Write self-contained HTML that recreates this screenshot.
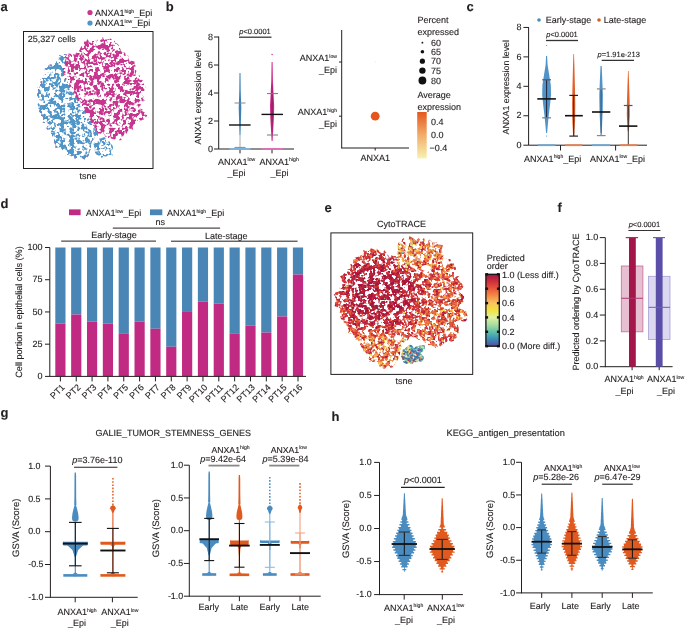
<!DOCTYPE html><html><head><meta charset="utf-8"><style>html,body{margin:0;padding:0;background:#fff;}svg{display:block;will-change:transform;filter:blur(0.25px);}text{stroke:#231f20;stroke-width:0.12px;text-rendering:geometricPrecision;}</style></head><body>
<svg width="685" height="629" viewBox="0 0 685 629" font-family='"Liberation Sans", sans-serif' font-size="9" fill="#231f20">
<rect width="685" height="629" fill="#fff"/>
<text x="0.5" y="10.6" font-size="13" font-weight="bold">a</text>
<circle cx="90" cy="12.5" r="2.6" fill="#c8368e"/>
<circle cx="90" cy="23" r="2.6" fill="#4f95c8"/>
<text x="95" y="15.8">ANXA1<tspan font-size="5.1" dy="-3.3">high</tspan><tspan dy="3.3">_Epi</tspan></text>
<text x="95" y="26.3">ANXA1<tspan font-size="5.1" dy="-3.3">low</tspan><tspan dy="3.3">_Epi</tspan></text>
<rect x="23.5" y="31.5" width="129.5" height="137" fill="none" stroke="#231f20" stroke-width="1"/>
<text x="27.8" y="42.3">25,327 cells</text>
<text x="88" y="179" text-anchor="middle">tsne</text>
<defs><filter id="texA" x="0" y="0" width="685" height="629" filterUnits="userSpaceOnUse"><feTurbulence type="fractalNoise" baseFrequency="0.2" numOctaves="2" seed="5" result="t1"/><feTurbulence type="fractalNoise" baseFrequency="0.5" numOctaves="1" seed="8" result="t2"/><feComposite in="t1" in2="t2" operator="arithmetic" k1="0" k2="0.6" k3="0.4" k4="0" result="t"/><feColorMatrix in="t" type="matrix" values="0 0 0 0 0  0 0 0 0 0  0 0 0 0 0  0 0 0 14 -6.5" result="m"/><feComposite in="SourceGraphic" in2="m" operator="in"/></filter>
<clipPath id="clipA"><path d="M91,40.8 92.8,38.8 94.7,41.1 96.6,39.2 98.4,40.1 100.3,40.5 102.5,37.2 104.3,38.2 106.2,39.5 108.4,39.2 110.7,38.6 112.4,40.3 114.5,40.5 115.8,43.1 117.7,43.9 119.1,45.5 120,48.3 121,50.7 122.1,52.8 124.4,52.6 126,53.4 127.1,54.9 128.6,56 128.4,59.2 130,60.2 132.1,60.9 134.5,61.5 134.6,64.4 135.8,66.1 135,69.4 136.5,70.7 135.4,73.9 136.1,75.7 140.3,75.5 138.4,78.9 141.5,79.2 142.8,80.6 142.7,82.6 144,84 145,85.7 146.4,87.2 145.3,89.4 144.1,91.5 143.6,93.4 142.8,95.3 143.5,96.9 142.6,98.7 145,100.4 141.6,102.1 140.8,103.8 140.4,105.7 138.2,107.3 143.2,110 141,110.6 143.9,112.1 145.8,113.5 148.4,117.4 143,117.5 143.9,119.6 140.9,120.4 139.3,121.7 137.2,122.3 137.2,124.1 134,124.1 133.1,125.4 132.5,127 133.3,129.8 127.9,128 129.1,131.6 128.4,133.7 125.7,133.9 124.5,135.6 122.3,136 122.4,139.5 120.4,140.2 118.3,140.5 116,139.7 113.8,139.2 111.8,138.8 109.4,137.4 108.8,140.9 105.5,136.7 102.4,131.5 101.3,133.5 99.7,134.3 97.9,135.3 96.5,136.3 95,137.4 93.5,139.2 91.9,141.6 91.6,142.2 91.2,143.5 90.5,148.8 90.2,150.4 90,149.7 88.6,155.6 87.6,157.2 86.9,156.8 86.2,156.6 85.1,159.2 84.3,159.5 82.5,158.3 80.9,157.1 78.8,157.6 75.9,160.3 74.6,158.3 73.8,155.3 71.4,156.2 69.8,155.3 67.6,155.4 65.3,155.5 64.4,153 63.2,151.2 61.7,149.7 61.2,147 58.5,147.3 55.5,147.7 55,145.6 54.7,143.3 54.1,141.4 54,139.1 53.5,137.2 52.4,135.9 51.8,134 50.6,132.7 51,130.3 48.2,130 46.6,128.8 47,126.5 48.4,123.8 46,123.1 42.7,122.6 43.5,120.4 43.3,118.6 43.1,116.8 40.9,115.5 41.9,113.4 39.2,112.2 39.5,110 37.6,108.2 37.6,106.1 37.9,104 39.8,102 39.4,100 38.9,98.1 37.3,96 37.2,93.9 38.7,92.1 37.8,90 36.9,87.9 38.5,86.4 40,84.9 41.1,83.4 40.1,81.1 40.2,79.2 42.7,78.3 42.7,76.3 44.3,75 45.9,73.8 44.4,70.8 44.5,68.6 47.1,68.1 48.3,66.6 49,64.8 51.4,64.4 52.7,63 53.1,60.8 56.7,61.7 57.3,59.4 58,56.9 59.5,55.3 62.9,56.2 64.2,54.3 66.8,54.3 68,53.6 69.5,53.5 71.6,54.2 74.3,54.2 76.5,53.3 77.3,50.2 79.3,50.5 80.4,48.1 81.8,46.1 83.5,45.9 84.3,41.2 86.2,41.8 87.4,38.4 89.6,42.7Z"/></clipPath></defs>
<g filter="url(#texA)">
<g clip-path="url(#clipA)"><rect x="20" y="30" width="140" height="140" fill="#c8368e"/><path d="M20,20 66,20 66,53 65,62 63,68 64,77 70,86 76,97 82,106 87,115 92,124 98,133 99,140 99,175 20,175Z" fill="#4f95c8"/></g>
<path d="M93,145 93.9,143.1 95.8,141.8 96.8,139.8 98.9,138.7 101.5,138.3 104.3,136.9 106.1,139.1 108.1,139.5 109.6,140.4 110.1,142.6 111.3,144.3 112.8,146 113,148.4 113,150.9 114.2,154.3 112.3,155.5 108.8,154.7 107.5,156 105.8,156.4 103.9,156.2 101.9,157.8 99.9,157.2 98.8,155.4 96.8,154.8 95.2,153.3 94.4,151.4 94.7,149.3 94.6,147.4Z" fill="#4f95c8"/>
</g>
<text x="165.8" y="10.6" font-size="13" font-weight="bold">b</text>
<line x1="218.7" y1="36.5" x2="218.7" y2="149" stroke="#231f20" stroke-width="1"/>
<line x1="214.0" y1="149.0" x2="218.7" y2="149.0" stroke="#231f20" stroke-width="1"/>
<text x="213.0" y="151.64" text-anchor="end">0</text>
<line x1="214.0" y1="121.0" x2="218.7" y2="121.0" stroke="#231f20" stroke-width="1"/>
<text x="213.0" y="123.64" text-anchor="end">2</text>
<line x1="214.0" y1="93.0" x2="218.7" y2="93.0" stroke="#231f20" stroke-width="1"/>
<text x="213.0" y="95.64" text-anchor="end">4</text>
<line x1="214.0" y1="65.0" x2="218.7" y2="65.0" stroke="#231f20" stroke-width="1"/>
<text x="213.0" y="67.64" text-anchor="end">6</text>
<line x1="214.0" y1="37.0" x2="218.7" y2="37.0" stroke="#231f20" stroke-width="1"/>
<text x="213.0" y="39.64" text-anchor="end">8</text>
<line x1="218.7" y1="149" x2="294" y2="149" stroke="#231f20" stroke-width="1"/>
<line x1="240" y1="149" x2="240" y2="153.4" stroke="#231f20" stroke-width="1"/>
<line x1="272" y1="149" x2="272" y2="153.4" stroke="#231f20" stroke-width="1"/>
<text x="201.5" y="97.4" font-size="8.8" text-anchor="middle" transform="rotate(-90 201.5 97.4)">ANXA1 expression level</text>
<text x="255" y="33.8" font-size="7.5" text-anchor="middle"><tspan font-style="italic">p</tspan>&lt;0.0001</text>
<line x1="239" y1="37.2" x2="271.5" y2="37.2" stroke="#555" stroke-width="1.6"/>
<text x="218" y="164.5">ANXA1<tspan font-size="5.1" dy="-3.3">low</tspan></text>
<text x="227.5" y="175.5">_Epi</text>
<text x="259.6" y="164.5">ANXA1<tspan font-size="5.1" dy="-3.3">high</tspan></text>
<text x="270.6" y="175.5">_Epi</text>
<path d="M239.5,73.0 239.3,90.0 239.0,100.0 238.7,108.0 239.0,118.0 239.3,128.0 239.5,135.0 240.5,135.0 240.7,128.0 241.0,118.0 241.3,108.0 241.0,100.0 240.7,90.0 240.5,73.0Z" fill="#3f7fb5"/>
<line x1="240" y1="135" x2="240" y2="147.5" stroke="#aaa" stroke-width="1"/>
<line x1="234.5" y1="103" x2="245.5" y2="103" stroke="#888" stroke-width="1"/>
<line x1="234.5" y1="147.4" x2="245.5" y2="147.4" stroke="#888" stroke-width="1"/>
<line x1="229.5" y1="149" x2="250.5" y2="149" stroke="#7fb6e0" stroke-width="1.8"/>
<line x1="229" y1="125" x2="250.6" y2="125" stroke="#111" stroke-width="1.4"/>
<circle cx="272.1" cy="54.5" r="0.7" fill="#c62a82"/>
<path d="M271.6,62.0 271.3,80.0 270.6,95.0 270.0,106.0 270.3,118.0 271.0,130.0 271.6,141.0 272.6,141.0 273.2,130.0 273.9,118.0 274.2,106.0 273.6,95.0 272.9,80.0 272.6,62.0Z" fill="#cc2a88"/>
<path d="M271.9,85.0 271.5,100.0 271.4,115.0 271.9,132.0 272.3,132.0 272.8,115.0 272.7,100.0 272.3,85.0Z" fill="#8e1a5c"/>
<line x1="267" y1="93.6" x2="278" y2="93.6" stroke="#777" stroke-width="1"/>
<line x1="267" y1="135" x2="278" y2="135" stroke="#777" stroke-width="1"/>
<line x1="261.5" y1="149" x2="283" y2="149" stroke="#e070b8" stroke-width="1.8"/>
<line x1="261.5" y1="114.4" x2="283" y2="114.4" stroke="#111" stroke-width="1.4"/>
<line x1="341.7" y1="30" x2="341.7" y2="148.2" stroke="#231f20" stroke-width="1"/>
<line x1="341.2" y1="148" x2="409" y2="148" stroke="#231f20" stroke-width="1"/>
<line x1="339" y1="62" x2="341.7" y2="62" stroke="#231f20" stroke-width="1"/>
<line x1="339" y1="116.2" x2="341.7" y2="116.2" stroke="#231f20" stroke-width="1"/>
<line x1="375.2" y1="148" x2="375.2" y2="150.5" stroke="#231f20" stroke-width="1"/>
<circle cx="375.2" cy="116.2" r="4.4" fill="#e4561e"/>
<circle cx="375.2" cy="62" r="0.6" fill="#f0e8a0"/>
<text x="337" y="61" text-anchor="end">ANXA1<tspan font-size="5.1" dy="-3.3">low</tspan></text>
<text x="337" y="72.5" text-anchor="end">_Epi</text>
<text x="337" y="115" text-anchor="end">ANXA1<tspan font-size="5.1" dy="-3.3">high</tspan></text>
<text x="337" y="126.5" text-anchor="end">_Epi</text>
<text x="375.2" y="160.5" text-anchor="middle">ANXA1</text>
<text x="417.5" y="23">Percent</text>
<text x="417.5" y="34.5">expressed</text>
<circle cx="422.4" cy="42.7" r="0.9" fill="#111"/>
<text x="431" y="45.900000000000006">60</text>
<circle cx="422.4" cy="51.8" r="1.8" fill="#111"/>
<text x="431" y="55.0">65</text>
<circle cx="422.4" cy="61.2" r="2.6" fill="#111"/>
<text x="431" y="64.4">70</text>
<circle cx="422.4" cy="70.6" r="3.2" fill="#111"/>
<text x="431" y="73.8">75</text>
<circle cx="422.4" cy="80.5" r="3.9" fill="#111"/>
<text x="431" y="83.7">80</text>
<text x="417.5" y="98.3">Average</text>
<text x="417.5" y="109.5">expression</text>
<defs><linearGradient id="avg" x1="0" y1="0" x2="0" y2="1"><stop offset="0" stop-color="#e4561e"/><stop offset="0.5" stop-color="#f2ad6a"/><stop offset="1" stop-color="#f8f2b0"/></linearGradient></defs>
<rect x="417.2" y="112" width="9.5" height="46.4" fill="url(#avg)"/>
<text x="431" y="124.6">0.4</text>
<text x="431" y="137.8">0.0</text>
<text x="429.5" y="151.2">−0.4</text>
<text x="400" y="0"></text>
<text x="466.5" y="10.8" font-size="13" font-weight="bold">c</text>
<circle cx="539" cy="20" r="1.8" fill="#4a8cc0"/>
<text x="545.8" y="23.2">Early-stage</text>
<circle cx="599" cy="20" r="1.8" fill="#e05a1f"/>
<text x="603.8" y="23.2">Late-stage</text>
<line x1="528.6" y1="27" x2="528.6" y2="145.2" stroke="#231f20" stroke-width="1"/>
<line x1="523.4" y1="145.2" x2="528.6" y2="145.2" stroke="#231f20" stroke-width="1"/>
<text x="521.6" y="147.84" text-anchor="end">0</text>
<line x1="523.4" y1="115.75999999999999" x2="528.6" y2="115.75999999999999" stroke="#231f20" stroke-width="1"/>
<text x="521.6" y="118.4" text-anchor="end">2</text>
<line x1="523.4" y1="86.32" x2="528.6" y2="86.32" stroke="#231f20" stroke-width="1"/>
<text x="521.6" y="88.96" text-anchor="end">4</text>
<line x1="523.4" y1="56.87999999999998" x2="528.6" y2="56.87999999999998" stroke="#231f20" stroke-width="1"/>
<text x="521.6" y="59.52" text-anchor="end">6</text>
<line x1="523.4" y1="27.439999999999984" x2="528.6" y2="27.439999999999984" stroke="#231f20" stroke-width="1"/>
<text x="521.6" y="30.08" text-anchor="end">8</text>
<line x1="528.6" y1="145.2" x2="647" y2="145.2" stroke="#231f20" stroke-width="1"/>
<line x1="560.5" y1="145.2" x2="560.5" y2="150.5" stroke="#231f20" stroke-width="1"/>
<line x1="615.6" y1="145.2" x2="615.6" y2="150.5" stroke="#231f20" stroke-width="1"/>
<text x="509" y="87.3" font-size="8.8" text-anchor="middle" transform="rotate(-90 509 87.3)">ANXA1 expression level</text>
<text x="562" y="36.8" font-size="7.5" text-anchor="middle"><tspan font-style="italic">p</tspan>&lt;0.0001</text>
<line x1="546" y1="40.5" x2="578" y2="40.5" stroke="#333" stroke-width="1.3"/>
<text x="618.7" y="56.8" font-size="7.5" text-anchor="middle"><tspan font-style="italic">p</tspan>=1.91e-213</text>
<line x1="601.7" y1="60.4" x2="634" y2="60.4" stroke="#333" stroke-width="1.3"/>
<text x="552.7" y="161.6" text-anchor="middle">ANXA1<tspan font-size="5.1" dy="-3.3">high</tspan><tspan dy="3.3">_Epi</tspan></text>
<text x="617.5" y="161.6" text-anchor="middle">ANXA1<tspan font-size="5.1" dy="-3.3">low</tspan><tspan dy="3.3">_Epi</tspan></text>
<path d="M546.1,56.0 545.6,65.0 544.0,75.0 542.4,85.0 542.2,95.0 543.2,105.0 544.4,115.0 545.4,125.0 546.1,133.0 547.1,133.0 547.8,125.0 548.8,115.0 550.0,105.0 551.0,95.0 550.8,85.0 549.2,75.0 547.6,65.0 547.1,56.0Z" fill="#4f93c8"/>
<circle cx="546.6" cy="45.5" r="0.6" fill="#4f93c8"/>
<circle cx="546.6" cy="136" r="0.6" fill="#4f93c8"/>
<line x1="546.6" y1="80" x2="546.6" y2="118" stroke="#223" stroke-width="1"/>
<line x1="542.2" y1="79.8" x2="551" y2="79.8" stroke="#556" stroke-width="1.2"/>
<line x1="542.2" y1="117.8" x2="551" y2="117.8" stroke="#778" stroke-width="1.2"/>
<line x1="537.3" y1="98.9" x2="555.9" y2="98.9" stroke="#111" stroke-width="1.6"/>
<line x1="537.9" y1="145.2" x2="555.3" y2="145.2" stroke="#6aa6d8" stroke-width="1.8"/>
<path d="M573.4,54.0 572.9,70.0 572.4,90.0 572.1,105.0 572.3,120.0 573.1,136.0 574.3,136.0 575.1,120.0 575.3,105.0 575.0,90.0 574.5,70.0 574.0,54.0Z" fill="#e2602a"/>
<line x1="573.7" y1="95.4" x2="573.7" y2="136" stroke="#3a2a20" stroke-width="1"/>
<line x1="569.3" y1="95.4" x2="578" y2="95.4" stroke="#222" stroke-width="1.2"/>
<line x1="569.3" y1="136.1" x2="578" y2="136.1" stroke="#222" stroke-width="1.2"/>
<line x1="565" y1="115.7" x2="582.8" y2="115.7" stroke="#111" stroke-width="1.6"/>
<line x1="565" y1="145.2" x2="582.4" y2="145.2" stroke="#f07a48" stroke-width="1.8"/>
<path d="M600.5,66.0 599.9,80.0 599.3,95.0 599.5,110.0 600.1,125.0 600.6,133.0 601.6,133.0 602.1,125.0 602.7,110.0 602.9,95.0 602.3,80.0 601.7,66.0Z" fill="#4f93c8"/>
<line x1="601.1" y1="89" x2="601.1" y2="135.6" stroke="#3a5a7a" stroke-width="1"/>
<line x1="596.9" y1="88.9" x2="605.6" y2="88.9" stroke="#888" stroke-width="1.2"/>
<line x1="596.9" y1="135.6" x2="605.6" y2="135.6" stroke="#888" stroke-width="1.2"/>
<line x1="592" y1="112" x2="610.3" y2="112" stroke="#111" stroke-width="1.6"/>
<line x1="592" y1="145.2" x2="610" y2="145.2" stroke="#6aa6d8" stroke-width="1.8"/>
<path d="M628.0,71.0 627.5,85.0 627.0,100.0 626.8,115.0 627.7,131.0 628.9,131.0 629.8,115.0 629.6,100.0 629.1,85.0 628.6,71.0Z" fill="#e2602a"/>
<line x1="628.3" y1="105.5" x2="628.3" y2="145" stroke="#333" stroke-width="1"/>
<line x1="623.8" y1="105.5" x2="632.5" y2="105.5" stroke="#555" stroke-width="1.2"/>
<line x1="619" y1="126.1" x2="637.4" y2="126.1" stroke="#111" stroke-width="1.6"/>
<line x1="619.6" y1="145.2" x2="637.4" y2="145.2" stroke="#f07a48" stroke-width="1.8"/>
<text x="0.5" y="207.5" font-size="13" font-weight="bold">d</text>
<rect x="69" y="209.4" width="11.6" height="5.8" fill="#c12a82"/>
<text x="86" y="215.8">ANXA1<tspan font-size="5.1" dy="-3.3">low</tspan><tspan dy="3.3">_Epi</tspan></text>
<rect x="150" y="209.4" width="12.3" height="5.8" fill="#4a86b5"/>
<text x="167" y="215.8">ANXA1<tspan font-size="5.1" dy="-3.3">high</tspan><tspan dy="3.3">_Epi</tspan></text>
<line x1="112.8" y1="228.1" x2="220.1" y2="228.1" stroke="#231f20" stroke-width="1"/>
<text x="160.2" y="225.2" text-anchor="middle">ns</text>
<line x1="61.2" y1="241.1" x2="156" y2="241.1" stroke="#231f20" stroke-width="1"/>
<text x="113.9" y="237.8" text-anchor="middle">Early-stage</text>
<line x1="171" y1="241.2" x2="297.6" y2="241.2" stroke="#231f20" stroke-width="1"/>
<text x="226.2" y="238.5" text-anchor="middle">Late-stage</text>
<rect x="55.3" y="247.5" width="10.2" height="76.05" fill="#4a86b5"/>
<rect x="55.3" y="323.55" width="10.2" height="52.85" fill="#c12a82"/>
<line x1="60.4" y1="376.4" x2="60.4" y2="381.4" stroke="#231f20" stroke-width="1"/>
<text x="65.4" y="387.9" text-anchor="end" transform="rotate(-45 65.4 387.9)">PT1</text>
<rect x="71.14" y="247.5" width="10.2" height="67.03" fill="#4a86b5"/>
<rect x="71.14" y="314.53" width="10.2" height="61.87" fill="#c12a82"/>
<line x1="76.24" y1="376.4" x2="76.24" y2="381.4" stroke="#231f20" stroke-width="1"/>
<text x="81.2" y="387.9" text-anchor="end" transform="rotate(-45 81.2 387.9)">PT2</text>
<rect x="86.98" y="247.5" width="10.2" height="74.12" fill="#4a86b5"/>
<rect x="86.98" y="321.62" width="10.2" height="54.78" fill="#c12a82"/>
<line x1="92.08" y1="376.4" x2="92.08" y2="381.4" stroke="#231f20" stroke-width="1"/>
<text x="97.1" y="387.9" text-anchor="end" transform="rotate(-45 97.1 387.9)">PT3</text>
<rect x="102.82" y="247.5" width="10.2" height="76.05" fill="#4a86b5"/>
<rect x="102.82" y="323.55" width="10.2" height="52.85" fill="#c12a82"/>
<line x1="107.91999999999999" y1="376.4" x2="107.91999999999999" y2="381.4" stroke="#231f20" stroke-width="1"/>
<text x="112.9" y="387.9" text-anchor="end" transform="rotate(-45 112.9 387.9)">PT4</text>
<rect x="118.66" y="247.5" width="10.2" height="86.36" fill="#4a86b5"/>
<rect x="118.66" y="333.86" width="10.2" height="42.54" fill="#c12a82"/>
<line x1="123.75999999999999" y1="376.4" x2="123.75999999999999" y2="381.4" stroke="#231f20" stroke-width="1"/>
<text x="128.8" y="387.9" text-anchor="end" transform="rotate(-45 128.8 387.9)">PT5</text>
<rect x="134.5" y="247.5" width="10.2" height="74.12" fill="#4a86b5"/>
<rect x="134.5" y="321.62" width="10.2" height="54.78" fill="#c12a82"/>
<line x1="139.6" y1="376.4" x2="139.6" y2="381.4" stroke="#231f20" stroke-width="1"/>
<text x="144.6" y="387.9" text-anchor="end" transform="rotate(-45 144.6 387.9)">PT6</text>
<rect x="150.34" y="247.5" width="10.2" height="81.21" fill="#4a86b5"/>
<rect x="150.34" y="328.71" width="10.2" height="47.69" fill="#c12a82"/>
<line x1="155.44" y1="376.4" x2="155.44" y2="381.4" stroke="#231f20" stroke-width="1"/>
<text x="160.4" y="387.9" text-anchor="end" transform="rotate(-45 160.4 387.9)">PT7</text>
<rect x="166.18" y="247.5" width="10.2" height="99.25" fill="#4a86b5"/>
<rect x="166.18" y="346.75" width="10.2" height="29.65" fill="#c12a82"/>
<line x1="171.28" y1="376.4" x2="171.28" y2="381.4" stroke="#231f20" stroke-width="1"/>
<text x="176.3" y="387.9" text-anchor="end" transform="rotate(-45 176.3 387.9)">PT8</text>
<rect x="182.02" y="247.5" width="10.2" height="64.45" fill="#4a86b5"/>
<rect x="182.02" y="311.95" width="10.2" height="64.45" fill="#c12a82"/>
<line x1="187.12" y1="376.4" x2="187.12" y2="381.4" stroke="#231f20" stroke-width="1"/>
<text x="192.1" y="387.9" text-anchor="end" transform="rotate(-45 192.1 387.9)">PT9</text>
<rect x="197.86" y="247.5" width="10.2" height="54.14" fill="#4a86b5"/>
<rect x="197.86" y="301.64" width="10.2" height="74.76" fill="#c12a82"/>
<line x1="202.96" y1="376.4" x2="202.96" y2="381.4" stroke="#231f20" stroke-width="1"/>
<text x="208.0" y="387.9" text-anchor="end" transform="rotate(-45 208.0 387.9)">PT10</text>
<rect x="213.7" y="247.5" width="10.2" height="56.07" fill="#4a86b5"/>
<rect x="213.7" y="303.57" width="10.2" height="72.83" fill="#c12a82"/>
<line x1="218.8" y1="376.4" x2="218.8" y2="381.4" stroke="#231f20" stroke-width="1"/>
<text x="223.8" y="387.9" text-anchor="end" transform="rotate(-45 223.8 387.9)">PT11</text>
<rect x="229.54" y="247.5" width="10.2" height="86.36" fill="#4a86b5"/>
<rect x="229.54" y="333.86" width="10.2" height="42.54" fill="#c12a82"/>
<line x1="234.64000000000001" y1="376.4" x2="234.64000000000001" y2="381.4" stroke="#231f20" stroke-width="1"/>
<text x="239.6" y="387.9" text-anchor="end" transform="rotate(-45 239.6 387.9)">PT12</text>
<rect x="245.38" y="247.5" width="10.2" height="77.98" fill="#4a86b5"/>
<rect x="245.38" y="325.48" width="10.2" height="50.92" fill="#c12a82"/>
<line x1="250.48" y1="376.4" x2="250.48" y2="381.4" stroke="#231f20" stroke-width="1"/>
<text x="255.5" y="387.9" text-anchor="end" transform="rotate(-45 255.5 387.9)">PT13</text>
<rect x="261.22" y="247.5" width="10.2" height="85.07" fill="#4a86b5"/>
<rect x="261.22" y="332.57" width="10.2" height="43.83" fill="#c12a82"/>
<line x1="266.32" y1="376.4" x2="266.32" y2="381.4" stroke="#231f20" stroke-width="1"/>
<text x="271.3" y="387.9" text-anchor="end" transform="rotate(-45 271.3 387.9)">PT14</text>
<rect x="277.06" y="247.5" width="10.2" height="68.96" fill="#4a86b5"/>
<rect x="277.06" y="316.46" width="10.2" height="59.94" fill="#c12a82"/>
<line x1="282.15999999999997" y1="376.4" x2="282.15999999999997" y2="381.4" stroke="#231f20" stroke-width="1"/>
<text x="287.2" y="387.9" text-anchor="end" transform="rotate(-45 287.2 387.9)">PT15</text>
<rect x="292.9" y="247.5" width="10.2" height="27.07" fill="#4a86b5"/>
<rect x="292.9" y="274.57" width="10.2" height="101.83" fill="#c12a82"/>
<line x1="298.0" y1="376.4" x2="298.0" y2="381.4" stroke="#231f20" stroke-width="1"/>
<text x="303.0" y="387.9" text-anchor="end" transform="rotate(-45 303.0 387.9)">PT16</text>
<line x1="49.8" y1="247.5" x2="49.8" y2="376.9" stroke="#231f20" stroke-width="1"/>
<line x1="45.0" y1="376.4" x2="49.8" y2="376.4" stroke="#231f20" stroke-width="1"/>
<text x="42.5" y="379.04" text-anchor="end">0</text>
<line x1="45.0" y1="344.17499999999995" x2="49.8" y2="344.17499999999995" stroke="#231f20" stroke-width="1"/>
<text x="42.5" y="346.81" text-anchor="end">25</text>
<line x1="45.0" y1="311.95" x2="49.8" y2="311.95" stroke="#231f20" stroke-width="1"/>
<text x="42.5" y="314.59" text-anchor="end">50</text>
<line x1="45.0" y1="279.725" x2="49.8" y2="279.725" stroke="#231f20" stroke-width="1"/>
<text x="42.5" y="282.37" text-anchor="end">75</text>
<line x1="45.0" y1="247.5" x2="49.8" y2="247.5" stroke="#231f20" stroke-width="1"/>
<text x="42.5" y="250.14" text-anchor="end">100</text>
<line x1="49.8" y1="376.4" x2="306" y2="376.4" stroke="#231f20" stroke-width="1"/>
<text x="21.8" y="312" font-size="9.1" text-anchor="middle" transform="rotate(-90 21.8 312)">Cell portion in epithelial cells (%)</text>
<text x="324.5" y="212" font-size="13" font-weight="bold">e</text>
<text x="401.5" y="226.8" text-anchor="middle">CytoTRACE</text>
<rect x="330.9" y="232.9" width="141.8" height="141.5" fill="none" stroke="#231f20" stroke-width="1"/>
<text x="404" y="384" text-anchor="middle">tsne</text>
<defs><filter id="texE" x="0" y="0" width="685" height="629" filterUnits="userSpaceOnUse"><feTurbulence type="fractalNoise" baseFrequency="0.2" numOctaves="2" seed="11" result="t1"/><feTurbulence type="fractalNoise" baseFrequency="0.5" numOctaves="1" seed="3" result="t2"/><feComposite in="t1" in2="t2" operator="arithmetic" k1="0" k2="0.6" k3="0.4" k4="0" result="t"/><feColorMatrix in="t" type="matrix" values="0 0 0 0 0  0 0 0 0 0  0 0 0 0 0  0 0 0 14 -5.95" result="m"/><feComposite in="SourceGraphic" in2="m" operator="in"/></filter>
<clipPath id="clipE"><path d="M339.3,291.3 340.8,289.8 339,287.6 343,286.7 342,284.6 345,283.7 341.8,280.8 341.6,278.8 340.1,276.3 342.8,275.3 343.4,273.6 345.2,272.3 347.3,271.3 347.6,269.4 350.3,268.8 350.9,267.1 350.3,264.5 351.4,262.9 353.4,262 351.9,258.3 354.4,257.8 357.2,257.6 358.5,256.2 360.6,255.5 362.2,254.5 363.7,253.2 363.3,250.2 366.1,250.8 368.4,250.9 370,250.2 370.7,247.9 374,249.6 376.7,251.6 376.6,248.6 380.3,252.6 382.3,253.5 383.5,252.7 383.9,250.1 387,253.6 390.2,258 391.4,255.6 393.6,256.1 395.7,256.2 397.6,254.9 397.6,252.7 397.7,250.6 397.9,249.7 397.7,245.7 398.7,242.5 399.9,242.4 401.2,242.3 402.2,239.7 403.2,237.9 405.3,239.5 407.2,239.1 409.3,236.1 411.3,237 413.3,237.9 415.4,237.8 417.4,238.2 419.4,238.6 420.6,242 423.6,238.3 425.5,238.9 426.9,241 429.6,239.6 431.1,240.9 432.4,242.7 434.5,242.8 437.3,241.7 438.2,244.2 440.3,244.8 442.7,244.9 441.8,249.9 442.1,252.6 444.1,253.1 443.1,257.1 444.6,258.2 447.7,257.6 449.7,258.3 450.8,259.9 449,264.1 453.6,262.9 454.3,264.8 455.5,266.5 456.2,268.4 454.1,272.1 453.7,274.6 454.1,276.4 459.1,276 458.2,278.5 458.9,280.3 459.6,282 461.5,283.4 462.8,285 463.5,286.8 461.9,289.1 457.6,291.8 460.4,293 462.1,294.6 464.6,296.2 463.9,298.2 462.6,300.1 463.6,302 461,303.8 460.4,305.5 460.1,307.3 462.2,309.3 466.4,311.8 466.6,313.8 467.5,315.9 466.6,317.6 467.3,319.3 467.2,320.7 464.9,321.4 459.7,321 457.9,321.7 456,322.4 458.1,325.4 458.5,327.9 459,330.4 459.3,333 456.5,333.6 456.4,335.7 457,338.5 454.3,339 453.8,341 451.5,341.5 447.5,340.4 446.7,342 444.4,342.3 443.5,343.9 441.7,344.6 440.8,346.4 436.9,343.5 437.8,347.3 436.7,348.4 433.7,346.6 430.7,344.7 429,344.9 428,345 426.6,344.2 425.1,343.3 422.1,338.9 420.3,337.1 420.1,339.4 418.2,339.8 415.4,337.5 413.4,337.3 411.4,336.3 409.6,336.6 408,340.4 406,340.3 403.9,342.6 403.3,343.9 402.9,342.8 402.3,344.3 401.4,350.7 401,350.1 400.6,350.1 399.7,354.6 399.1,356 398.5,357.4 397.5,361.4 397.2,359.1 396.3,362.2 395.7,362.3 395.2,362.6 394.4,364.5 392.1,368.1 390.4,368.1 389.3,365.5 387.7,365.4 385.1,368.4 383,368.7 382.3,365.2 379.2,368.2 378.4,365.1 377.9,361.8 376.2,361.1 373.8,361.9 371.1,362.7 369.4,361.9 368.9,359 368.1,356.8 368.2,353.6 366.3,353.2 365.2,351.7 363.1,351.3 363,348.7 361.6,347.6 360.7,346 360,344.3 359.1,342.8 358.4,341.2 358,339.4 355.2,339.5 354,338.2 354.9,335.5 352.6,334.9 351.3,333.6 348.3,333.1 348.5,330.8 348.1,328.9 348.2,326.8 346.5,325.5 344.6,324.3 343.5,322.7 343.1,320.9 341.1,319.6 340.7,317.9 339.9,316.2 341.1,314.1 339.6,312.6 340.5,310.7 340.4,309 338.4,307.5 334.5,305.9 334.2,304 335.6,302.1 336.7,300.2 335.4,298.3 334,296.3 333.6,294.3 335.6,292.6Z"/></clipPath></defs>
<g filter="url(#texE)"><g clip-path="url(#clipE)">
<path d="M339.3,291.3 340.8,289.8 339,287.6 343,286.7 342,284.6 345,283.7 341.8,280.8 341.6,278.8 340.1,276.3 342.8,275.3 343.4,273.6 345.2,272.3 347.3,271.3 347.6,269.4 350.3,268.8 350.9,267.1 350.3,264.5 351.4,262.9 353.4,262 351.9,258.3 354.4,257.8 357.2,257.6 358.5,256.2 360.6,255.5 362.2,254.5 363.7,253.2 363.3,250.2 366.1,250.8 368.4,250.9 370,250.2 370.7,247.9 374,249.6 376.7,251.6 376.6,248.6 380.3,252.6 382.3,253.5 383.5,252.7 383.9,250.1 387,253.6 390.2,258 391.4,255.6 393.6,256.1 395.7,256.2 397.6,254.9 397.6,252.7 397.7,250.6 397.9,249.7 397.7,245.7 398.7,242.5 399.9,242.4 401.2,242.3 402.2,239.7 403.2,237.9 405.3,239.5 407.2,239.1 409.3,236.1 411.3,237 413.3,237.9 415.4,237.8 417.4,238.2 419.4,238.6 420.6,242 423.6,238.3 425.5,238.9 426.9,241 429.6,239.6 431.1,240.9 432.4,242.7 434.5,242.8 437.3,241.7 438.2,244.2 440.3,244.8 442.7,244.9 441.8,249.9 442.1,252.6 444.1,253.1 443.1,257.1 444.6,258.2 447.7,257.6 449.7,258.3 450.8,259.9 449,264.1 453.6,262.9 454.3,264.8 455.5,266.5 456.2,268.4 454.1,272.1 453.7,274.6 454.1,276.4 459.1,276 458.2,278.5 458.9,280.3 459.6,282 461.5,283.4 462.8,285 463.5,286.8 461.9,289.1 457.6,291.8 460.4,293 462.1,294.6 464.6,296.2 463.9,298.2 462.6,300.1 463.6,302 461,303.8 460.4,305.5 460.1,307.3 462.2,309.3 466.4,311.8 466.6,313.8 467.5,315.9 466.6,317.6 467.3,319.3 467.2,320.7 464.9,321.4 459.7,321 457.9,321.7 456,322.4 458.1,325.4 458.5,327.9 459,330.4 459.3,333 456.5,333.6 456.4,335.7 457,338.5 454.3,339 453.8,341 451.5,341.5 447.5,340.4 446.7,342 444.4,342.3 443.5,343.9 441.7,344.6 440.8,346.4 436.9,343.5 437.8,347.3 436.7,348.4 433.7,346.6 430.7,344.7 429,344.9 428,345 426.6,344.2 425.1,343.3 422.1,338.9 420.3,337.1 420.1,339.4 418.2,339.8 415.4,337.5 413.4,337.3 411.4,336.3 409.6,336.6 408,340.4 406,340.3 403.9,342.6 403.3,343.9 402.9,342.8 402.3,344.3 401.4,350.7 401,350.1 400.6,350.1 399.7,354.6 399.1,356 398.5,357.4 397.5,361.4 397.2,359.1 396.3,362.2 395.7,362.3 395.2,362.6 394.4,364.5 392.1,368.1 390.4,368.1 389.3,365.5 387.7,365.4 385.1,368.4 383,368.7 382.3,365.2 379.2,368.2 378.4,365.1 377.9,361.8 376.2,361.1 373.8,361.9 371.1,362.7 369.4,361.9 368.9,359 368.1,356.8 368.2,353.6 366.3,353.2 365.2,351.7 363.1,351.3 363,348.7 361.6,347.6 360.7,346 360,344.3 359.1,342.8 358.4,341.2 358,339.4 355.2,339.5 354,338.2 354.9,335.5 352.6,334.9 351.3,333.6 348.3,333.1 348.5,330.8 348.1,328.9 348.2,326.8 346.5,325.5 344.6,324.3 343.5,322.7 343.1,320.9 341.1,319.6 340.7,317.9 339.9,316.2 341.1,314.1 339.6,312.6 340.5,310.7 340.4,309 338.4,307.5 334.5,305.9 334.2,304 335.6,302.1 336.7,300.2 335.4,298.3 334,296.3 333.6,294.3 335.6,292.6Z" fill="rgb(184, 34, 62)"/>
<path d="M0 0m349.8 353h2.2v2.2h-2.2zm4.2 -44.9h2.2v2.2h-2.2zm2.1 46.9h2.2v2.2h-2.2zm15.1 -67.8h2.2v2.2h-2.2zm1.2 53.6h2.2v2.2h-2.2zm3.8 -78.5h2.2v2.2h-2.2zm1.1 44.2h2.2v2.2h-2.2zm16.6 49.9h2.2v2.2h-2.2zm5.2 -111.4h2.2v2.2h-2.2zm4.2 1.1h2.2v2.2h-2.2zm-1.6 4.8h2.2v2.2h-2.2zm6.7 1.3h2.2v2.2h-2.2zm-1.1 86.3h2.2v2.2h-2.2zm0.8 30.1h2.2v2.2h-2.2zm0.5 -129.5h2.2v2.2h-2.2zm2.7 0.7h2.2v2.2h-2.2zm-0.4 1.5h2.2v2.2h-2.2zm8.1 16.8h2.2v2.2h-2.2zm8 102.6h2.2v2.2h-2.2zm24.3 -0.5h2.2v2.2h-2.2zm7 -31.3h2.2v2.2h-2.2z" fill="rgb(133, 207, 164)"/>
<path d="M0 0m338.5 328h2.2v2.2h-2.2zm-0.9 22.2h2.2v2.2h-2.2zm4.9 -61.4h2.2v2.2h-2.2zm1.6 9h2.2v2.2h-2.2zm-0.3 64.9h2.2v2.2h-2.2zm4.1 -126.4h2.2v2.2h-2.2zm10.2 83.7h2.2v2.2h-2.2zm12.7 -4.5h2.2v2.2h-2.2zm7.2 52.8h2.2v2.2h-2.2zm4.5 -70.2h2.2v2.2h-2.2zm4 -64.3h2.2v2.2h-2.2zm1 12.1h2.2v2.2h-2.2zm-0.9 2.2h2.2v2.2h-2.2zm0.4 69.8h2.2v2.2h-2.2zm1.6 49.8h2.2v2.2h-2.2zm7.5 -116.3h2.2v2.2h-2.2zm0.9 43.4h2.2v2.2h-2.2zm7.4 -58.9h2.2v2.2h-2.2zm-2.6 60.6h2.2v2.2h-2.2zm3.6 -46.6h2.2v2.2h-2.2zm1.9 -10h2.2v2.2h-2.2zm-0.2 22h2.2v2.2h-2.2zm4.5 -16.9h2.2v2.2h-2.2zm2.5 12.9h2.2v2.2h-2.2zm2.5 1h2.2v2.2h-2.2zm10.8 -5.1h2.2v2.2h-2.2zm-0.1 19.6h2.2v2.2h-2.2zm3.1 -10.8h2.2v2.2h-2.2zm3.4 4.9h2.2v2.2h-2.2zm-1.2 42.1h2.2v2.2h-2.2zm5.6 2.1h2.2v2.2h-2.2zm8.9 18.1h2.2v2.2h-2.2zm8.6 -92.3h2.2v2.2h-2.2zm9.9 36.8h2.2v2.2h-2.2zm4.8 46.9h2.2v2.2h-2.2z" fill="rgb(176, 224, 160)"/>
<path d="M0 0m336.5 255.7h2.2v2.2h-2.2zm3.1 24.5h2.2v2.2h-2.2zm-1.1 43.9h2.2v2.2h-2.2zm2.1 45.3h2.2v2.2h-2.2zm3.2 -67h2.2v2.2h-2.2zm0.2 68.7h2.2v2.2h-2.2zm2 -2.6h2.2v2.2h-2.2zm3.4 -19.2h2.2v2.2h-2.2zm5.3 -6.6h2.2v2.2h-2.2zm3.6 5.1h2.2v2.2h-2.2zm-0.2 20.4h2.2v2.2h-2.2zm13.8 -16.1h2.2v2.2h-2.2zm1.4 -93.8h2.2v2.2h-2.2zm3 0.4h2.2v2.2h-2.2zm7.3 85.3h2.2v2.2h-2.2zm1.6 -74h2.2v2.2h-2.2zm1 69.9h2.2v2.2h-2.2zm-2 31.3h2.2v2.2h-2.2zm10.3 -5.5h2.2v2.2h-2.2zm2 -125.3h2.2v2.2h-2.2zm-0.3 23.4h2.2v2.2h-2.2zm0.8 38.2h2.2v2.2h-2.2zm-1.4 59.9h2.2v2.2h-2.2zm1.9 7.1h2.2v2.2h-2.2zm0.8 -122.6h2.2v2.2h-2.2zm1.2 14.6h2.2v2.2h-2.2zm-0.7 87.6h2.2v2.2h-2.2zm0.7 -113.2h2.2v2.2h-2.2zm1.5 20.1h2.2v2.2h-2.2zm-0.3 4.6h2.2v2.2h-2.2zm3.8 1.1h2.2v2.2h-2.2zm-0.6 78.6h2.2v2.2h-2.2zm-1.7 11.9h2.2v2.2h-2.2zm0.9 2.7h2.2v2.2h-2.2zm-0.8 8.2h2.2v2.2h-2.2zm2.6 -98.7h2.2v2.2h-2.2zm1.1 23.6h2.2v2.2h-2.2zm1 -33.6h2.2v2.2h-2.2zm3.5 -11.4h2.2v2.2h-2.2zm-0.4 1.3h2.2v2.2h-2.2zm1.6 -7.7h2.2v2.2h-2.2zm0.7 56h2.2v2.2h-2.2zm15.1 -54.6h2.2v2.2h-2.2zm2.9 60.2h2.2v2.2h-2.2zm3.2 -45.5h2.2v2.2h-2.2zm1.9 -12.9h2.2v2.2h-2.2zm-0.8 9.1h2.2v2.2h-2.2zm2.3 33.1h2.2v2.2h-2.2zm2.9 4.9h2.2v2.2h-2.2zm3.9 72.8h2.2v2.2h-2.2zm0 -64.3h2.2v2.2h-2.2zm4.9 -40.5h2.2v2.2h-2.2zm4.5 -15.7h2.2v2.2h-2.2zm2.7 105.5h2.2v2.2h-2.2zm0.6 -76.5h2.2v2.2h-2.2zm2.7 0.1h2.2v2.2h-2.2zm3.2 -31.2h2.2v2.2h-2.2zm4 5.1h2.2v2.2h-2.2zm2.7 44.2h2.2v2.2h-2.2zm-0.9 20.3h2.2v2.2h-2.2z" fill="rgb(211, 235, 160)"/>
<path d="M0 0m335.9 322h2.2v2.2h-2.2zm1.1 28.9h2.2v2.2h-2.2zm0.6 -11.2h2.2v2.2h-2.2zm0.2 26.1h2.2v2.2h-2.2zm5.7 -12.4h2.2v2.2h-2.2zm1.1 -97.1h2.2v2.2h-2.2zm0.4 28.7h2.2v2.2h-2.2zm0.3 85.4h2.2v2.2h-2.2zm0.6 -68.9h2.2v2.2h-2.2zm-0.4 30.4h2.2v2.2h-2.2zm0 18.3h2.2v2.2h-2.2zm6.1 -45.7h2.2v2.2h-2.2zm1.8 42.1h2.2v2.2h-2.2zm2 11.1h2.2v2.2h-2.2zm-1.4 14.3h2.2v2.2h-2.2zm5.8 -1.1h2.2v2.2h-2.2zm1.5 -36.3h2.2v2.2h-2.2zm1.2 21.6h2.2v2.2h-2.2zm-1 10.1h2.2v2.2h-2.2zm-1.5 -0.7h2.2v2.2h-2.2zm6.1 -29.4h2.2v2.2h-2.2zm3.8 -29.2h2.2v2.2h-2.2zm2.4 46.2h2.2v2.2h-2.2zm3.9 9.1h2.2v2.2h-2.2zm3.5 -4.7h2.2v2.2h-2.2zm0.9 -31.4h2.2v2.2h-2.2zm0.3 11.7h2.2v2.2h-2.2zm1.3 6.4h2.2v2.2h-2.2zm-1.5 24.6h2.2v2.2h-2.2zm3.2 -27.4h2.2v2.2h-2.2zm0 17h2.2v2.2h-2.2zm2 -20.3h2.2v2.2h-2.2zm0.1 5.9h2.2v2.2h-2.2zm5.3 25.1h2.2v2.2h-2.2zm2.6 -7h2.2v2.2h-2.2zm3.7 -12.1h2.2v2.2h-2.2zm0.2 -114.1h2.2v2.2h-2.2zm1.9 6.6h2.2v2.2h-2.2zm-1 7h2.2v2.2h-2.2zm-1.1 4.6h2.2v2.2h-2.2zm4.2 9.6h2.2v2.2h-2.2zm-1.5 29.2h2.2v2.2h-2.2zm1.9 79.5h2.2v2.2h-2.2zm3.9 -136.2h2.2v2.2h-2.2zm-0.9 14h2.2v2.2h-2.2zm1 9.2h2.2v2.2h-2.2zm-1.9 5.8h2.2v2.2h-2.2zm0.4 0.5h2.2v2.2h-2.2zm-0.1 84.7h2.2v2.2h-2.2zm1.5 -102.8h2.2v2.2h-2.2zm1.7 1.8h2.2v2.2h-2.2zm-2.1 16.4h2.2v2.2h-2.2zm4.7 -16.7h2.2v2.2h-2.2zm1.8 10.2h2.2v2.2h-2.2zm-0.3 2.7h2.2v2.2h-2.2zm0.7 -18.4h2.2v2.2h-2.2zm0.9 10.9h2.2v2.2h-2.2zm1 5.9h2.2v2.2h-2.2zm-1.9 17.5h2.2v2.2h-2.2zm4.2 -2h2.2v2.2h-2.2zm4.6 -37.1h2.2v2.2h-2.2zm0.4 67.7h2.2v2.2h-2.2zm0.4 25.5h2.2v2.2h-2.2zm3.3 30.9h2.2v2.2h-2.2zm1.1 -93.3h2.2v2.2h-2.2zm0.8 34.6h2.2v2.2h-2.2zm2.5 -51.2h2.2v2.2h-2.2zm2.5 -18.1h2.2v2.2h-2.2zm-2.7 7h2.2v2.2h-2.2zm2.4 81.8h2.2v2.2h-2.2zm-0.3 -79.2h2.2v2.2h-2.2zm3.5 19h2.2v2.2h-2.2zm0.4 -23.8h2.2v2.2h-2.2zm-0.1 45.6h2.2v2.2h-2.2zm0 71.3h2.2v2.2h-2.2zm4.3 -97.1h2.2v2.2h-2.2zm2.4 -11h2.2v2.2h-2.2zm-1.6 39.3h2.2v2.2h-2.2zm1.7 -47.2h2.2v2.2h-2.2zm0.6 68.2h2.2v2.2h-2.2zm5.5 -62.9h2.2v2.2h-2.2zm-0.2 7.5h2.2v2.2h-2.2zm-1.1 81.5h2.2v2.2h-2.2zm-0.7 27h2.2v2.2h-2.2zm3.2 -125h2.2v2.2h-2.2zm0.7 82.5h2.2v2.2h-2.2zm8.4 -24h2.2v2.2h-2.2zm4.2 -59.6h2.2v2.2h-2.2zm2.7 7.8h2.2v2.2h-2.2zm0.8 8.7h2.2v2.2h-2.2zm-1.4 87.9h2.2v2.2h-2.2zm3.1 -78.1h2.2v2.2h-2.2zm0.8 3.5h2.2v2.2h-2.2z" fill="rgb(230, 234, 124)"/>
<path d="M0 0m334.9 336h2.2v2.2h-2.2zm1.1 10.4h2.2v2.2h-2.2zm-1.2 13.9h2.2v2.2h-2.2zm2.1 -123.2h2.2v2.2h-2.2zm0.7 10.4h2.2v2.2h-2.2zm0.9 111h2.2v2.2h-2.2zm1.6 -108.1h2.2v2.2h-2.2zm1.6 95.2h2.2v2.2h-2.2zm-1.8 7.7h2.2v2.2h-2.2zm-0.4 14.1h2.2v2.2h-2.2zm3.4 -23.5h2.2v2.2h-2.2zm2.5 -78.4h2.2v2.2h-2.2zm-1.5 68.4h2.2v2.2h-2.2zm2.4 4.5h2.2v2.2h-2.2zm-2.6 30h2.2v2.2h-2.2zm1.8 -13.3h2.2v2.2h-2.2zm1 4.5h2.2v2.2h-2.2zm3.5 -109.9h2.2v2.2h-2.2zm-0.3 -13.5h2.2v2.2h-2.2zm2.1 105.8h2.2v2.2h-2.2zm-2 4.5h2.2v2.2h-2.2zm-0.2 24.7h2.2v2.2h-2.2zm3.9 -118.9h2.2v2.2h-2.2zm1.5 65.9h2.2v2.2h-2.2zm-0.2 24.2h2.2v2.2h-2.2zm1.6 9.1h2.2v2.2h-2.2zm-0.8 7.2h2.2v2.2h-2.2zm0.2 -14.7h2.2v2.2h-2.2zm3.1 -81.7h2.2v2.2h-2.2zm0.9 75.9h2.2v2.2h-2.2zm-0.6 3.4h2.2v2.2h-2.2zm5.8 23.5h2.2v2.2h-2.2zm2.8 -130.5h2.2v2.2h-2.2zm-0.8 107.7h2.2v2.2h-2.2zm-0.7 2h2.2v2.2h-2.2zm4 -5.8h2.2v2.2h-2.2zm-0.6 15.2h2.2v2.2h-2.2zm0.8 -14.1h2.2v2.2h-2.2zm0.5 19.4h2.2v2.2h-2.2zm-0.9 9.9h2.2v2.2h-2.2zm2 -24.7h2.2v2.2h-2.2zm0.7 7.7h2.2v2.2h-2.2zm0.1 6.2h2.2v2.2h-2.2zm1.5 6.5h2.2v2.2h-2.2zm-1.8 3.5h2.2v2.2h-2.2zm4 -108.6h2.2v2.2h-2.2zm-0.4 82.1h2.2v2.2h-2.2zm2.2 2.6h2.2v2.2h-2.2zm-2.1 26.9h2.2v2.2h-2.2zm3.9 -9.5h2.2v2.2h-2.2zm-0.4 10.1h2.2v2.2h-2.2zm1.9 -96.4h2.2v2.2h-2.2zm0.4 60.5h2.2v2.2h-2.2zm1.1 2.1h2.2v2.2h-2.2zm0.8 2h2.2v2.2h-2.2zm-1.6 25.7h2.2v2.2h-2.2zm3.9 -121.8h2.2v2.2h-2.2zm-2 92.5h2.2v2.2h-2.2zm-0.4 10.2h2.2v2.2h-2.2zm1.9 5.8h2.2v2.2h-2.2zm2.3 -1.9h2.2v2.2h-2.2zm-0.1 7.9h2.2v2.2h-2.2zm1.2 -12.7h2.2v2.2h-2.2zm0.9 14.1h2.2v2.2h-2.2zm1.8 1.8h2.2v2.2h-2.2zm-0.9 9.6h2.2v2.2h-2.2zm2.6 -122.5h2.2v2.2h-2.2zm2.4 2.9h2.2v2.2h-2.2zm0.4 89.8h2.2v2.2h-2.2zm-1.9 0.5h2.2v2.2h-2.2zm2.6 -97.2h2.2v2.2h-2.2zm0.9 102.2h2.2v2.2h-2.2zm-0.5 -80.8h2.2v2.2h-2.2zm2.2 98.6h2.2v2.2h-2.2zm0.3 2.6h2.2v2.2h-2.2zm0.6 -123.8h2.2v2.2h-2.2zm-0.9 6.9h2.2v2.2h-2.2zm0 -0.5h2.2v2.2h-2.2zm1 8.2h2.2v2.2h-2.2zm1.2 89.9h2.2v2.2h-2.2zm0.4 4.4h2.2v2.2h-2.2zm-2.7 5.9h2.2v2.2h-2.2zm3.2 -46.6h2.2v2.2h-2.2zm0.8 25.6h2.2v2.2h-2.2zm0.8 22.6h2.2v2.2h-2.2zm-2.7 8.8h2.2v2.2h-2.2zm3.9 -134.8h2.2v2.2h-2.2zm0 8.7h2.2v2.2h-2.2zm-1.6 2.6h2.2v2.2h-2.2zm1.4 8.3h2.2v2.2h-2.2zm0.1 4.6h2.2v2.2h-2.2zm-0.6 10.8h2.2v2.2h-2.2zm-0.7 73.1h2.2v2.2h-2.2zm0.8 21.3h2.2v2.2h-2.2zm2.1 -129h2.2v2.2h-2.2zm0.3 8h2.2v2.2h-2.2zm-0.3 4.1h2.2v2.2h-2.2zm1.3 103.9h2.2v2.2h-2.2zm0.3 -91.1h2.2v2.2h-2.2zm0.4 1.9h2.2v2.2h-2.2zm1.2 -13.4h2.2v2.2h-2.2zm-0.5 97.8h2.2v2.2h-2.2zm3.8 -109.4h2.2v2.2h-2.2zm0.5 20.2h2.2v2.2h-2.2zm1.8 -6.4h2.2v2.2h-2.2zm2.4 51.8h2.2v2.2h-2.2zm-0.2 -48h2.2v2.2h-2.2zm1.2 10.7h2.2v2.2h-2.2zm-1.2 94.9h2.2v2.2h-2.2zm2.4 -121.5h2.2v2.2h-2.2zm0 6.2h2.2v2.2h-2.2zm-0.5 2.2h2.2v2.2h-2.2zm1.1 10.1h2.2v2.2h-2.2zm4.6 9.6h2.2v2.2h-2.2zm-0.4 54.9h2.2v2.2h-2.2zm1 -83.5h2.2v2.2h-2.2zm1.2 107.2h2.2v2.2h-2.2zm1.9 -5.1h2.2v2.2h-2.2zm-1.5 21.9h2.2v2.2h-2.2zm2.6 -113h2.2v2.2h-2.2zm-0.9 9.3h2.2v2.2h-2.2zm2.5 73.4h2.2v2.2h-2.2zm4.1 -86.4h2.2v2.2h-2.2zm0.1 9.4h2.2v2.2h-2.2zm2 5.8h2.2v2.2h-2.2zm1.7 -26h2.2v2.2h-2.2zm-1.1 118.5h2.2v2.2h-2.2zm1.6 -98.1h2.2v2.2h-2.2zm0.1 32h2.2v2.2h-2.2zm3.6 -51.3h2.2v2.2h-2.2zm-2.5 22.3h2.2v2.2h-2.2zm3.4 -20.9h2.2v2.2h-2.2zm-0.8 5.4h2.2v2.2h-2.2zm2.2 0.2h2.2v2.2h-2.2zm-2.8 11h2.2v2.2h-2.2zm0.3 22.8h2.2v2.2h-2.2zm3 -42h2.2v2.2h-2.2zm1.1 8.9h2.2v2.2h-2.2zm-1.6 47.8h2.2v2.2h-2.2zm-0.4 24.3h2.2v2.2h-2.2zm1.6 53.9h2.2v2.2h-2.2zm2.4 -105.5h2.2v2.2h-2.2zm2.3 -16.3h2.2v2.2h-2.2zm-2.7 3.8h2.2v2.2h-2.2zm0.8 7h2.2v2.2h-2.2zm-0.3 6.8h2.2v2.2h-2.2zm1.4 0.5h2.2v2.2h-2.2zm0.1 62.6h2.2v2.2h-2.2zm2.4 -91.5h2.2v2.2h-2.2zm-2.1 73.8h2.2v2.2h-2.2zm4.2 -57.7h2.2v2.2h-2.2zm-0.1 39.3h2.2v2.2h-2.2zm-1 75.6h2.2v2.2h-2.2zm1.5 -64.9h2.2v2.2h-2.2zm-0.8 4.2h2.2v2.2h-2.2zm1 11.8h2.2v2.2h-2.2zm0.8 -73.7h2.2v2.2h-2.2zm-0.1 120.1h2.2v2.2h-2.2zm2.9 -128h2.2v2.2h-2.2zm0.1 8.8h2.2v2.2h-2.2zm-0.6 1.4h2.2v2.2h-2.2zm0.4 4.6h2.2v2.2h-2.2zm-0.5 14.7h2.2v2.2h-2.2zm-0.3 64h2.2v2.2h-2.2zm2.7 17.9h2.2v2.2h-2.2zm-0.2 -25.6h2.2v2.2h-2.2zm2.5 -56.4h2.2v2.2h-2.2zm0.8 45.6h2.2v2.2h-2.2zm0.3 -0.1h2.2v2.2h-2.2zm1.6 42.7h2.2v2.2h-2.2zm0.6 -22.7h2.2v2.2h-2.2z" fill="rgb(240, 226, 64)"/>
<path d="M0 0m335.2 257.1h2.2v2.2h-2.2zm0.3 10.6h2.2v2.2h-2.2zm-1.8 11.1h2.2v2.2h-2.2zm0.4 51.3h2.2v2.2h-2.2zm0.8 3.4h2.2v2.2h-2.2zm-0.5 18.7h2.2v2.2h-2.2zm4 -11.2h2.2v2.2h-2.2zm-2.1 8.5h2.2v2.2h-2.2zm3.9 -101.2h2.2v2.2h-2.2zm-2 26.4h2.2v2.2h-2.2zm2.2 70.7h2.2v2.2h-2.2zm-2.7 16.2h2.2v2.2h-2.2zm1.9 -115.2h2.2v2.2h-2.2zm2.3 89.4h2.2v2.2h-2.2zm-1.8 25.6h2.2v2.2h-2.2zm3 -107.1h2.2v2.2h-2.2zm1 1.2h2.2v2.2h-2.2zm-0.4 93.3h2.2v2.2h-2.2zm-0.9 10.1h2.2v2.2h-2.2zm1.5 1.1h2.2v2.2h-2.2zm0.3 -0.8h2.2v2.2h-2.2zm0.8 3.6h2.2v2.2h-2.2zm2.6 -120.9h2.2v2.2h-2.2zm0.2 2.6h2.2v2.2h-2.2zm-0.4 9.7h2.2v2.2h-2.2zm-2.1 83.6h2.2v2.2h-2.2zm0.4 3.5h2.2v2.2h-2.2zm3.9 -96.2h2.2v2.2h-2.2zm0.4 96.9h2.2v2.2h-2.2zm-2.4 21.1h2.2v2.2h-2.2zm3.8 -25.1h2.2v2.2h-2.2zm0 11.8h2.2v2.2h-2.2zm0.6 -99h2.2v2.2h-2.2zm0.8 89h2.2v2.2h-2.2zm0.6 1.6h2.2v2.2h-2.2zm0.1 2.7h2.2v2.2h-2.2zm1.6 -99.6h2.2v2.2h-2.2zm-1.7 82.1h2.2v2.2h-2.2zm1.8 23.9h2.2v2.2h-2.2zm-0.5 19.4h2.2v2.2h-2.2zm2.4 -43.6h2.2v2.2h-2.2zm-1.9 29h2.2v2.2h-2.2zm2.7 15.2h2.2v2.2h-2.2zm-0.6 -34.5h2.2v2.2h-2.2zm0.7 26.3h2.2v2.2h-2.2zm2.4 -30.6h2.2v2.2h-2.2zm1.4 10.9h2.2v2.2h-2.2zm-0.8 11h2.2v2.2h-2.2zm-1.4 17.4h2.2v2.2h-2.2zm2.5 -12.9h2.2v2.2h-2.2zm2 2.8h2.2v2.2h-2.2zm1.3 -116.2h2.2v2.2h-2.2zm0.8 93.6h2.2v2.2h-2.2zm1.7 17.4h2.2v2.2h-2.2zm-2.3 9h2.2v2.2h-2.2zm3.7 -120.1h2.2v2.2h-2.2zm-0.9 1.8h2.2v2.2h-2.2zm-0.1 96h2.2v2.2h-2.2zm-0.1 3.8h2.2v2.2h-2.2zm1.2 17.2h2.2v2.2h-2.2zm-0.2 7.8h2.2v2.2h-2.2zm1.5 -16.3h2.2v2.2h-2.2zm0.5 8.9h2.2v2.2h-2.2zm0.6 -127.9h2.2v2.2h-2.2zm0.9 101.6h2.2v2.2h-2.2zm1.2 17.7h2.2v2.2h-2.2zm-1.6 7h2.2v2.2h-2.2zm3.6 -127.3h2.2v2.2h-2.2zm-1.3 115.2h2.2v2.2h-2.2zm-1.2 5.8h2.2v2.2h-2.2zm2.4 6.6h2.2v2.2h-2.2zm-1.9 1.4h2.2v2.2h-2.2zm3.7 -2.1h2.2v2.2h-2.2zm2.5 -30.3h2.2v2.2h-2.2zm-1 12.3h2.2v2.2h-2.2zm0 0.3h2.2v2.2h-2.2zm-1.6 7.7h2.2v2.2h-2.2zm0.4 12.3h2.2v2.2h-2.2zm1.5 -18.8h2.2v2.2h-2.2zm0.7 3.9h2.2v2.2h-2.2zm1.8 5.2h2.2v2.2h-2.2zm-1.3 5.9h2.2v2.2h-2.2zm1.8 -9.9h2.2v2.2h-2.2zm1.6 3.3h2.2v2.2h-2.2zm-1.2 9.6h2.2v2.2h-2.2zm0.8 -120.9h2.2v2.2h-2.2zm2 103.6h2.2v2.2h-2.2zm-0.3 17.2h2.2v2.2h-2.2zm0.3 -22.2h2.2v2.2h-2.2zm0.9 3.9h2.2v2.2h-2.2zm1.6 12.8h2.2v2.2h-2.2zm-1.6 7.4h2.2v2.2h-2.2zm1.5 -29.3h2.2v2.2h-2.2zm0.5 5.7h2.2v2.2h-2.2zm1.2 8.8h2.2v2.2h-2.2zm-1 5.5h2.2v2.2h-2.2zm-0.8 11.2h2.2v2.2h-2.2zm1.2 -125.2h2.2v2.2h-2.2zm1.9 3.9h2.2v2.2h-2.2zm-1.8 92h2.2v2.2h-2.2zm2.5 7.9h2.2v2.2h-2.2zm0.6 14.8h2.2v2.2h-2.2zm1.7 0h2.2v2.2h-2.2zm-0.9 7.3h2.2v2.2h-2.2zm2.3 -14.2h2.2v2.2h-2.2zm-1 4h2.2v2.2h-2.2zm1.5 3h2.2v2.2h-2.2zm0.4 -126.7h2.2v2.2h-2.2zm0.5 6.6h2.2v2.2h-2.2zm-1.4 0.7h2.2v2.2h-2.2zm2.7 5.6h2.2v2.2h-2.2zm-0.7 3.2h2.2v2.2h-2.2zm-1.8 2.7h2.2v2.2h-2.2zm3.6 6.5h2.2v2.2h-2.2zm-0.6 82.3h2.2v2.2h-2.2zm1 4.8h2.2v2.2h-2.2zm-0.2 9.9h2.2v2.2h-2.2zm0.4 11.4h2.2v2.2h-2.2zm1.9 -113.3h2.2v2.2h-2.2zm0.4 87.5h2.2v2.2h-2.2zm-2 1.9h2.2v2.2h-2.2zm-0.5 7.8h2.2v2.2h-2.2zm-0.1 10h2.2v2.2h-2.2zm2.3 4.2h2.2v2.2h-2.2zm1.8 -112.7h2.2v2.2h-2.2zm-1.5 6.2h2.2v2.2h-2.2zm-0.5 79.4h2.2v2.2h-2.2zm1 10.3h2.2v2.2h-2.2zm-0.6 9.2h2.2v2.2h-2.2zm2.3 -119.5h2.2v2.2h-2.2zm-0.3 106.6h2.2v2.2h-2.2zm0.4 2.9h2.2v2.2h-2.2zm0 11.8h2.2v2.2h-2.2zm2.6 -121.1h2.2v2.2h-2.2zm-1 23.6h2.2v2.2h-2.2zm0.2 68.4h2.2v2.2h-2.2zm2.8 -95.6h2.2v2.2h-2.2zm0.5 4.9h2.2v2.2h-2.2zm-1.4 7.3h2.2v2.2h-2.2zm1.1 5.3h2.2v2.2h-2.2zm1.9 2.7h2.2v2.2h-2.2zm-0.2 9.4h2.2v2.2h-2.2zm2.4 -20.5h2.2v2.2h-2.2zm-1.8 9.9h2.2v2.2h-2.2zm0.8 74h2.2v2.2h-2.2zm0.5 26h2.2v2.2h-2.2zm2.8 -109.8h2.2v2.2h-2.2zm-1.5 21.1h2.2v2.2h-2.2zm2 57.5h2.2v2.2h-2.2zm-1.8 40.5h2.2v2.2h-2.2zm2.2 -123.8h2.2v2.2h-2.2zm-0.4 16.3h2.2v2.2h-2.2zm0.1 65.6h2.2v2.2h-2.2zm1.5 -85.7h2.2v2.2h-2.2zm0.4 16.6h2.2v2.2h-2.2zm-0.3 65.9h2.2v2.2h-2.2zm2.1 -74.7h2.2v2.2h-2.2zm0.9 8.2h2.2v2.2h-2.2zm-0.7 8.3h2.2v2.2h-2.2zm-0.7 4.9h2.2v2.2h-2.2zm1.1 48.3h2.2v2.2h-2.2zm2.4 -57.5h2.2v2.2h-2.2zm-1.1 72.7h2.2v2.2h-2.2zm2.3 41.2h2.2v2.2h-2.2zm-0.4 -134.6h2.2v2.2h-2.2zm0.6 9.6h2.2v2.2h-2.2zm-0.1 9.1h2.2v2.2h-2.2zm1.3 4.2h2.2v2.2h-2.2zm-1.7 54.7h2.2v2.2h-2.2zm1 27.8h2.2v2.2h-2.2zm-0.5 3.5h2.2v2.2h-2.2zm2.8 -107.9h2.2v2.2h-2.2zm0.1 8.6h2.2v2.2h-2.2zm-1.6 5.9h2.2v2.2h-2.2zm1.4 13.5h2.2v2.2h-2.2zm2.8 -22.7h2.2v2.2h-2.2zm-0.3 25.9h2.2v2.2h-2.2zm-1.3 20.1h2.2v2.2h-2.2zm0.7 20.1h2.2v2.2h-2.2zm0.3 -69.6h2.2v2.2h-2.2zm0.1 8.3h2.2v2.2h-2.2zm0.8 12.3h2.2v2.2h-2.2zm1.8 37.5h2.2v2.2h-2.2zm-2.7 5.1h2.2v2.2h-2.2zm2.5 22.9h2.2v2.2h-2.2zm-2.1 10.1h2.2v2.2h-2.2zm2.2 -83.8h2.2v2.2h-2.2zm0.3 13h2.2v2.2h-2.2zm1.2 8.8h2.2v2.2h-2.2zm-1.3 52h2.2v2.2h-2.2zm0.6 2.3h2.2v2.2h-2.2zm-0.6 21.2h2.2v2.2h-2.2zm2.5 -91.3h2.2v2.2h-2.2zm-0.2 52.2h2.2v2.2h-2.2zm3.2 2.9h2.2v2.2h-2.2zm0.3 2.1h2.2v2.2h-2.2zm-2.4 0h2.2v2.2h-2.2zm1.2 52h2.2v2.2h-2.2zm0.5 -119h2.2v2.2h-2.2zm2 63.7h2.2v2.2h-2.2zm0.1 -70.2h2.2v2.2h-2.2zm0 5.5h2.2v2.2h-2.2zm0.8 7.5h2.2v2.2h-2.2zm-0.1 11.3h2.2v2.2h-2.2zm0.8 2.1h2.2v2.2h-2.2zm-1.2 9.2h2.2v2.2h-2.2zm2.3 14.1h2.2v2.2h-2.2zm-1.2 20.1h2.2v2.2h-2.2zm0.5 29.7h2.2v2.2h-2.2zm0.7 -95.2h2.2v2.2h-2.2zm2 2.6h2.2v2.2h-2.2zm0 6.9h2.2v2.2h-2.2zm-1 0.3h2.2v2.2h-2.2zm-1 25.4h2.2v2.2h-2.2zm1.6 1.9h2.2v2.2h-2.2zm0.1 14.5h2.2v2.2h-2.2zm0.4 13.6h2.2v2.2h-2.2zm-2 56.4h2.2v2.2h-2.2zm2.7 -119.6h2.2v2.2h-2.2zm0.4 56.1h2.2v2.2h-2.2zm0.6 12.6h2.2v2.2h-2.2zm-1.9 7.9h2.2v2.2h-2.2zm-0.1 42.3h2.2v2.2h-2.2zm2.2 -101h2.2v2.2h-2.2zm1.8 53h2.2v2.2h-2.2zm-1 31.4h2.2v2.2h-2.2zm3.3 -112.8h2.2v2.2h-2.2zm-1.4 8.5h2.2v2.2h-2.2zm-0.2 33.5h2.2v2.2h-2.2zm-0.4 10.3h2.2v2.2h-2.2zm1.8 22h2.2v2.2h-2.2zm-2.5 10h2.2v2.2h-2.2zm0 6.3h2.2v2.2h-2.2zm1.5 19.4h2.2v2.2h-2.2zm0.8 24.1h2.2v2.2h-2.2zm2.6 -125.5h2.2v2.2h-2.2zm-1.9 47.4h2.2v2.2h-2.2zm-0.6 3.4h2.2v2.2h-2.2zm2.3 9.5h2.2v2.2h-2.2zm-1.5 4.6h2.2v2.2h-2.2zm-1.1 59.2h2.2v2.2h-2.2zm0.3 1.6h2.2v2.2h-2.2zm1.6 -120.5h2.2v2.2h-2.2zm0.8 6.3h2.2v2.2h-2.2zm-0.4 40.6h2.2v2.2h-2.2zm0 16h2.2v2.2h-2.2zm2.1 26.4h2.2v2.2h-2.2zm-2.4 25.1h2.2v2.2h-2.2zm2.2 3.7h2.2v2.2h-2.2zm0.6 -111.3h2.2v2.2h-2.2zm0.4 41.9h2.2v2.2h-2.2zm-0.5 25.9h2.2v2.2h-2.2zm1.2 -84.9h2.2v2.2h-2.2zm0.4 16.9h2.2v2.2h-2.2zm0.2 3.2h2.2v2.2h-2.2zm0.8 12.8h2.2v2.2h-2.2zm0.4 22.2h2.2v2.2h-2.2zm-1.9 73.5h2.2v2.2h-2.2zm3.8 -110.3h2.2v2.2h-2.2zm-1.8 13.4h2.2v2.2h-2.2zm2.7 45.1h2.2v2.2h-2.2zm-0.5 15.4h2.2v2.2h-2.2zm-1.3 24.2h2.2v2.2h-2.2zm2.7 -116.4h2.2v2.2h-2.2zm-0.9 1h2.2v2.2h-2.2zm0.8 13.4h2.2v2.2h-2.2zm-0.1 7h2.2v2.2h-2.2zm0.5 41.2h2.2v2.2h-2.2zm0.6 9.9h2.2v2.2h-2.2zm-0.7 6.4h2.2v2.2h-2.2zm-0.6 7h2.2v2.2h-2.2zm0.9 33.6h2.2v2.2h-2.2zm-1.2 4.9h2.2v2.2h-2.2zm1.9 -124.7h2.2v2.2h-2.2zm0.1 8.3h2.2v2.2h-2.2zm0.7 14.8h2.2v2.2h-2.2zm-1.2 3.4h2.2v2.2h-2.2zm1.4 3.2h2.2v2.2h-2.2zm-1.4 8.3h2.2v2.2h-2.2zm-0.2 46.6h2.2v2.2h-2.2zm1.6 8.6h2.2v2.2h-2.2zm-0.9 4.4h2.2v2.2h-2.2zm0.1 22.2h2.2v2.2h-2.2zm-0.6 2.8h2.2v2.2h-2.2zm1.7 -81.7h2.2v2.2h-2.2zm2.5 9.4h2.2v2.2h-2.2zm-0.1 20.8h2.2v2.2h-2.2zm-1.9 19.7h2.2v2.2h-2.2zm-0.5 1.7h2.2v2.2h-2.2zm2.2 6.6h2.2v2.2h-2.2zm-1.3 29.6h2.2v2.2h-2.2zm2.5 -114.4h2.2v2.2h-2.2zm-1.1 104.3h2.2v2.2h-2.2zm2.2 0.9h2.2v2.2h-2.2zm-1.6 1.2h2.2v2.2h-2.2zm2.8 -122.6h2.2v2.2h-2.2zm1 5h2.2v2.2h-2.2zm0 5.6h2.2v2.2h-2.2zm-1.7 3.4h2.2v2.2h-2.2zm-0.3 11.1h2.2v2.2h-2.2zm1.6 22.1h2.2v2.2h-2.2zm-2.1 14.1h2.2v2.2h-2.2zm1 56.2h2.2v2.2h-2.2z" fill="rgb(245, 207, 83)"/>
<path d="M0 0m335.4 244.3h2.2v2.2h-2.2zm-1 21.3h2.2v2.2h-2.2zm0.2 62.6h2.2v2.2h-2.2zm1.7 13.5h2.2v2.2h-2.2zm-0.3 -88.9h2.2v2.2h-2.2zm2.1 63.9h2.2v2.2h-2.2zm-0.1 5.5h2.2v2.2h-2.2zm-2.1 0.9h2.2v2.2h-2.2zm1.6 4.5h2.2v2.2h-2.2zm-1.8 16.3h2.2v2.2h-2.2zm2.7 12.9h2.2v2.2h-2.2zm-0.4 13.1h2.2v2.2h-2.2zm0.8 -36.3h2.2v2.2h-2.2zm1.4 32.9h2.2v2.2h-2.2zm1.8 -132.1h2.2v2.2h-2.2zm0.1 16.4h2.2v2.2h-2.2zm-2 5.5h2.2v2.2h-2.2zm-0.6 2.2h2.2v2.2h-2.2zm2.6 80.7h2.2v2.2h-2.2zm-0.2 3.1h2.2v2.2h-2.2zm-1.5 7.2h2.2v2.2h-2.2zm-0.8 6h2.2v2.2h-2.2zm2.3 -117.4h2.2v2.2h-2.2zm2 1.9h2.2v2.2h-2.2zm-2.4 6h2.2v2.2h-2.2zm1.7 6.8h2.2v2.2h-2.2zm-1 66.1h2.2v2.2h-2.2zm0.6 6.9h2.2v2.2h-2.2zm-0.1 18.1h2.2v2.2h-2.2zm1.4 -22.4h2.2v2.2h-2.2zm2.1 4h2.2v2.2h-2.2zm-1.4 3h2.2v2.2h-2.2zm-1.3 6.2h2.2v2.2h-2.2zm0 4.8h2.2v2.2h-2.2zm0.3 4.6h2.2v2.2h-2.2zm4 -6.5h2.2v2.2h-2.2zm-0.8 25.5h2.2v2.2h-2.2zm-0.8 0.9h2.2v2.2h-2.2zm1 7.1h2.2v2.2h-2.2zm0.6 -38.5h2.2v2.2h-2.2zm1.8 11.4h2.2v2.2h-2.2zm-0.6 13.2h2.2v2.2h-2.2zm2.4 -121h2.2v2.2h-2.2zm0.9 3.9h2.2v2.2h-2.2zm-1.1 9.7h2.2v2.2h-2.2zm-0.7 88.1h2.2v2.2h-2.2zm1.5 27.8h2.2v2.2h-2.2zm-1.9 2.3h2.2v2.2h-2.2zm4.1 -131.7h2.2v2.2h-2.2zm-1.5 111.4h2.2v2.2h-2.2zm-0.2 14.6h2.2v2.2h-2.2zm0.7 2.2h2.2v2.2h-2.2zm1 1.8h2.2v2.2h-2.2zm-2.6 1.7h2.2v2.2h-2.2zm4.8 -27.9h2.2v2.2h-2.2zm-1.9 21.3h2.2v2.2h-2.2zm-0.3 1.9h2.2v2.2h-2.2zm2.3 -27.3h2.2v2.2h-2.2zm1.4 2.4h2.2v2.2h-2.2zm-2.1 2.5h2.2v2.2h-2.2zm0.7 6.9h2.2v2.2h-2.2zm0 10.5h2.2v2.2h-2.2zm0.3 -0.1h2.2v2.2h-2.2zm-0.8 3.7h2.2v2.2h-2.2zm0.6 6.7h2.2v2.2h-2.2zm2.4 -120.7h2.2v2.2h-2.2zm0.4 82.7h2.2v2.2h-2.2zm0.3 7h2.2v2.2h-2.2zm-0.2 11h2.2v2.2h-2.2zm0.1 3h2.2v2.2h-2.2zm-1.6 4.8h2.2v2.2h-2.2zm1.7 -99.7h2.2v2.2h-2.2zm2.5 84.3h2.2v2.2h-2.2zm-2 23.3h2.2v2.2h-2.2zm-0.4 6.1h2.2v2.2h-2.2zm3.1 -22.1h2.2v2.2h-2.2zm0.8 0.9h2.2v2.2h-2.2zm-1.6 4.5h2.2v2.2h-2.2zm-0.6 9.8h2.2v2.2h-2.2zm1.5 3.8h2.2v2.2h-2.2zm1.3 2.4h2.2v2.2h-2.2zm-0.2 -30.1h2.2v2.2h-2.2zm1.6 8.6h2.2v2.2h-2.2zm-1.3 5.3h2.2v2.2h-2.2zm2 4.4h2.2v2.2h-2.2zm1.3 -2.3h2.2v2.2h-2.2zm2.8 -10.5h2.2v2.2h-2.2zm-2.4 11.9h2.2v2.2h-2.2zm1.9 -123.1h2.2v2.2h-2.2zm2.4 8.8h2.2v2.2h-2.2zm-2.7 94.5h2.2v2.2h-2.2zm2 6.9h2.2v2.2h-2.2zm0 -0.3h2.2v2.2h-2.2zm-0.7 20.8h2.2v2.2h-2.2zm1.6 -127h2.2v2.2h-2.2zm-1 98.7h2.2v2.2h-2.2zm1.2 5.7h2.2v2.2h-2.2zm1.5 11.9h2.2v2.2h-2.2zm-0.2 2h2.2v2.2h-2.2zm-0.3 11.8h2.2v2.2h-2.2zm0 -129.4h2.2v2.2h-2.2zm1.4 1.9h2.2v2.2h-2.2zm0.7 8.6h2.2v2.2h-2.2zm-2.1 97.5h2.2v2.2h-2.2zm1.6 19.6h2.2v2.2h-2.2zm3 -129.2h2.2v2.2h-2.2zm-0.4 11.4h2.2v2.2h-2.2zm-0.1 90.1h2.2v2.2h-2.2zm-0.6 6.2h2.2v2.2h-2.2zm0.6 1.6h2.2v2.2h-2.2zm-1.9 7.9h2.2v2.2h-2.2zm1.6 -18.8h2.2v2.2h-2.2zm1.6 14.9h2.2v2.2h-2.2zm-0.7 10.1h2.2v2.2h-2.2zm3 -118h2.2v2.2h-2.2zm0.7 14h2.2v2.2h-2.2zm-2.2 106.2h2.2v2.2h-2.2zm1.9 -124.1h2.2v2.2h-2.2zm-0.4 86h2.2v2.2h-2.2zm1.7 22.3h2.2v2.2h-2.2zm-1.5 7.4h2.2v2.2h-2.2zm3.4 -110.2h2.2v2.2h-2.2zm0 20.6h2.2v2.2h-2.2zm1.2 42.5h2.2v2.2h-2.2zm-2.7 29.7h2.2v2.2h-2.2zm1.7 31.6h2.2v2.2h-2.2zm0.7 -131.8h2.2v2.2h-2.2zm-0.3 2.1h2.2v2.2h-2.2zm0.6 109.9h2.2v2.2h-2.2zm0.6 5.6h2.2v2.2h-2.2zm0.9 -112.2h2.2v2.2h-2.2zm0.1 100.7h2.2v2.2h-2.2zm1.3 2.6h2.2v2.2h-2.2zm0.3 8.3h2.2v2.2h-2.2zm-1.2 3.4h2.2v2.2h-2.2zm3.1 -93.9h2.2v2.2h-2.2zm-1.8 83.2h2.2v2.2h-2.2zm1.1 8.2h2.2v2.2h-2.2zm1.1 1.1h2.2v2.2h-2.2zm0.3 -112.8h2.2v2.2h-2.2zm2.3 96.6h2.2v2.2h-2.2zm-2.6 0.4h2.2v2.2h-2.2zm1.5 28.4h2.2v2.2h-2.2zm2.8 -120.3h2.2v2.2h-2.2zm0.1 8.2h2.2v2.2h-2.2zm-1.1 73.7h2.2v2.2h-2.2zm0.4 16.3h2.2v2.2h-2.2zm-1.4 2h2.2v2.2h-2.2zm1.6 3.7h2.2v2.2h-2.2zm-0.2 14h2.2v2.2h-2.2zm1.1 -127h2.2v2.2h-2.2zm1 23.5h2.2v2.2h-2.2zm0.2 94h2.2v2.2h-2.2zm0.4 0.8h2.2v2.2h-2.2zm-0.8 4.9h2.2v2.2h-2.2zm-0.3 2.5h2.2v2.2h-2.2zm1.2 7.3h2.2v2.2h-2.2zm1.4 -131h2.2v2.2h-2.2zm0.6 22.1h2.2v2.2h-2.2zm-1.7 29.9h2.2v2.2h-2.2zm-0.7 37.6h2.2v2.2h-2.2zm0.7 7.2h2.2v2.2h-2.2zm1.1 1.1h2.2v2.2h-2.2zm0.8 8.3h2.2v2.2h-2.2zm-2 15.6h2.2v2.2h-2.2zm1.8 -121.2h2.2v2.2h-2.2zm-0.4 4.5h2.2v2.2h-2.2zm2.4 88.7h2.2v2.2h-2.2zm1.3 -98.5h2.2v2.2h-2.2zm0 2.8h2.2v2.2h-2.2zm-1.4 9.9h2.2v2.2h-2.2zm1 82.6h2.2v2.2h-2.2zm-0.7 12.5h2.2v2.2h-2.2zm-0.2 13h2.2v2.2h-2.2zm0.5 14.1h2.2v2.2h-2.2zm3.5 -4.2h2.2v2.2h-2.2zm-0.5 3.1h2.2v2.2h-2.2zm0.3 -42h2.2v2.2h-2.2zm-0.3 18.6h2.2v2.2h-2.2zm0.6 17.6h2.2v2.2h-2.2zm-0.1 2.3h2.2v2.2h-2.2zm1.7 -111.8h2.2v2.2h-2.2zm-0.2 8.1h2.2v2.2h-2.2zm-0.1 64h2.2v2.2h-2.2zm2.5 12.6h2.2v2.2h-2.2zm-1.6 4.6h2.2v2.2h-2.2zm1.2 10.5h2.2v2.2h-2.2zm-0.3 6.7h2.2v2.2h-2.2zm0.9 4.8h2.2v2.2h-2.2zm0.2 -131.3h2.2v2.2h-2.2zm-0.2 8.1h2.2v2.2h-2.2zm-0.1 11.3h2.2v2.2h-2.2zm0.8 75.9h2.2v2.2h-2.2zm0.4 12.8h2.2v2.2h-2.2zm0.9 8.5h2.2v2.2h-2.2zm-2.3 13.5h2.2v2.2h-2.2zm3.3 -128.7h2.2v2.2h-2.2zm-0.1 3h2.2v2.2h-2.2zm0.8 6.9h2.2v2.2h-2.2zm0.1 4.4h2.2v2.2h-2.2zm-1.1 8.4h2.2v2.2h-2.2zm-0.1 9.6h2.2v2.2h-2.2zm-1 14.8h2.2v2.2h-2.2zm-0.4 44.9h2.2v2.2h-2.2zm1.4 15.9h2.2v2.2h-2.2zm1 2.8h2.2v2.2h-2.2zm0.5 -112.7h2.2v2.2h-2.2zm-0.2 6.8h2.2v2.2h-2.2zm0 5.9h2.2v2.2h-2.2zm1.4 20h2.2v2.2h-2.2zm-0.7 5.1h2.2v2.2h-2.2zm-0.6 39.5h2.2v2.2h-2.2zm-0.1 16.8h2.2v2.2h-2.2zm0.8 41.8h2.2v2.2h-2.2zm3.2 -123.5h2.2v2.2h-2.2zm-1.1 5.1h2.2v2.2h-2.2zm0.4 11.5h2.2v2.2h-2.2zm-1.7 3.2h2.2v2.2h-2.2zm2.3 30.3h2.2v2.2h-2.2zm-2 14.8h2.2v2.2h-2.2zm2.1 49.4h2.2v2.2h-2.2zm-0.6 -111.2h2.2v2.2h-2.2zm0.1 6.8h2.2v2.2h-2.2zm1 4.1h2.2v2.2h-2.2zm-0.8 8.1h2.2v2.2h-2.2zm1.9 -0.3h2.2v2.2h-2.2zm-1.5 14.9h2.2v2.2h-2.2zm1.8 19.8h2.2v2.2h-2.2zm-1 16.8h2.2v2.2h-2.2zm-0.8 2.8h2.2v2.2h-2.2zm0.1 43.4h2.2v2.2h-2.2zm2.9 -103.8h2.2v2.2h-2.2zm1 53.1h2.2v2.2h-2.2zm-0.2 4.9h2.2v2.2h-2.2zm-1 3.9h2.2v2.2h-2.2zm0 4.6h2.2v2.2h-2.2zm-0.6 2.9h2.2v2.2h-2.2zm0.1 8.3h2.2v2.2h-2.2zm3.1 -99.8h2.2v2.2h-2.2zm-0.9 6.4h2.2v2.2h-2.2zm-0.8 6h2.2v2.2h-2.2zm0.7 30.3h2.2v2.2h-2.2zm0.4 6.6h2.2v2.2h-2.2zm-1.2 33.1h2.2v2.2h-2.2zm2.5 7.6h2.2v2.2h-2.2zm-0.8 4h2.2v2.2h-2.2zm2.2 -95.4h2.2v2.2h-2.2zm-2 0.8h2.2v2.2h-2.2zm1.5 16.9h2.2v2.2h-2.2zm0.7 2.3h2.2v2.2h-2.2zm-1.4 41.7h2.2v2.2h-2.2zm0.8 11.9h2.2v2.2h-2.2zm-1.2 3.8h2.2v2.2h-2.2zm-0.5 -0.2h2.2v2.2h-2.2zm1.6 15.9h2.2v2.2h-2.2zm-1.8 7.3h2.2v2.2h-2.2zm0.5 21.5h2.2v2.2h-2.2zm1.9 7.9h2.2v2.2h-2.2zm0.7 -125.7h2.2v2.2h-2.2zm-0.3 3.3h2.2v2.2h-2.2zm0.8 34.1h2.2v2.2h-2.2zm-1.6 7.8h2.2v2.2h-2.2zm0.5 81.4h2.2v2.2h-2.2zm2.4 -119.1h2.2v2.2h-2.2zm-0.3 8.5h2.2v2.2h-2.2zm1 0.6h2.2v2.2h-2.2zm0.4 6.9h2.2v2.2h-2.2zm-1.7 4.1h2.2v2.2h-2.2zm2.3 27.6h2.2v2.2h-2.2zm-1 8.6h2.2v2.2h-2.2zm1.1 38.2h2.2v2.2h-2.2zm-2.3 5.4h2.2v2.2h-2.2zm1.6 1.9h2.2v2.2h-2.2zm0.9 6.5h2.2v2.2h-2.2zm1.7 -112h2.2v2.2h-2.2zm-1.9 4.9h2.2v2.2h-2.2zm0.4 9.6h2.2v2.2h-2.2zm-0.6 2.4h2.2v2.2h-2.2zm0.2 1.8h2.2v2.2h-2.2zm1.2 1.8h2.2v2.2h-2.2zm0.3 15.7h2.2v2.2h-2.2zm0.6 20.1h2.2v2.2h-2.2zm-2.3 31.6h2.2v2.2h-2.2zm0.9 3.1h2.2v2.2h-2.2zm1.5 15.1h2.2v2.2h-2.2zm-0.9 4.1h2.2v2.2h-2.2zm2.4 -121.5h2.2v2.2h-2.2zm-1 5.2h2.2v2.2h-2.2zm1.3 19.9h2.2v2.2h-2.2zm-0.8 58.1h2.2v2.2h-2.2zm-1 34.2h2.2v2.2h-2.2zm0.9 5.8h2.2v2.2h-2.2zm-0.1 12.1h2.2v2.2h-2.2zm2.9 -117.9h2.2v2.2h-2.2zm-2.5 3.1h2.2v2.2h-2.2zm2.7 20h2.2v2.2h-2.2zm-1.1 8.9h2.2v2.2h-2.2zm0.4 27.7h2.2v2.2h-2.2zm-0.6 5.5h2.2v2.2h-2.2zm-0.5 8.3h2.2v2.2h-2.2zm0.3 10.1h2.2v2.2h-2.2zm-0.1 13.2h2.2v2.2h-2.2zm3 -113.8h2.2v2.2h-2.2zm-0.4 24.6h2.2v2.2h-2.2zm-1.2 5.9h2.2v2.2h-2.2zm2.3 27.9h2.2v2.2h-2.2zm-0.5 32.5h2.2v2.2h-2.2zm0.4 7.5h2.2v2.2h-2.2zm-1 8.3h2.2v2.2h-2.2zm3.1 -93.5h2.2v2.2h-2.2zm-2.5 6.4h2.2v2.2h-2.2zm-0.4 2.9h2.2v2.2h-2.2zm1.7 8.9h2.2v2.2h-2.2zm-0.2 6.9h2.2v2.2h-2.2zm1.1 1.1h2.2v2.2h-2.2zm-0.4 15.4h2.2v2.2h-2.2zm-2.3 38h2.2v2.2h-2.2zm2.8 3.7h2.2v2.2h-2.2zm-0.6 16.1h2.2v2.2h-2.2zm-1.3 6.2h2.2v2.2h-2.2zm1.4 4.3h2.2v2.2h-2.2zm-0.5 0.7h2.2v2.2h-2.2zm0.5 -123.5h2.2v2.2h-2.2zm0.5 4.1h2.2v2.2h-2.2zm0.3 10.6h2.2v2.2h-2.2zm1.6 29.5h2.2v2.2h-2.2zm-0.7 66.7h2.2v2.2h-2.2zm-1.2 2.5h2.2v2.2h-2.2zm1.5 2.1h2.2v2.2h-2.2zm-2.1 8.4h2.2v2.2h-2.2zm3.1 -117.7h2.2v2.2h-2.2zm0.5 6.2h2.2v2.2h-2.2zm-1.8 4.5h2.2v2.2h-2.2zm2 14.5h2.2v2.2h-2.2zm-0.9 29.6h2.2v2.2h-2.2zm-0.1 3.7h2.2v2.2h-2.2zm-0.4 20.5h2.2v2.2h-2.2zm0.9 2.4h2.2v2.2h-2.2zm-0.6 4.7h2.2v2.2h-2.2zm2.5 -57.1h2.2v2.2h-2.2zm0.1 9.5h2.2v2.2h-2.2zm1.3 18.1h2.2v2.2h-2.2zm-1.5 43.8h2.2v2.2h-2.2zm2.4 -91.5h2.2v2.2h-2.2zm-0.7 51.5h2.2v2.2h-2.2zm0.7 1.5h2.2v2.2h-2.2zm-0.6 38.1h2.2v2.2h-2.2zm0.3 16.1h2.2v2.2h-2.2zm0.7 -121.5h2.2v2.2h-2.2zm2 20.9h2.2v2.2h-2.2zm0 51.2h2.2v2.2h-2.2zm0.4 5.4h2.2v2.2h-2.2zm0 1.6h2.2v2.2h-2.2zm-1.6 14.6h2.2v2.2h-2.2zm1.6 -77.7h2.2v2.2h-2.2zm1.1 23.5h2.2v2.2h-2.2zm-0.2 4.5h2.2v2.2h-2.2zm0.4 7.7h2.2v2.2h-2.2zm-1.1 38.3h2.2v2.2h-2.2zm1.7 7.6h2.2v2.2h-2.2zm-0.4 3.9h2.2v2.2h-2.2zm-1 17.5h2.2v2.2h-2.2zm0.7 9.4h2.2v2.2h-2.2zm-1.4 2.9h2.2v2.2h-2.2zm1.7 -113.1h2.2v2.2h-2.2zm0.7 7.5h2.2v2.2h-2.2zm2.2 97h2.2v2.2h-2.2zm-1.2 1h2.2v2.2h-2.2zm-1 10h2.2v2.2h-2.2zm2.1 -133.8h2.2v2.2h-2.2zm0.1 14.1h2.2v2.2h-2.2zm1.2 11.6h2.2v2.2h-2.2zm-1.8 14.5h2.2v2.2h-2.2zm2.1 38.7h2.2v2.2h-2.2zm0.1 2h2.2v2.2h-2.2zm-1.4 11.7h2.2v2.2h-2.2zm1.7 19.4h2.2v2.2h-2.2zm-2.7 5.1h2.2v2.2h-2.2zm0.7 4.9h2.2v2.2h-2.2zm1 3.6h2.2v2.2h-2.2zm2.7 -116.7h2.2v2.2h-2.2zm0.2 5.2h2.2v2.2h-2.2zm-1.8 13.8h2.2v2.2h-2.2zm1.2 0.5h2.2v2.2h-2.2zm-2 21.2h2.2v2.2h-2.2zm1.8 30.4h2.2v2.2h-2.2zm0.6 5.1h2.2v2.2h-2.2zm-2 33.6h2.2v2.2h-2.2zm0.7 10.2h2.2v2.2h-2.2zm1.9 -131.4h2.2v2.2h-2.2zm0.3 3.4h2.2v2.2h-2.2zm0.2 1.6h2.2v2.2h-2.2zm0 3h2.2v2.2h-2.2zm0.5 64.2h2.2v2.2h-2.2zm0.3 4h2.2v2.2h-2.2zm0.5 14.4h2.2v2.2h-2.2zm-2.5 0h2.2v2.2h-2.2zm-0.1 11.9h2.2v2.2h-2.2zm1.4 2.8h2.2v2.2h-2.2zm-0.4 13.4h2.2v2.2h-2.2zm-0.6 14.4h2.2v2.2h-2.2zm4 -130.3h2.2v2.2h-2.2zm-1.2 6.6h2.2v2.2h-2.2zm0.6 7h2.2v2.2h-2.2zm0.5 33.9h2.2v2.2h-2.2zm-2.3 9.3h2.2v2.2h-2.2zm0.1 12.9h2.2v2.2h-2.2zm1.9 2.1h2.2v2.2h-2.2zm-1.2 0.5h2.2v2.2h-2.2zm-0.2 2.6h2.2v2.2h-2.2zm1.8 14.7h2.2v2.2h-2.2zm-0.4 20h2.2v2.2h-2.2zm0 21.6h2.2v2.2h-2.2zm1.2 -122h2.2v2.2h-2.2zm0.6 5.1h2.2v2.2h-2.2zm-0.8 2.3h2.2v2.2h-2.2zm0.6 34h2.2v2.2h-2.2zm-1.1 17.8h2.2v2.2h-2.2zm1.8 10.3h2.2v2.2h-2.2zm-0.5 14.3h2.2v2.2h-2.2zm0.8 4.7h2.2v2.2h-2.2zm-0.1 18.1h2.2v2.2h-2.2zm-0.7 1.7h2.2v2.2h-2.2zm-0.2 1.8h2.2v2.2h-2.2zm-0.2 9.5h2.2v2.2h-2.2zm1.2 -130.8h2.2v2.2h-2.2zm0.2 13.4h2.2v2.2h-2.2zm-0.5 18.8h2.2v2.2h-2.2zm2.4 49.3h2.2v2.2h-2.2zm-2 -0.6h2.2v2.2h-2.2zm1.5 9.6h2.2v2.2h-2.2zm-1.8 3.9h2.2v2.2h-2.2zm0.3 17.4h2.2v2.2h-2.2zm-0.1 2h2.2v2.2h-2.2zm1.7 14.4h2.2v2.2h-2.2zm-2 7.7h2.2v2.2h-2.2zm1.5 -128.5h2.2v2.2h-2.2zm2.4 6.7h2.2v2.2h-2.2zm-2 14.2h2.2v2.2h-2.2zm1.5 2.5h2.2v2.2h-2.2zm-0.7 37h2.2v2.2h-2.2zm-0.6 1.8h2.2v2.2h-2.2zm2.1 5.9h2.2v2.2h-2.2zm-1 7.7h2.2v2.2h-2.2zm-1.2 18h2.2v2.2h-2.2zm1.8 4.6h2.2v2.2h-2.2zm0.6 -104.3h2.2v2.2h-2.2zm1.9 7.7h2.2v2.2h-2.2zm-0.8 40.4h2.2v2.2h-2.2zm-1.5 16.4h2.2v2.2h-2.2zm1.9 8.4h2.2v2.2h-2.2zm0.5 3.3h2.2v2.2h-2.2z" fill="rgb(247, 181, 88)"/>
<path d="M0 0m334.5 234h2.2v2.2h-2.2zm0.1 1.7h2.2v2.2h-2.2zm-1 10.4h2.2v2.2h-2.2zm0.3 -0.2h2.2v2.2h-2.2zm1.6 25.7h2.2v2.2h-2.2zm-1.9 40.8h2.2v2.2h-2.2zm0.6 10.7h2.2v2.2h-2.2zm0.4 24h2.2v2.2h-2.2zm0.8 2h2.2v2.2h-2.2zm-0.6 3h2.2v2.2h-2.2zm-1.2 8.7h2.2v2.2h-2.2zm3.4 -125.8h2.2v2.2h-2.2zm-0.2 6.7h2.2v2.2h-2.2zm0 13.9h2.2v2.2h-2.2zm-1.2 72.3h2.2v2.2h-2.2zm0.1 9.8h2.2v2.2h-2.2zm2 0.4h2.2v2.2h-2.2zm0.5 26.9h2.2v2.2h-2.2zm-1.3 1.4h2.2v2.2h-2.2zm-0.4 2h2.2v2.2h-2.2zm3.1 -132.2h2.2v2.2h-2.2zm0.1 12.7h2.2v2.2h-2.2zm0.5 13.6h2.2v2.2h-2.2zm0 5.2h2.2v2.2h-2.2zm-1.8 33.9h2.2v2.2h-2.2zm0 14.8h2.2v2.2h-2.2zm1.8 7.8h2.2v2.2h-2.2zm-0.5 1.4h2.2v2.2h-2.2zm-1.6 11h2.2v2.2h-2.2zm1.5 9.8h2.2v2.2h-2.2zm0.6 3h2.2v2.2h-2.2zm-1.5 2.9h2.2v2.2h-2.2zm-0.5 16.5h2.2v2.2h-2.2zm1.5 -78.5h2.2v2.2h-2.2zm0.5 4.4h2.2v2.2h-2.2zm0.7 15.1h2.2v2.2h-2.2zm-0.1 2h2.2v2.2h-2.2zm0.2 12.6h2.2v2.2h-2.2zm0.2 20.2h2.2v2.2h-2.2zm-1 14.7h2.2v2.2h-2.2zm0 2.6h2.2v2.2h-2.2zm1.2 4.2h2.2v2.2h-2.2zm1.5 -118.4h2.2v2.2h-2.2zm1.2 12.8h2.2v2.2h-2.2zm-1.2 5.5h2.2v2.2h-2.2zm-0.8 3.4h2.2v2.2h-2.2zm-0.5 25.3h2.2v2.2h-2.2zm0.4 29.3h2.2v2.2h-2.2zm0.4 5.6h2.2v2.2h-2.2zm1.3 22.5h2.2v2.2h-2.2zm-0.6 11.9h2.2v2.2h-2.2zm0.8 -125.5h2.2v2.2h-2.2zm0.9 3.1h2.2v2.2h-2.2zm-0.6 4.3h2.2v2.2h-2.2zm0.7 6.5h2.2v2.2h-2.2zm0 8.4h2.2v2.2h-2.2zm1.4 3.3h2.2v2.2h-2.2zm-0.3 24.5h2.2v2.2h-2.2zm-0.1 29.6h2.2v2.2h-2.2zm-0.3 1.1h2.2v2.2h-2.2zm-0.2 18.8h2.2v2.2h-2.2zm-1.8 7.6h2.2v2.2h-2.2zm2.8 8h2.2v2.2h-2.2zm-0.4 0h2.2v2.2h-2.2zm-0.5 6.2h2.2v2.2h-2.2zm0.4 6.4h2.2v2.2h-2.2zm2.3 -131.7h2.2v2.2h-2.2zm-1.1 22.3h2.2v2.2h-2.2zm-0.4 27.9h2.2v2.2h-2.2zm1.5 49.4h2.2v2.2h-2.2zm-0.3 9h2.2v2.2h-2.2zm-1.2 2.5h2.2v2.2h-2.2zm0.9 12.2h2.2v2.2h-2.2zm-1.5 9.7h2.2v2.2h-2.2zm3.6 -134h2.2v2.2h-2.2zm0.6 9.1h2.2v2.2h-2.2zm0.2 84.4h2.2v2.2h-2.2zm-0.9 1.6h2.2v2.2h-2.2zm0.3 9.3h2.2v2.2h-2.2zm-0.6 17.5h2.2v2.2h-2.2zm-1.4 4.5h2.2v2.2h-2.2zm1.4 5.9h2.2v2.2h-2.2zm-0.8 1.7h2.2v2.2h-2.2zm1.2 -115.7h2.2v2.2h-2.2zm0.2 79.7h2.2v2.2h-2.2zm1.1 1.2h2.2v2.2h-2.2zm-0.6 9.8h2.2v2.2h-2.2zm-0.3 3h2.2v2.2h-2.2zm-0.4 1.9h2.2v2.2h-2.2zm1.7 10.8h2.2v2.2h-2.2zm-1.1 -0.1h2.2v2.2h-2.2zm1.7 2.2h2.2v2.2h-2.2zm1 -124.4h2.2v2.2h-2.2zm1.1 9.9h2.2v2.2h-2.2zm0.3 12.5h2.2v2.2h-2.2zm-0.9 0.9h2.2v2.2h-2.2zm-0.3 3.1h2.2v2.2h-2.2zm-1.2 57.6h2.2v2.2h-2.2zm0 6.6h2.2v2.2h-2.2zm1.5 17.8h2.2v2.2h-2.2zm-1.3 8.1h2.2v2.2h-2.2zm0.7 2.3h2.2v2.2h-2.2zm0.8 4.4h2.2v2.2h-2.2zm0.1 5.6h2.2v2.2h-2.2zm0.9 -119.2h2.2v2.2h-2.2zm0.6 2.7h2.2v2.2h-2.2zm0 5.4h2.2v2.2h-2.2zm0.4 6.6h2.2v2.2h-2.2zm-0.6 76.8h2.2v2.2h-2.2zm-0.5 9.1h2.2v2.2h-2.2zm1.7 -108.4h2.2v2.2h-2.2zm1.6 3.3h2.2v2.2h-2.2zm-1.3 6h2.2v2.2h-2.2zm-1 11.7h2.2v2.2h-2.2zm2 1.6h2.2v2.2h-2.2zm-0.7 53.9h2.2v2.2h-2.2zm0.3 18.2h2.2v2.2h-2.2zm0.2 5.7h2.2v2.2h-2.2zm-0.3 11.6h2.2v2.2h-2.2zm-0.8 4.4h2.2v2.2h-2.2zm-0.5 9h2.2v2.2h-2.2zm1.6 2.7h2.2v2.2h-2.2zm2.4 -117.9h2.2v2.2h-2.2zm-2.2 2.7h2.2v2.2h-2.2zm2.7 -16.1h2.2v2.2h-2.2zm0.8 1.8h2.2v2.2h-2.2zm-1.5 3.6h2.2v2.2h-2.2zm1.1 11.9h2.2v2.2h-2.2zm-0.6 2.2h2.2v2.2h-2.2zm1.4 9.7h2.2v2.2h-2.2zm0.6 2.1h2.2v2.2h-2.2zm-1.5 9.7h2.2v2.2h-2.2zm0.7 68.3h2.2v2.2h-2.2zm0.2 7.7h2.2v2.2h-2.2zm-0.2 2.1h2.2v2.2h-2.2zm-1.5 8.7h2.2v2.2h-2.2zm3.3 -122h2.2v2.2h-2.2zm0.3 42.2h2.2v2.2h-2.2zm0.4 49.6h2.2v2.2h-2.2zm-1.6 2.5h2.2v2.2h-2.2zm0.7 6.9h2.2v2.2h-2.2zm-1 1.3h2.2v2.2h-2.2zm1.8 22.2h2.2v2.2h-2.2zm-1.1 7.1h2.2v2.2h-2.2zm2.4 -127.9h2.2v2.2h-2.2zm1.4 4.2h2.2v2.2h-2.2zm-2.2 89.4h2.2v2.2h-2.2zm-0.4 7.5h2.2v2.2h-2.2zm0.9 23.6h2.2v2.2h-2.2zm3.7 -123.3h2.2v2.2h-2.2zm-0.3 80.8h2.2v2.2h-2.2zm-2.2 16.9h2.2v2.2h-2.2zm1.1 3.5h2.2v2.2h-2.2zm0.7 2.8h2.2v2.2h-2.2zm0.8 12.8h2.2v2.2h-2.2zm-2.1 3.5h2.2v2.2h-2.2zm0 3h2.2v2.2h-2.2zm2.5 -134.9h2.2v2.2h-2.2zm-0.3 7.5h2.2v2.2h-2.2zm-0.3 90.1h2.2v2.2h-2.2zm0 2.9h2.2v2.2h-2.2zm-0.4 8.9h2.2v2.2h-2.2zm4.5 -103.6h2.2v2.2h-2.2zm-2.3 4h2.2v2.2h-2.2zm2 7.6h2.2v2.2h-2.2zm-1.7 78.8h2.2v2.2h-2.2zm2.1 18.2h2.2v2.2h-2.2zm-2.1 22.1h2.2v2.2h-2.2zm3.1 -133.2h2.2v2.2h-2.2zm-1 4.4h2.2v2.2h-2.2zm1.2 3.2h2.2v2.2h-2.2zm0.4 3.8h2.2v2.2h-2.2zm-1.8 33h2.2v2.2h-2.2zm0.9 46.4h2.2v2.2h-2.2zm0.5 8.1h2.2v2.2h-2.2zm-2.1 8.2h2.2v2.2h-2.2zm0.3 1.5h2.2v2.2h-2.2zm0.4 15.7h2.2v2.2h-2.2zm1.6 -19.7h2.2v2.2h-2.2zm0.4 0.2h2.2v2.2h-2.2zm1 5.9h2.2v2.2h-2.2zm0 1.6h2.2v2.2h-2.2zm-0.9 2.6h2.2v2.2h-2.2zm0.6 4.7h2.2v2.2h-2.2zm-1.3 11.1h2.2v2.2h-2.2zm3.4 -39.8h2.2v2.2h-2.2zm0.3 4.6h2.2v2.2h-2.2zm0.9 0.6h2.2v2.2h-2.2zm0 16.5h2.2v2.2h-2.2zm-1.6 3.1h2.2v2.2h-2.2zm1.7 -115.3h2.2v2.2h-2.2zm-0.8 10.7h2.2v2.2h-2.2zm0.3 4.2h2.2v2.2h-2.2zm1.2 38.5h2.2v2.2h-2.2zm-0.2 48.3h2.2v2.2h-2.2zm0.4 8.2h2.2v2.2h-2.2zm-1 12.6h2.2v2.2h-2.2zm0.3 5.6h2.2v2.2h-2.2zm1.3 -127.7h2.2v2.2h-2.2zm2.3 -0.6h2.2v2.2h-2.2zm-2 98.3h2.2v2.2h-2.2zm1.5 10h2.2v2.2h-2.2zm0.5 18.1h2.2v2.2h-2.2zm2.2 -128.9h2.2v2.2h-2.2zm-0.8 3.8h2.2v2.2h-2.2zm-1.1 2.6h2.2v2.2h-2.2zm-1 2.1h2.2v2.2h-2.2zm1.6 116.8h2.2v2.2h-2.2zm1 9.7h2.2v2.2h-2.2zm-0.2 0.9h2.2v2.2h-2.2zm2.4 -122.7h2.2v2.2h-2.2zm-2.7 85.7h2.2v2.2h-2.2zm0.1 19.8h2.2v2.2h-2.2zm2.1 4.7h2.2v2.2h-2.2zm1.4 -117.1h2.2v2.2h-2.2zm-1 9.1h2.2v2.2h-2.2zm-0.5 101.6h2.2v2.2h-2.2zm0.4 14.2h2.2v2.2h-2.2zm-0.3 3.5h2.2v2.2h-2.2zm2 -136.1h2.2v2.2h-2.2zm1.3 4.1h2.2v2.2h-2.2zm0.8 10h2.2v2.2h-2.2zm-1.1 83.8h2.2v2.2h-2.2zm-1.2 8h2.2v2.2h-2.2zm2 19.4h2.2v2.2h-2.2zm-1 11.3h2.2v2.2h-2.2zm2.8 -133.6h2.2v2.2h-2.2zm0.4 13.7h2.2v2.2h-2.2zm0.1 3h2.2v2.2h-2.2zm-1.5 78.7h2.2v2.2h-2.2zm1.6 2.5h2.2v2.2h-2.2zm-0.7 7.9h2.2v2.2h-2.2zm0.2 17.5h2.2v2.2h-2.2zm0.5 3.8h2.2v2.2h-2.2zm-1.8 2.1h2.2v2.2h-2.2zm3.6 -128.8h2.2v2.2h-2.2zm-0.1 7.7h2.2v2.2h-2.2zm-1.3 6.3h2.2v2.2h-2.2zm1.2 78.5h2.2v2.2h-2.2zm0.6 24.3h2.2v2.2h-2.2zm-0.1 9.7h2.2v2.2h-2.2zm-1.4 7.3h2.2v2.2h-2.2zm2.6 -134.7h2.2v2.2h-2.2zm-1.2 87.4h2.2v2.2h-2.2zm1 9.1h2.2v2.2h-2.2zm-0.4 1.5h2.2v2.2h-2.2zm0.3 5.5h2.2v2.2h-2.2zm-1.3 19.3h2.2v2.2h-2.2zm2.2 8.8h2.2v2.2h-2.2zm1.4 -109.8h2.2v2.2h-2.2zm0.5 1.9h2.2v2.2h-2.2zm-1 6.9h2.2v2.2h-2.2zm1.6 69.1h2.2v2.2h-2.2zm-0.7 5.4h2.2v2.2h-2.2zm-0.8 0.6h2.2v2.2h-2.2zm-0.1 6.7h2.2v2.2h-2.2zm1.6 19.6h2.2v2.2h-2.2zm2 -119.2h2.2v2.2h-2.2zm0 4.3h2.2v2.2h-2.2zm-1.8 66.2h2.2v2.2h-2.2zm1.1 10.7h2.2v2.2h-2.2zm-0.9 29.2h2.2v2.2h-2.2zm0.4 0.7h2.2v2.2h-2.2zm3.2 -101.6h2.2v2.2h-2.2zm-2.7 53.9h2.2v2.2h-2.2zm1.7 1.4h2.2v2.2h-2.2zm0.6 3h2.2v2.2h-2.2zm-2.3 13.1h2.2v2.2h-2.2zm1.1 2.6h2.2v2.2h-2.2zm1 3.6h2.2v2.2h-2.2zm-2 3.9h2.2v2.2h-2.2zm1.5 4.1h2.2v2.2h-2.2zm-0.9 12.1h2.2v2.2h-2.2zm1.1 11.9h2.2v2.2h-2.2zm1.4 -128.3h2.2v2.2h-2.2zm-0.8 5.6h2.2v2.2h-2.2zm0 11.1h2.2v2.2h-2.2zm1.5 18.4h2.2v2.2h-2.2zm-1.1 50.3h2.2v2.2h-2.2zm0.2 20.5h2.2v2.2h-2.2zm0.4 8h2.2v2.2h-2.2zm0.1 11.7h2.2v2.2h-2.2zm2.9 -122.8h2.2v2.2h-2.2zm-1.3 77.4h2.2v2.2h-2.2zm-1.2 10.8h2.2v2.2h-2.2zm2.1 18.4h2.2v2.2h-2.2zm0 4.4h2.2v2.2h-2.2zm-0.5 14.7h2.2v2.2h-2.2zm0.6 0h2.2v2.2h-2.2zm0.7 -116.2h2.2v2.2h-2.2zm1.5 61.1h2.2v2.2h-2.2zm-0.9 5.1h2.2v2.2h-2.2zm-1.5 0.5h2.2v2.2h-2.2zm0.3 8.5h2.2v2.2h-2.2zm2.3 7h2.2v2.2h-2.2zm-0.2 7.8h2.2v2.2h-2.2zm-0.7 6.3h2.2v2.2h-2.2zm-0.5 5.6h2.2v2.2h-2.2zm0.4 15.6h2.2v2.2h-2.2zm2.8 -131.2h2.2v2.2h-2.2zm-2.4 69.3h2.2v2.2h-2.2zm2 41.1h2.2v2.2h-2.2zm-1.8 14.9h2.2v2.2h-2.2zm0 8h2.2v2.2h-2.2zm4.6 -53.4h2.2v2.2h-2.2zm-0.5 16.4h2.2v2.2h-2.2zm-1.3 2.7h2.2v2.2h-2.2zm0.4 17h2.2v2.2h-2.2zm0.7 0.1h2.2v2.2h-2.2zm-0.7 1.9h2.2v2.2h-2.2zm0.5 3.2h2.2v2.2h-2.2zm0.4 8.1h2.2v2.2h-2.2zm-0.9 -0.1h2.2v2.2h-2.2zm2.2 -129.5h2.2v2.2h-2.2zm-1.3 22h2.2v2.2h-2.2zm1.7 3.6h2.2v2.2h-2.2zm-1.7 10h2.2v2.2h-2.2zm1.1 18.1h2.2v2.2h-2.2zm-0.3 42.1h2.2v2.2h-2.2zm-1.1 2.9h2.2v2.2h-2.2zm2.6 17.4h2.2v2.2h-2.2zm-2.6 14.1h2.2v2.2h-2.2zm2.8 -120.7h2.2v2.2h-2.2zm-0.3 15h2.2v2.2h-2.2zm0.6 23.8h2.2v2.2h-2.2zm1.6 23.4h2.2v2.2h-2.2zm-1.6 27.8h2.2v2.2h-2.2zm-0.8 9.5h2.2v2.2h-2.2zm0.8 3.7h2.2v2.2h-2.2zm-0.4 9.4h2.2v2.2h-2.2zm1.4 12.2h2.2v2.2h-2.2zm1 -134.1h2.2v2.2h-2.2zm0.5 9.7h2.2v2.2h-2.2zm-1.5 8.9h2.2v2.2h-2.2zm1.7 11.4h2.2v2.2h-2.2zm-0.6 32.1h2.2v2.2h-2.2zm1.1 19.7h2.2v2.2h-2.2zm-1 2.2h2.2v2.2h-2.2zm0.4 7h2.2v2.2h-2.2zm-0.7 10.6h2.2v2.2h-2.2zm0.8 5.4h2.2v2.2h-2.2zm0.2 10.8h2.2v2.2h-2.2zm-1.5 1.8h2.2v2.2h-2.2zm0.9 10.7h2.2v2.2h-2.2zm0.8 -133.8h2.2v2.2h-2.2zm1.2 12.3h2.2v2.2h-2.2zm-1.1 23.5h2.2v2.2h-2.2zm1 39.6h2.2v2.2h-2.2zm0.4 2.2h2.2v2.2h-2.2zm-1.7 1.6h2.2v2.2h-2.2zm2 8h2.2v2.2h-2.2zm-0.1 2.7h2.2v2.2h-2.2zm-1.7 5.8h2.2v2.2h-2.2zm1.3 9.1h2.2v2.2h-2.2zm1.3 6.6h2.2v2.2h-2.2zm-0.1 3.9h2.2v2.2h-2.2zm-0.4 2.6h2.2v2.2h-2.2zm-1.5 1h2.2v2.2h-2.2zm0.5 7.1h2.2v2.2h-2.2zm-0.8 1.9h2.2v2.2h-2.2zm1 3.6h2.2v2.2h-2.2zm2.2 -131.1h2.2v2.2h-2.2zm0.2 50.5h2.2v2.2h-2.2zm0.4 5.8h2.2v2.2h-2.2zm-1.5 31.6h2.2v2.2h-2.2zm0.9 10.2h2.2v2.2h-2.2zm-0.2 6.1h2.2v2.2h-2.2zm0.1 21.1h2.2v2.2h-2.2zm-0.4 -1h2.2v2.2h-2.2zm-0.6 4.6h2.2v2.2h-2.2zm0.1 2.1h2.2v2.2h-2.2zm3.8 -123.7h2.2v2.2h-2.2zm0.3 11h2.2v2.2h-2.2zm-1.4 13.9h2.2v2.2h-2.2zm-0.8 5.6h2.2v2.2h-2.2zm0.7 3.5h2.2v2.2h-2.2zm0.7 27.9h2.2v2.2h-2.2zm0 8.4h2.2v2.2h-2.2zm0.5 5h2.2v2.2h-2.2zm-1 7.5h2.2v2.2h-2.2zm-0.3 15h2.2v2.2h-2.2zm1.2 3.4h2.2v2.2h-2.2zm-0.3 6.2h2.2v2.2h-2.2zm0.8 7.7h2.2v2.2h-2.2zm-2.9 5.7h2.2v2.2h-2.2zm4.2 -114.3h2.2v2.2h-2.2zm0.7 15h2.2v2.2h-2.2zm-1.4 7.2h2.2v2.2h-2.2zm0.7 4.8h2.2v2.2h-2.2zm-0.7 19.8h2.2v2.2h-2.2zm-0.5 7.5h2.2v2.2h-2.2zm0.6 14.8h2.2v2.2h-2.2zm0.3 18.8h2.2v2.2h-2.2zm-1.3 8.6h2.2v2.2h-2.2zm1.9 2.4h2.2v2.2h-2.2zm0.3 4.8h2.2v2.2h-2.2zm-2.4 11.7h2.2v2.2h-2.2zm1.4 3.4h2.2v2.2h-2.2zm-0.1 2.8h2.2v2.2h-2.2zm2.7 -120.2h2.2v2.2h-2.2zm-2 2.7h2.2v2.2h-2.2zm-0.3 4.9h2.2v2.2h-2.2zm1.7 17.9h2.2v2.2h-2.2zm-0.9 14.2h2.2v2.2h-2.2zm-0.5 2.7h2.2v2.2h-2.2zm-0.1 13.5h2.2v2.2h-2.2zm1.3 15.1h2.2v2.2h-2.2zm-1.6 2.2h2.2v2.2h-2.2zm1.6 0.8h2.2v2.2h-2.2zm0.2 5.3h2.2v2.2h-2.2zm-1.7 4.6h2.2v2.2h-2.2zm2.2 3.4h2.2v2.2h-2.2zm-0.8 3.9h2.2v2.2h-2.2zm-0.5 6.3h2.2v2.2h-2.2zm0.5 2.5h2.2v2.2h-2.2zm0.3 6.5h2.2v2.2h-2.2zm2.2 -118.6h2.2v2.2h-2.2zm0.7 3.9h2.2v2.2h-2.2zm-2.2 5.8h2.2v2.2h-2.2zm1.1 6.4h2.2v2.2h-2.2zm0.3 17.2h2.2v2.2h-2.2zm-1.2 3.5h2.2v2.2h-2.2zm0.3 5.1h2.2v2.2h-2.2zm0.2 30.9h2.2v2.2h-2.2zm-0.6 17.5h2.2v2.2h-2.2zm1.8 8.3h2.2v2.2h-2.2zm-0.4 3h2.2v2.2h-2.2zm0.9 7.9h2.2v2.2h-2.2zm-1.8 21.6h2.2v2.2h-2.2zm0.2 2.4h2.2v2.2h-2.2zm0.9 -101.4h2.2v2.2h-2.2zm0.7 1.6h2.2v2.2h-2.2zm1 4.4h2.2v2.2h-2.2zm-0.1 20.2h2.2v2.2h-2.2zm-0.5 11.2h2.2v2.2h-2.2zm-0.7 13.6h2.2v2.2h-2.2zm-0.3 5.9h2.2v2.2h-2.2zm1 4.1h2.2v2.2h-2.2zm-1.2 8.3h2.2v2.2h-2.2zm1.3 2.1h2.2v2.2h-2.2zm-0.6 24.4h2.2v2.2h-2.2zm3.6 -124.1h2.2v2.2h-2.2zm0 5.5h2.2v2.2h-2.2zm0.5 8.9h2.2v2.2h-2.2zm-0.3 15.3h2.2v2.2h-2.2zm-0.5 4.9h2.2v2.2h-2.2zm-0.7 3.4h2.2v2.2h-2.2zm-1.2 8.1h2.2v2.2h-2.2zm1.9 2h2.2v2.2h-2.2zm-0.9 14.6h2.2v2.2h-2.2zm-0.9 13.5h2.2v2.2h-2.2zm1.5 5.2h2.2v2.2h-2.2zm-0.5 19.6h2.2v2.2h-2.2zm1.4 1.3h2.2v2.2h-2.2zm-1.3 12h2.2v2.2h-2.2zm0.7 -122.2h2.2v2.2h-2.2zm0.6 5.3h2.2v2.2h-2.2zm2 9.3h2.2v2.2h-2.2zm-2 11.5h2.2v2.2h-2.2zm1.3 9.8h2.2v2.2h-2.2zm0.6 10.9h2.2v2.2h-2.2zm-2.4 11.4h2.2v2.2h-2.2zm-0.2 3.8h2.2v2.2h-2.2zm1.4 1.6h2.2v2.2h-2.2zm-0.6 7.3h2.2v2.2h-2.2zm1.6 16.9h2.2v2.2h-2.2zm-0.9 7.4h2.2v2.2h-2.2zm0 3.4h2.2v2.2h-2.2zm0.9 1h2.2v2.2h-2.2zm-2.1 10.2h2.2v2.2h-2.2zm1 13.9h2.2v2.2h-2.2zm-0.1 7.9h2.2v2.2h-2.2zm0.2 0.4h2.2v2.2h-2.2zm-1 6.2h2.2v2.2h-2.2zm3.2 -132.4h2.2v2.2h-2.2zm-1 4.5h2.2v2.2h-2.2zm-0.1 6.2h2.2v2.2h-2.2zm2 5.1h2.2v2.2h-2.2zm0.4 -0.3h2.2v2.2h-2.2zm-2.8 7.6h2.2v2.2h-2.2zm0.2 11.9h2.2v2.2h-2.2zm1.2 15h2.2v2.2h-2.2zm1 6h2.2v2.2h-2.2zm-0.8 5.7h2.2v2.2h-2.2zm-0.1 15.9h2.2v2.2h-2.2zm-1.5 2.8h2.2v2.2h-2.2zm2.1 5.5h2.2v2.2h-2.2zm0.1 8.2h2.2v2.2h-2.2zm-1.1 9.6h2.2v2.2h-2.2zm-0.3 8.1h2.2v2.2h-2.2zm0.9 -0.2h2.2v2.2h-2.2zm0.3 11.6h2.2v2.2h-2.2zm-1.7 5.2h2.2v2.2h-2.2zm-0.1 2.7h2.2v2.2h-2.2zm2.8 -125.3h2.2v2.2h-2.2zm0.1 6.7h2.2v2.2h-2.2zm0.8 1.5h2.2v2.2h-2.2zm-1.1 15.9h2.2v2.2h-2.2zm0.6 19.9h2.2v2.2h-2.2zm1 6.2h2.2v2.2h-2.2zm-0.5 16.1h2.2v2.2h-2.2zm-1 9.9h2.2v2.2h-2.2zm-0.7 16.1h2.2v2.2h-2.2zm1 14.2h2.2v2.2h-2.2zm-0.5 20h2.2v2.2h-2.2zm3.4 -112.7h2.2v2.2h-2.2zm0.1 2.5h2.2v2.2h-2.2zm-0.6 8.5h2.2v2.2h-2.2zm-1.2 2.4h2.2v2.2h-2.2zm1 16.8h2.2v2.2h-2.2zm1 6.4h2.2v2.2h-2.2zm-1.8 6.6h2.2v2.2h-2.2zm-0.6 4.8h2.2v2.2h-2.2zm1.7 7.9h2.2v2.2h-2.2zm-0.9 21.9h2.2v2.2h-2.2zm0 25.1h2.2v2.2h-2.2zm1.5 2.4h2.2v2.2h-2.2zm-0.6 1h2.2v2.2h-2.2zm2.6 -100.2h2.2v2.2h-2.2zm-0.8 2.8h2.2v2.2h-2.2zm-0.5 3.5h2.2v2.2h-2.2zm-1.1 10.4h2.2v2.2h-2.2zm0.6 4.7h2.2v2.2h-2.2zm2.2 27.1h2.2v2.2h-2.2zm-2.1 2.6h2.2v2.2h-2.2zm0.6 3.7h2.2v2.2h-2.2zm1.4 15.5h2.2v2.2h-2.2zm-0.8 9.6h2.2v2.2h-2.2zm0.3 23h2.2v2.2h-2.2zm2.4 -131.1h2.2v2.2h-2.2zm-1.8 8.2h2.2v2.2h-2.2zm0.5 10.8h2.2v2.2h-2.2zm1.5 2.8h2.2v2.2h-2.2zm-1.9 4.7h2.2v2.2h-2.2zm-0.7 5.7h2.2v2.2h-2.2zm1.5 4.3h2.2v2.2h-2.2zm0.2 10.1h2.2v2.2h-2.2zm-1.5 6.6h2.2v2.2h-2.2zm0.1 6h2.2v2.2h-2.2zm2.2 17.4h2.2v2.2h-2.2zm-2.7 14.8h2.2v2.2h-2.2zm1.4 2h2.2v2.2h-2.2zm-0.3 3.3h2.2v2.2h-2.2zm-0.3 12.9h2.2v2.2h-2.2zm0.9 0.4h2.2v2.2h-2.2zm0.9 8.6h2.2v2.2h-2.2zm-1.9 3.3h2.2v2.2h-2.2zm-0.8 3.7h2.2v2.2h-2.2zm3 -125.1h2.2v2.2h-2.2zm0.6 10.9h2.2v2.2h-2.2zm1.3 13.3h2.2v2.2h-2.2zm-0.9 1.2h2.2v2.2h-2.2zm-0.8 3h2.2v2.2h-2.2zm0.6 3.5h2.2v2.2h-2.2zm-1.2 6h2.2v2.2h-2.2zm0.5 20.7h2.2v2.2h-2.2zm-0.1 1.1h2.2v2.2h-2.2zm1 11.4h2.2v2.2h-2.2zm-0.8 1.1h2.2v2.2h-2.2zm0.7 7.3h2.2v2.2h-2.2zm0 35.4h2.2v2.2h-2.2zm-1 8.2h2.2v2.2h-2.2zm1.5 6.1h2.2v2.2h-2.2zm-0.9 5.2h2.2v2.2h-2.2zm1.9 -134.3h2.2v2.2h-2.2zm1.5 4h2.2v2.2h-2.2zm-1.2 3.4h2.2v2.2h-2.2zm-1.1 30.1h2.2v2.2h-2.2zm1.4 8.3h2.2v2.2h-2.2zm-0.7 7.9h2.2v2.2h-2.2zm-0.2 0.7h2.2v2.2h-2.2zm0.8 10.2h2.2v2.2h-2.2zm0.6 8.1h2.2v2.2h-2.2zm0 18.2h2.2v2.2h-2.2zm-0.8 3.5h2.2v2.2h-2.2zm-1.4 9.9h2.2v2.2h-2.2zm1.7 2.2h2.2v2.2h-2.2zm-1.6 9.2h2.2v2.2h-2.2zm2.3 0.9h2.2v2.2h-2.2zm-1.6 4.6h2.2v2.2h-2.2zm0.8 0.4h2.2v2.2h-2.2zm-1.4 6h2.2v2.2h-2.2zm2.9 -126.4h2.2v2.2h-2.2zm0.6 1.8h2.2v2.2h-2.2zm-1.2 8.4h2.2v2.2h-2.2zm1.7 10.5h2.2v2.2h-2.2zm-2 8.1h2.2v2.2h-2.2zm0.2 19.5h2.2v2.2h-2.2zm-0.2 11.5h2.2v2.2h-2.2zm1.4 3.2h2.2v2.2h-2.2zm-0.5 30h2.2v2.2h-2.2zm-0.3 13.5h2.2v2.2h-2.2zm0.3 5.4h2.2v2.2h-2.2zm-1.3 0.6h2.2v2.2h-2.2zm2.3 4.9h2.2v2.2h-2.2zm2.3 -112.5h2.2v2.2h-2.2zm-2 6.9h2.2v2.2h-2.2zm1.7 7.5h2.2v2.2h-2.2zm-2.1 1.1h2.2v2.2h-2.2zm-0.1 12.3h2.2v2.2h-2.2zm2.1 3.5h2.2v2.2h-2.2zm-2.1 1h2.2v2.2h-2.2zm0.6 5h2.2v2.2h-2.2zm-0.7 10.5h2.2v2.2h-2.2zm1.9 15.7h2.2v2.2h-2.2zm-0.6 16.7h2.2v2.2h-2.2zm-1.4 5.8h2.2v2.2h-2.2zm0.2 15h2.2v2.2h-2.2zm0.3 4.9h2.2v2.2h-2.2zm2 2.6h2.2v2.2h-2.2zm0.3 -108.1h2.2v2.2h-2.2zm0.3 3h2.2v2.2h-2.2zm0 11.5h2.2v2.2h-2.2zm1 11.6h2.2v2.2h-2.2zm0.1 9h2.2v2.2h-2.2zm-1.7 5.7h2.2v2.2h-2.2zm2.3 2.6h2.2v2.2h-2.2zm-1.3 18.6h2.2v2.2h-2.2zm-0.2 1.5h2.2v2.2h-2.2zm0.3 14.2h2.2v2.2h-2.2zm-1.5 10.1h2.2v2.2h-2.2zm1.1 3h2.2v2.2h-2.2zm1 3.8h2.2v2.2h-2.2zm-0.9 2.8h2.2v2.2h-2.2zm0.8 6h2.2v2.2h-2.2zm-1.8 3.2h2.2v2.2h-2.2zm0.3 13.2h2.2v2.2h-2.2zm-0.3 5.6h2.2v2.2h-2.2zm2.4 -127.7h2.2v2.2h-2.2zm0.3 12.1h2.2v2.2h-2.2zm1.3 27.7h2.2v2.2h-2.2zm0.5 19.5h2.2v2.2h-2.2zm0.2 22.7h2.2v2.2h-2.2zm-0.7 8h2.2v2.2h-2.2zm-0.7 3.2h2.2v2.2h-2.2zm-0.6 6.7h2.2v2.2h-2.2zm-0.1 1.7h2.2v2.2h-2.2zm1.7 5.5h2.2v2.2h-2.2zm0.3 12.5h2.2v2.2h-2.2zm1.1 -106.4h2.2v2.2h-2.2zm0.1 7h2.2v2.2h-2.2zm-0.6 1.4h2.2v2.2h-2.2zm-0.8 11.4h2.2v2.2h-2.2zm0.4 6.4h2.2v2.2h-2.2zm1.4 16.8h2.2v2.2h-2.2zm-1.2 13.8h2.2v2.2h-2.2zm0.8 5.1h2.2v2.2h-2.2zm-1.9 16.5h2.2v2.2h-2.2zm1.3 20.3h2.2v2.2h-2.2zm-0.9 17.8h2.2v2.2h-2.2zm2.2 -113.9h2.2v2.2h-2.2zm1.9 14.3h2.2v2.2h-2.2zm-1.3 0.9h2.2v2.2h-2.2zm1.4 1.8h2.2v2.2h-2.2zm-1.9 3.1h2.2v2.2h-2.2zm-0.5 9h2.2v2.2h-2.2zm1.8 33.1h2.2v2.2h-2.2zm-1.9 11.5h2.2v2.2h-2.2zm0.5 2.2h2.2v2.2h-2.2zm1 -0.4h2.2v2.2h-2.2zm-0.8 5.2h2.2v2.2h-2.2zm0.9 10.9h2.2v2.2h-2.2zm3 -101.2h2.2v2.2h-2.2zm-1.2 8h2.2v2.2h-2.2zm-1.3 -0.9h2.2v2.2h-2.2zm2.1 1.9h2.2v2.2h-2.2zm-1.2 12.3h2.2v2.2h-2.2zm1.2 11.9h2.2v2.2h-2.2zm-1.1 1h2.2v2.2h-2.2zm-0.5 8.6h2.2v2.2h-2.2zm1.4 2.4h2.2v2.2h-2.2zm0.5 5.3h2.2v2.2h-2.2zm-2 2.2h2.2v2.2h-2.2zm0.9 11.7h2.2v2.2h-2.2zm-1.7 10.7h2.2v2.2h-2.2zm5 -83.9h2.2v2.2h-2.2zm-2.7 14.5h2.2v2.2h-2.2zm0 9.5h2.2v2.2h-2.2zm0.5 11.9h2.2v2.2h-2.2zm1.3 18.3h2.2v2.2h-2.2zm-1.4 -0.1h2.2v2.2h-2.2zm1.7 7.5h2.2v2.2h-2.2zm0.5 3h2.2v2.2h-2.2zm0 23.2h2.2v2.2h-2.2zm-2.5 17h2.2v2.2h-2.2zm2.3 2.8h2.2v2.2h-2.2zm-2.3 16.5h2.2v2.2h-2.2zm4.2 -129.2h2.2v2.2h-2.2zm-0.3 5.5h2.2v2.2h-2.2zm-0.6 5.9h2.2v2.2h-2.2zm0.8 9.4h2.2v2.2h-2.2zm0.1 3.3h2.2v2.2h-2.2zm-2.5 1.8h2.2v2.2h-2.2zm1.3 7.3h2.2v2.2h-2.2zm-1.4 8.7h2.2v2.2h-2.2zm0.3 2.1h2.2v2.2h-2.2zm-0.2 9.6h2.2v2.2h-2.2zm0.1 7.6h2.2v2.2h-2.2zm2.8 22.2h2.2v2.2h-2.2zm-0.2 2.3h2.2v2.2h-2.2zm-1.5 5.9h2.2v2.2h-2.2zm0.3 6.8h2.2v2.2h-2.2zm0 2.5h2.2v2.2h-2.2zm1 32.6h2.2v2.2h-2.2zm0.1 -0.2h2.2v2.2h-2.2zm0.5 -130.1h2.2v2.2h-2.2zm-0.6 11.8h2.2v2.2h-2.2zm1.7 3.3h2.2v2.2h-2.2zm-1.8 4.3h2.2v2.2h-2.2zm-0.5 19.2h2.2v2.2h-2.2zm0.5 3.6h2.2v2.2h-2.2zm2.1 1.8h2.2v2.2h-2.2zm-0.7 15.4h2.2v2.2h-2.2zm-1.2 8.3h2.2v2.2h-2.2zm2.2 8h2.2v2.2h-2.2zm-1.5 9.6h2.2v2.2h-2.2zm0.2 3.3h2.2v2.2h-2.2zm0.2 3.6h2.2v2.2h-2.2zm-0.2 8.1h2.2v2.2h-2.2zm1.3 12.2h2.2v2.2h-2.2zm-2.9 2.1h2.2v2.2h-2.2zm2.4 8h2.2v2.2h-2.2zm-1.2 3.5h2.2v2.2h-2.2zm-1 3.1h2.2v2.2h-2.2z" fill="rgb(245, 146, 73)"/>
<path d="M0 0m333.6 238.8h2.2v2.2h-2.2zm2.4 1.1h2.2v2.2h-2.2zm-1.2 12.5h2.2v2.2h-2.2zm0.1 2h2.2v2.2h-2.2zm0.8 4h2.2v2.2h-2.2zm0.1 1.6h2.2v2.2h-2.2zm-2.2 3.5h2.2v2.2h-2.2zm2.5 16.8h2.2v2.2h-2.2zm-2.5 32.8h2.2v2.2h-2.2zm2.5 2.5h2.2v2.2h-2.2zm-1.8 8.7h2.2v2.2h-2.2zm-0.8 39.6h2.2v2.2h-2.2zm0.8 5.9h2.2v2.2h-2.2zm3.8 -129.5h2.2v2.2h-2.2zm-0.9 2h2.2v2.2h-2.2zm-1.5 3.2h2.2v2.2h-2.2zm2.4 4.9h2.2v2.2h-2.2zm0.3 9.4h2.2v2.2h-2.2zm-2.1 2.1h2.2v2.2h-2.2zm1.9 4.1h2.2v2.2h-2.2zm-2.5 3.6h2.2v2.2h-2.2zm1.5 6.7h2.2v2.2h-2.2zm-1.7 9.4h2.2v2.2h-2.2zm2.1 6.7h2.2v2.2h-2.2zm0.4 1.2h2.2v2.2h-2.2zm-2.3 0.3h2.2v2.2h-2.2zm0.5 6.5h2.2v2.2h-2.2zm-0.7 6.2h2.2v2.2h-2.2zm1.7 24.8h2.2v2.2h-2.2zm-0.2 3.7h2.2v2.2h-2.2zm0.8 8.3h2.2v2.2h-2.2zm-1.7 15.8h2.2v2.2h-2.2zm2.7 -120.9h2.2v2.2h-2.2zm-0.4 4h2.2v2.2h-2.2zm-0.1 0.7h2.2v2.2h-2.2zm1.4 13.4h2.2v2.2h-2.2zm-0.3 31.4h2.2v2.2h-2.2zm-1.2 14.6h2.2v2.2h-2.2zm0 3.2h2.2v2.2h-2.2zm0 6.6h2.2v2.2h-2.2zm0.6 5.3h2.2v2.2h-2.2zm-1.2 21.2h2.2v2.2h-2.2zm0.7 5h2.2v2.2h-2.2zm0.7 12.6h2.2v2.2h-2.2zm0.5 15.4h2.2v2.2h-2.2zm1.1 -134h2.2v2.2h-2.2zm1.3 5.8h2.2v2.2h-2.2zm0.5 24.9h2.2v2.2h-2.2zm-2.8 39h2.2v2.2h-2.2zm0.4 18.5h2.2v2.2h-2.2zm1.8 0.1h2.2v2.2h-2.2zm-1.3 5.6h2.2v2.2h-2.2zm1 4.6h2.2v2.2h-2.2zm-1.6 18h2.2v2.2h-2.2zm0.3 18h2.2v2.2h-2.2zm2.9 -137.5h2.2v2.2h-2.2zm-1.6 2.5h2.2v2.2h-2.2zm0.7 10.4h2.2v2.2h-2.2zm2 15.8h2.2v2.2h-2.2zm-2.6 12.2h2.2v2.2h-2.2zm0.1 1.7h2.2v2.2h-2.2zm1.7 30.4h2.2v2.2h-2.2zm0.2 4.2h2.2v2.2h-2.2zm-0.9 2.3h2.2v2.2h-2.2zm0.7 6.3h2.2v2.2h-2.2zm-1.4 9.5h2.2v2.2h-2.2zm1.7 8.8h2.2v2.2h-2.2zm-1.3 16.6h2.2v2.2h-2.2zm1.2 2h2.2v2.2h-2.2zm0.1 11.6h2.2v2.2h-2.2zm1 -131.5h2.2v2.2h-2.2zm1.1 10.4h2.2v2.2h-2.2zm-0.9 1.3h2.2v2.2h-2.2zm-0.3 6.9h2.2v2.2h-2.2zm-0.1 52.3h2.2v2.2h-2.2zm-0.9 3.3h2.2v2.2h-2.2zm1.3 40.6h2.2v2.2h-2.2zm0.8 3.7h2.2v2.2h-2.2zm1.5 -108.1h2.2v2.2h-2.2zm-0.3 2.2h2.2v2.2h-2.2zm0.9 23.9h2.2v2.2h-2.2zm-1.5 9.2h2.2v2.2h-2.2zm2.2 8.5h2.2v2.2h-2.2zm-2.8 30.5h2.2v2.2h-2.2zm0.4 0.7h2.2v2.2h-2.2zm2.2 2.9h2.2v2.2h-2.2zm-1.2 6.3h2.2v2.2h-2.2zm1 18.2h2.2v2.2h-2.2zm-1.8 17.7h2.2v2.2h-2.2zm2.7 -131h2.2v2.2h-2.2zm-1.1 2.3h2.2v2.2h-2.2zm0 1.9h2.2v2.2h-2.2zm2.5 13.1h2.2v2.2h-2.2zm-1.3 12h2.2v2.2h-2.2zm-1.4 26.4h2.2v2.2h-2.2zm2.7 14.5h2.2v2.2h-2.2zm-0.3 29.2h2.2v2.2h-2.2zm0.1 8.4h2.2v2.2h-2.2zm-1.2 1.3h2.2v2.2h-2.2zm-0.6 7.5h2.2v2.2h-2.2zm2.6 -109.3h2.2v2.2h-2.2zm0 3.6h2.2v2.2h-2.2zm0.9 14.1h2.2v2.2h-2.2zm-1.3 72.4h2.2v2.2h-2.2zm0.8 29.6h2.2v2.2h-2.2zm2.3 -122.5h2.2v2.2h-2.2zm-0.7 5.3h2.2v2.2h-2.2zm0.2 29h2.2v2.2h-2.2zm-1.3 38.3h2.2v2.2h-2.2zm1.3 14.6h2.2v2.2h-2.2zm-0.7 0.9h2.2v2.2h-2.2zm0.4 21h2.2v2.2h-2.2zm-0.5 5.4h2.2v2.2h-2.2zm3.7 -117.5h2.2v2.2h-2.2zm0 2.9h2.2v2.2h-2.2zm-2 1.1h2.2v2.2h-2.2zm1.2 16.7h2.2v2.2h-2.2zm-0.3 62.7h2.2v2.2h-2.2zm-0.9 8.5h2.2v2.2h-2.2zm1.8 19.8h2.2v2.2h-2.2zm2.3 -114.1h2.2v2.2h-2.2zm-1.6 1.9h2.2v2.2h-2.2zm1.9 5.6h2.2v2.2h-2.2zm-1.6 2.3h2.2v2.2h-2.2zm-0.3 2.6h2.2v2.2h-2.2zm0.6 1.2h2.2v2.2h-2.2zm0.5 2.6h2.2v2.2h-2.2zm0.1 16.3h2.2v2.2h-2.2zm2.3 -33.7h2.2v2.2h-2.2zm-2.2 2.1h2.2v2.2h-2.2zm0.2 4.9h2.2v2.2h-2.2zm-0.3 11.3h2.2v2.2h-2.2zm2.6 31.9h2.2v2.2h-2.2zm-1.4 47.5h2.2v2.2h-2.2zm1.2 7.3h2.2v2.2h-2.2zm-0.2 14h2.2v2.2h-2.2zm-2.1 1.1h2.2v2.2h-2.2zm0.6 7.8h2.2v2.2h-2.2zm0.2 3.6h2.2v2.2h-2.2zm1.1 2h2.2v2.2h-2.2zm0.8 -126.1h2.2v2.2h-2.2zm1.6 11.6h2.2v2.2h-2.2zm-1.6 60.1h2.2v2.2h-2.2zm-1 16.2h2.2v2.2h-2.2zm2.3 3.8h2.2v2.2h-2.2zm-2.2 4.5h2.2v2.2h-2.2zm4.2 -102.3h2.2v2.2h-2.2zm-0.7 1.8h2.2v2.2h-2.2zm0.2 1.3h2.2v2.2h-2.2zm-0.5 4.6h2.2v2.2h-2.2zm0 14.8h2.2v2.2h-2.2zm0.8 3.2h2.2v2.2h-2.2zm0.3 12.6h2.2v2.2h-2.2zm-2.5 41.6h2.2v2.2h-2.2zm0.5 3.4h2.2v2.2h-2.2zm0.3 9.1h2.2v2.2h-2.2zm-0.4 15.1h2.2v2.2h-2.2zm1.7 -106.9h2.2v2.2h-2.2zm1.6 3.5h2.2v2.2h-2.2zm1.3 5.1h2.2v2.2h-2.2zm-0.5 6.1h2.2v2.2h-2.2zm-0.8 4.1h2.2v2.2h-2.2zm-0.1 68.9h2.2v2.2h-2.2zm0.6 6h2.2v2.2h-2.2zm-1.6 3.8h2.2v2.2h-2.2zm1.5 0.4h2.2v2.2h-2.2zm-1.7 7.4h2.2v2.2h-2.2zm1.2 5.6h2.2v2.2h-2.2zm0.7 8.3h2.2v2.2h-2.2zm-2.1 3.3h2.2v2.2h-2.2zm2.7 -117.6h2.2v2.2h-2.2zm1 66.5h2.2v2.2h-2.2zm-1.3 6.4h2.2v2.2h-2.2zm1 7.4h2.2v2.2h-2.2zm0 9h2.2v2.2h-2.2zm1.4 2.2h2.2v2.2h-2.2zm-2.2 17.9h2.2v2.2h-2.2zm-0.4 9.8h2.2v2.2h-2.2zm3.3 -119.4h2.2v2.2h-2.2zm0.9 10.4h2.2v2.2h-2.2zm-2.1 1.9h2.2v2.2h-2.2zm1.9 1.8h2.2v2.2h-2.2zm-0.6 44.9h2.2v2.2h-2.2zm-0.1 25.7h2.2v2.2h-2.2zm-1.4 1.6h2.2v2.2h-2.2zm0 5.2h2.2v2.2h-2.2zm2 5.9h2.2v2.2h-2.2zm-0.9 21h2.2v2.2h-2.2zm1.7 -122.7h2.2v2.2h-2.2zm1.7 12.2h2.2v2.2h-2.2zm-2.6 4.1h2.2v2.2h-2.2zm1.2 76.4h2.2v2.2h-2.2zm-1.3 5.7h2.2v2.2h-2.2zm1.7 20.6h2.2v2.2h-2.2zm-0.2 4.1h2.2v2.2h-2.2zm-0.4 7.3h2.2v2.2h-2.2zm3.6 -113.5h2.2v2.2h-2.2zm-1.7 5.4h2.2v2.2h-2.2zm1.8 74.5h2.2v2.2h-2.2zm1.3 -97.4h2.2v2.2h-2.2zm-2.2 7.3h2.2v2.2h-2.2zm0.1 39.9h2.2v2.2h-2.2zm2.2 36.5h2.2v2.2h-2.2zm-0.6 8.4h2.2v2.2h-2.2zm-0.4 3.5h2.2v2.2h-2.2zm-0.6 5.5h2.2v2.2h-2.2zm0.4 21h2.2v2.2h-2.2zm-0.5 10.2h2.2v2.2h-2.2zm3.6 -129.4h2.2v2.2h-2.2zm0.3 4.7h2.2v2.2h-2.2zm-0.1 4.7h2.2v2.2h-2.2zm-1.9 3.1h2.2v2.2h-2.2zm0.2 6h2.2v2.2h-2.2zm1.9 77.7h2.2v2.2h-2.2zm-0.3 14.6h2.2v2.2h-2.2zm-0.2 19.3h2.2v2.2h-2.2zm2.5 -133.4h2.2v2.2h-2.2zm-1.6 7.9h2.2v2.2h-2.2zm-0.7 1.4h2.2v2.2h-2.2zm0 103h2.2v2.2h-2.2zm1 19.9h2.2v2.2h-2.2zm1.4 -127.3h2.2v2.2h-2.2zm0.9 6.9h2.2v2.2h-2.2zm1 1.9h2.2v2.2h-2.2zm-0.6 67.4h2.2v2.2h-2.2zm-1.9 8.4h2.2v2.2h-2.2zm2.7 2.7h2.2v2.2h-2.2zm-0.6 11.3h2.2v2.2h-2.2zm-1.2 27h2.2v2.2h-2.2zm1.6 -120.7h2.2v2.2h-2.2zm0.4 0.2h2.2v2.2h-2.2zm1.7 83.5h2.2v2.2h-2.2zm-1.8 4h2.2v2.2h-2.2zm2.1 24.3h2.2v2.2h-2.2zm-2.3 0.2h2.2v2.2h-2.2zm4.1 -105.9h2.2v2.2h-2.2zm-1.8 49.9h2.2v2.2h-2.2zm-0.9 22.2h2.2v2.2h-2.2zm2.2 2.3h2.2v2.2h-2.2zm-2 15h2.2v2.2h-2.2zm0.9 8.1h2.2v2.2h-2.2zm1 11.8h2.2v2.2h-2.2zm-0.5 2.1h2.2v2.2h-2.2zm-1.6 4h2.2v2.2h-2.2zm2.3 -123.9h2.2v2.2h-2.2zm2.5 81.3h2.2v2.2h-2.2zm-2.7 2.6h2.2v2.2h-2.2zm1.3 25.5h2.2v2.2h-2.2zm0.7 9h2.2v2.2h-2.2zm-0.7 2.2h2.2v2.2h-2.2zm1.3 5.8h2.2v2.2h-2.2zm2.1 -133.6h2.2v2.2h-2.2zm-0.3 86.5h2.2v2.2h-2.2zm-1 5.1h2.2v2.2h-2.2zm-1.1 4.8h2.2v2.2h-2.2zm2.4 1.3h2.2v2.2h-2.2zm-0.7 -98.3h2.2v2.2h-2.2zm2.2 16.3h2.2v2.2h-2.2zm-1.9 2.2h2.2v2.2h-2.2zm-0.1 61.6h2.2v2.2h-2.2zm1.3 21.5h2.2v2.2h-2.2zm0.4 10.4h2.2v2.2h-2.2zm-0.2 3.6h2.2v2.2h-2.2zm0.4 -116h2.2v2.2h-2.2zm1.3 4.5h2.2v2.2h-2.2zm-1 1.6h2.2v2.2h-2.2zm0.9 14.3h2.2v2.2h-2.2zm-0.1 14.1h2.2v2.2h-2.2zm1.1 48.1h2.2v2.2h-2.2zm0.4 5h2.2v2.2h-2.2zm-0.9 1.5h2.2v2.2h-2.2zm-1.3 19.7h2.2v2.2h-2.2zm1.4 4.1h2.2v2.2h-2.2zm-0.4 1.4h2.2v2.2h-2.2zm2.3 -105.9h2.2v2.2h-2.2zm-1 1.8h2.2v2.2h-2.2zm0.9 36.6h2.2v2.2h-2.2zm-0.2 84h2.2v2.2h-2.2zm-0.1 4.7h2.2v2.2h-2.2zm3.3 -106.8h2.2v2.2h-2.2zm-2.5 67.4h2.2v2.2h-2.2zm3.2 -91.9h2.2v2.2h-2.2zm-0.1 16.5h2.2v2.2h-2.2zm0.9 58.7h2.2v2.2h-2.2zm0.6 12.7h2.2v2.2h-2.2zm-1.5 5.2h2.2v2.2h-2.2zm0.4 3.5h2.2v2.2h-2.2zm-1.1 21.7h2.2v2.2h-2.2zm2.9 -120.1h2.2v2.2h-2.2zm-0.9 -0.4h2.2v2.2h-2.2zm1.2 6.4h2.2v2.2h-2.2zm-0.6 18.4h2.2v2.2h-2.2zm-0.2 8.5h2.2v2.2h-2.2zm-1 6.7h2.2v2.2h-2.2zm0.6 48h2.2v2.2h-2.2zm1.7 38.1h2.2v2.2h-2.2zm0.1 -119.4h2.2v2.2h-2.2zm-0.2 19.2h2.2v2.2h-2.2zm0.3 50h2.2v2.2h-2.2zm1.6 4.8h2.2v2.2h-2.2zm-1.1 8.9h2.2v2.2h-2.2zm1.4 8.1h2.2v2.2h-2.2zm-0.4 10.3h2.2v2.2h-2.2zm1.3 -86h2.2v2.2h-2.2zm-0.7 67.1h2.2v2.2h-2.2zm0.4 7h2.2v2.2h-2.2zm1.1 2.7h2.2v2.2h-2.2zm-1.4 6.4h2.2v2.2h-2.2zm0.7 10.1h2.2v2.2h-2.2zm0.6 9.6h2.2v2.2h-2.2zm0.3 -126.8h2.2v2.2h-2.2zm1.6 32.5h2.2v2.2h-2.2zm-1.7 29h2.2v2.2h-2.2zm1.4 5h2.2v2.2h-2.2zm-1.7 19.5h2.2v2.2h-2.2zm0.6 21.1h2.2v2.2h-2.2zm1.6 9.5h2.2v2.2h-2.2zm1.7 -100.8h2.2v2.2h-2.2zm-0.9 5.2h2.2v2.2h-2.2zm0.1 8.5h2.2v2.2h-2.2zm0.8 2.7h2.2v2.2h-2.2zm-1.6 65.5h2.2v2.2h-2.2zm0.6 17.2h2.2v2.2h-2.2zm1.5 7.3h2.2v2.2h-2.2zm-1.1 11.9h2.2v2.2h-2.2zm1.9 -119.1h2.2v2.2h-2.2zm-0.7 11.5h2.2v2.2h-2.2zm0.6 6.7h2.2v2.2h-2.2zm0.9 22.2h2.2v2.2h-2.2zm-1.8 17h2.2v2.2h-2.2zm1.8 13h2.2v2.2h-2.2zm-2.1 4.8h2.2v2.2h-2.2zm0.1 14.2h2.2v2.2h-2.2zm0.1 0.3h2.2v2.2h-2.2zm0.4 6.8h2.2v2.2h-2.2zm-0.6 10.6h2.2v2.2h-2.2zm0.3 13.4h2.2v2.2h-2.2zm2.4 -130.9h2.2v2.2h-2.2zm-0.3 27.9h2.2v2.2h-2.2zm1 7.7h2.2v2.2h-2.2zm-0.2 2.3h2.2v2.2h-2.2zm0.8 23.7h2.2v2.2h-2.2zm0.3 9.5h2.2v2.2h-2.2zm-0.2 3.8h2.2v2.2h-2.2zm-0.1 6.2h2.2v2.2h-2.2zm0.1 2.8h2.2v2.2h-2.2zm-0.2 2h2.2v2.2h-2.2zm1.1 13.9h2.2v2.2h-2.2zm-1.3 10.3h2.2v2.2h-2.2zm0.8 7.6h2.2v2.2h-2.2zm-1.9 2.5h2.2v2.2h-2.2zm0.2 3.3h2.2v2.2h-2.2zm3.6 -112h2.2v2.2h-2.2zm-2.2 7.4h2.2v2.2h-2.2zm2.1 12.3h2.2v2.2h-2.2zm-0.2 4.7h2.2v2.2h-2.2zm0.2 7.8h2.2v2.2h-2.2zm-0.7 18.3h2.2v2.2h-2.2zm-1.1 31.4h2.2v2.2h-2.2zm2.1 6.6h2.2v2.2h-2.2zm-0.4 13.1h2.2v2.2h-2.2zm0.7 5.3h2.2v2.2h-2.2zm1.6 -122.5h2.2v2.2h-2.2zm-1.6 2.6h2.2v2.2h-2.2zm1.8 12.9h2.2v2.2h-2.2zm-0.9 28.7h2.2v2.2h-2.2zm0.4 9.4h2.2v2.2h-2.2zm0.3 4.4h2.2v2.2h-2.2zm-1.2 23.4h2.2v2.2h-2.2zm1 8.9h2.2v2.2h-2.2zm-1.6 5.4h2.2v2.2h-2.2zm1.4 1.2h2.2v2.2h-2.2zm-1.3 2.7h2.2v2.2h-2.2zm0.5 15.7h2.2v2.2h-2.2zm1.3 15.3h2.2v2.2h-2.2zm0.3 5.6h2.2v2.2h-2.2zm-0.4 -132.7h2.2v2.2h-2.2zm1.9 2h2.2v2.2h-2.2zm0.2 14.3h2.2v2.2h-2.2zm-1.1 47.5h2.2v2.2h-2.2zm1.4 2.7h2.2v2.2h-2.2zm-2.6 21.5h2.2v2.2h-2.2zm0.7 5.9h2.2v2.2h-2.2zm-0.3 8.9h2.2v2.2h-2.2zm0.2 4.4h2.2v2.2h-2.2zm1.7 10.3h2.2v2.2h-2.2zm-1.2 12.1h2.2v2.2h-2.2zm0.8 2.1h2.2v2.2h-2.2zm2.7 -113.2h2.2v2.2h-2.2zm-1.6 9.8h2.2v2.2h-2.2zm1.6 3.1h2.2v2.2h-2.2zm-0.5 3.6h2.2v2.2h-2.2zm-0.1 2.3h2.2v2.2h-2.2zm-0.7 2.7h2.2v2.2h-2.2zm1.2 15.8h2.2v2.2h-2.2zm-2.7 21h2.2v2.2h-2.2zm0.2 1.8h2.2v2.2h-2.2zm1.6 10.8h2.2v2.2h-2.2zm-1 8.3h2.2v2.2h-2.2zm0 15.2h2.2v2.2h-2.2zm-0.6 5.8h2.2v2.2h-2.2zm0.6 10.1h2.2v2.2h-2.2zm0.6 1.5h2.2v2.2h-2.2zm3.4 -125.3h2.2v2.2h-2.2zm-0.5 3.1h2.2v2.2h-2.2zm0.1 10.6h2.2v2.2h-2.2zm-1 34.6h2.2v2.2h-2.2zm-1.1 12.7h2.2v2.2h-2.2zm2.2 11.2h2.2v2.2h-2.2zm0.2 5h2.2v2.2h-2.2zm-0.3 13.7h2.2v2.2h-2.2zm-1.8 2.2h2.2v2.2h-2.2zm1.8 10.1h2.2v2.2h-2.2zm0.3 2.9h2.2v2.2h-2.2zm-0.9 7.3h2.2v2.2h-2.2zm-1 3.4h2.2v2.2h-2.2zm3.1 -114.4h2.2v2.2h-2.2zm0 4.3h2.2v2.2h-2.2zm-0.4 8.2h2.2v2.2h-2.2zm0.8 2.2h2.2v2.2h-2.2zm-2.2 12.3h2.2v2.2h-2.2zm0.4 0.7h2.2v2.2h-2.2zm2.1 10.7h2.2v2.2h-2.2zm-2.6 3.2h2.2v2.2h-2.2zm0.1 17.8h2.2v2.2h-2.2zm1.5 3.8h2.2v2.2h-2.2zm0.5 11.4h2.2v2.2h-2.2zm-2 2.4h2.2v2.2h-2.2zm0 4.5h2.2v2.2h-2.2zm2.3 4.2h2.2v2.2h-2.2zm0.2 18.2h2.2v2.2h-2.2zm-0.3 4.1h2.2v2.2h-2.2zm1.2 -111.8h2.2v2.2h-2.2zm-0.9 16.9h2.2v2.2h-2.2zm-0.1 4.1h2.2v2.2h-2.2zm2.2 3.5h2.2v2.2h-2.2zm-1.5 4.7h2.2v2.2h-2.2zm0.4 9.3h2.2v2.2h-2.2zm-0.7 4.5h2.2v2.2h-2.2zm0.6 8.4h2.2v2.2h-2.2zm0.2 5.8h2.2v2.2h-2.2zm-0.3 3.4h2.2v2.2h-2.2zm-0.1 5.8h2.2v2.2h-2.2zm-0.5 6.4h2.2v2.2h-2.2zm-0.8 4.1h2.2v2.2h-2.2zm0.4 19.6h2.2v2.2h-2.2zm0.7 13.3h2.2v2.2h-2.2zm-0.1 1.6h2.2v2.2h-2.2zm-0.4 9.4h2.2v2.2h-2.2zm0.3 1.4h2.2v2.2h-2.2zm0 4.3h2.2v2.2h-2.2zm2.2 -133.4h2.2v2.2h-2.2zm-0.1 8.5h2.2v2.2h-2.2zm1.6 37.2h2.2v2.2h-2.2zm-2.1 31.2h2.2v2.2h-2.2zm2.2 2.9h2.2v2.2h-2.2zm-2.7 4.2h2.2v2.2h-2.2zm0.9 1.9h2.2v2.2h-2.2zm-0.1 0.2h2.2v2.2h-2.2zm0.4 3.2h2.2v2.2h-2.2zm0.7 17.1h2.2v2.2h-2.2zm-1.9 12.9h2.2v2.2h-2.2zm0.8 1h2.2v2.2h-2.2zm3.3 -116.8h2.2v2.2h-2.2zm-1.4 14.4h2.2v2.2h-2.2zm0 1.4h2.2v2.2h-2.2zm0.9 22.4h2.2v2.2h-2.2zm1.1 7h2.2v2.2h-2.2zm-2.3 1.5h2.2v2.2h-2.2zm-0.4 1.6h2.2v2.2h-2.2zm0.3 6.1h2.2v2.2h-2.2zm-0.4 10.1h2.2v2.2h-2.2zm1.6 6.8h2.2v2.2h-2.2zm1.2 7.5h2.2v2.2h-2.2zm-1.4 10.7h2.2v2.2h-2.2zm1 14.1h2.2v2.2h-2.2zm-2.3 4.3h2.2v2.2h-2.2zm2.8 0.5h2.2v2.2h-2.2zm-1.1 7.3h2.2v2.2h-2.2zm0.5 6.5h2.2v2.2h-2.2zm0.5 0.1h2.2v2.2h-2.2zm1.5 -124.8h2.2v2.2h-2.2zm-0.6 4.7h2.2v2.2h-2.2zm-0.1 6.6h2.2v2.2h-2.2zm-0.1 37.5h2.2v2.2h-2.2zm-0.3 5.6h2.2v2.2h-2.2zm0.1 -0.1h2.2v2.2h-2.2zm-1.1 4.4h2.2v2.2h-2.2zm1.4 2.8h2.2v2.2h-2.2zm0.8 12.2h2.2v2.2h-2.2zm-1 2h2.2v2.2h-2.2zm-0.2 27.5h2.2v2.2h-2.2zm1.3 5.1h2.2v2.2h-2.2zm-1 6.7h2.2v2.2h-2.2zm-0.9 6.9h2.2v2.2h-2.2zm2.3 7.2h2.2v2.2h-2.2zm-0.9 1.7h2.2v2.2h-2.2zm1.3 -130.9h2.2v2.2h-2.2zm1.3 5.4h2.2v2.2h-2.2zm-0.2 23h2.2v2.2h-2.2zm-0.3 29.9h2.2v2.2h-2.2zm-1.1 4.2h2.2v2.2h-2.2zm-1 11.5h2.2v2.2h-2.2zm0.6 4.8h2.2v2.2h-2.2zm1.7 4.2h2.2v2.2h-2.2zm-1.1 7.2h2.2v2.2h-2.2zm-0.6 3.4h2.2v2.2h-2.2zm1.3 13.7h2.2v2.2h-2.2zm-1.3 6.7h2.2v2.2h-2.2zm2.4 1.4h2.2v2.2h-2.2zm-0.7 8.1h2.2v2.2h-2.2zm-1.5 8.8h2.2v2.2h-2.2zm2.8 -133.7h2.2v2.2h-2.2zm-0.6 11.4h2.2v2.2h-2.2zm1.8 22.5h2.2v2.2h-2.2zm-0.2 2h2.2v2.2h-2.2zm-1 6.4h2.2v2.2h-2.2zm-0.3 2.1h2.2v2.2h-2.2zm0.1 19.7h2.2v2.2h-2.2zm0.9 24h2.2v2.2h-2.2zm-1.5 12.1h2.2v2.2h-2.2zm-0.1 22.9h2.2v2.2h-2.2zm-0.6 2.1h2.2v2.2h-2.2zm3.6 -122.6h2.2v2.2h-2.2zm0.1 4.2h2.2v2.2h-2.2zm-1.7 14.1h2.2v2.2h-2.2zm2.7 4.9h2.2v2.2h-2.2zm-2.1 9.6h2.2v2.2h-2.2zm-0.7 7.5h2.2v2.2h-2.2zm2.7 2.5h2.2v2.2h-2.2zm-1.6 5.5h2.2v2.2h-2.2zm0.9 5.1h2.2v2.2h-2.2zm-1.4 12.5h2.2v2.2h-2.2zm1.9 1.5h2.2v2.2h-2.2zm-1.3 0h2.2v2.2h-2.2zm0.9 19.4h2.2v2.2h-2.2zm0.4 22.7h2.2v2.2h-2.2zm-1.5 13h2.2v2.2h-2.2zm-0.1 4.3h2.2v2.2h-2.2zm0.5 1.6h2.2v2.2h-2.2zm3.3 -108.8h2.2v2.2h-2.2zm-1.5 6.3h2.2v2.2h-2.2zm-0.4 15.4h2.2v2.2h-2.2zm1.3 4.5h2.2v2.2h-2.2zm-0.4 9.1h2.2v2.2h-2.2zm-1.3 4.6h2.2v2.2h-2.2zm1.4 15.6h2.2v2.2h-2.2zm0.2 6.2h2.2v2.2h-2.2zm-1.5 0.5h2.2v2.2h-2.2zm1.9 5.9h2.2v2.2h-2.2zm-1.7 6.1h2.2v2.2h-2.2zm2.2 -0.3h2.2v2.2h-2.2zm-0.2 2.3h2.2v2.2h-2.2zm-0.6 27.2h2.2v2.2h-2.2zm1.4 -122.6h2.2v2.2h-2.2zm-0.2 25.2h2.2v2.2h-2.2zm-0.8 7.3h2.2v2.2h-2.2zm2 12.4h2.2v2.2h-2.2zm-1.7 6.5h2.2v2.2h-2.2zm1.3 12.6h2.2v2.2h-2.2zm0.6 24.4h2.2v2.2h-2.2zm0 4.1h2.2v2.2h-2.2zm-1.1 8h2.2v2.2h-2.2zm1 4.8h2.2v2.2h-2.2zm-2.2 5.3h2.2v2.2h-2.2zm2 1h2.2v2.2h-2.2zm-0.9 2.5h2.2v2.2h-2.2zm-1.4 1h2.2v2.2h-2.2zm2.5 7.7h2.2v2.2h-2.2zm-1.3 4.6h2.2v2.2h-2.2zm1.6 3.7h2.2v2.2h-2.2zm0.5 -120h2.2v2.2h-2.2zm1.1 0.8h2.2v2.2h-2.2zm-2.4 25.2h2.2v2.2h-2.2zm1 6.3h2.2v2.2h-2.2zm1.3 1.6h2.2v2.2h-2.2zm-0.1 24.3h2.2v2.2h-2.2zm0.6 7.9h2.2v2.2h-2.2zm-1.6 5.2h2.2v2.2h-2.2zm-0.5 4.4h2.2v2.2h-2.2zm1.7 20h2.2v2.2h-2.2zm-2.2 16.3h2.2v2.2h-2.2zm0.8 10.3h2.2v2.2h-2.2zm1.2 -134h2.2v2.2h-2.2zm0 19.5h2.2v2.2h-2.2zm2.1 14h2.2v2.2h-2.2zm-1.5 4.2h2.2v2.2h-2.2zm1.6 9.2h2.2v2.2h-2.2zm-2.3 9.6h2.2v2.2h-2.2zm0 13.5h2.2v2.2h-2.2zm0.5 3.3h2.2v2.2h-2.2zm0.4 9.2h2.2v2.2h-2.2zm0.7 18.8h2.2v2.2h-2.2zm-1.3 6.3h2.2v2.2h-2.2zm1.6 9.3h2.2v2.2h-2.2zm-2.1 3.7h2.2v2.2h-2.2zm2.5 -109h2.2v2.2h-2.2zm-0.2 17h2.2v2.2h-2.2zm1.5 2.2h2.2v2.2h-2.2zm-1.3 3.3h2.2v2.2h-2.2zm0.6 12.3h2.2v2.2h-2.2zm0.7 3.8h2.2v2.2h-2.2zm0.1 5.6h2.2v2.2h-2.2zm-0.3 2.4h2.2v2.2h-2.2zm0 25.8h2.2v2.2h-2.2zm-0.5 44.7h2.2v2.2h-2.2zm1.1 -96.1h2.2v2.2h-2.2zm2.7 3.8h2.2v2.2h-2.2zm-1.4 10h2.2v2.2h-2.2zm-0.6 13.6h2.2v2.2h-2.2zm0.6 3.4h2.2v2.2h-2.2zm-1.5 4.9h2.2v2.2h-2.2zm1.6 5.4h2.2v2.2h-2.2zm0.2 0.6h2.2v2.2h-2.2zm-1 5.6h2.2v2.2h-2.2zm0 16.1h2.2v2.2h-2.2zm-0.7 5.2h2.2v2.2h-2.2zm2.4 4.8h2.2v2.2h-2.2zm-0.8 1.5h2.2v2.2h-2.2zm0.9 4.4h2.2v2.2h-2.2zm0.5 -106.6h2.2v2.2h-2.2zm1.6 2.5h2.2v2.2h-2.2zm-1.4 8.1h2.2v2.2h-2.2zm-0.6 12.1h2.2v2.2h-2.2zm2 19.7h2.2v2.2h-2.2zm-0.4 2.4h2.2v2.2h-2.2zm-0.2 10.8h2.2v2.2h-2.2zm0.5 3h2.2v2.2h-2.2zm-1.8 3.3h2.2v2.2h-2.2zm1.4 10.1h2.2v2.2h-2.2zm-0.3 4.3h2.2v2.2h-2.2zm0 2.8h2.2v2.2h-2.2zm0.9 7.2h2.2v2.2h-2.2zm-0.8 4.5h2.2v2.2h-2.2zm0.4 6.6h2.2v2.2h-2.2zm-2.4 6.6h2.2v2.2h-2.2zm3.9 -106.7h2.2v2.2h-2.2zm-0.4 2.2h2.2v2.2h-2.2zm-1.2 17.1h2.2v2.2h-2.2zm2 6.4h2.2v2.2h-2.2zm-0.9 3.7h2.2v2.2h-2.2zm0.2 9.1h2.2v2.2h-2.2zm-1 4.7h2.2v2.2h-2.2zm2.3 10.7h2.2v2.2h-2.2zm-1.1 8.7h2.2v2.2h-2.2zm-0.2 0.1h2.2v2.2h-2.2zm1.2 8.8h2.2v2.2h-2.2zm-0.1 0.1h2.2v2.2h-2.2zm-0.6 13.8h2.2v2.2h-2.2zm0.2 10.8h2.2v2.2h-2.2zm0 6.9h2.2v2.2h-2.2zm-1.3 26.2h2.2v2.2h-2.2zm3.3 -135.2h2.2v2.2h-2.2zm-0.8 2.5h2.2v2.2h-2.2zm-0.6 11h2.2v2.2h-2.2zm0.1 6.4h2.2v2.2h-2.2zm-0.9 7h2.2v2.2h-2.2zm2.4 9.5h2.2v2.2h-2.2zm-1.5 40.5h2.2v2.2h-2.2zm-0.4 5.2h2.2v2.2h-2.2zm1.4 9.2h2.2v2.2h-2.2zm0.8 11h2.2v2.2h-2.2zm-0.3 3.2h2.2v2.2h-2.2zm-0.3 4.2h2.2v2.2h-2.2zm-0.6 5.4h2.2v2.2h-2.2zm2.5 -89.6h2.2v2.2h-2.2zm-1.1 25.9h2.2v2.2h-2.2zm-0.6 2.6h2.2v2.2h-2.2zm2.3 8.6h2.2v2.2h-2.2zm-2.6 10.2h2.2v2.2h-2.2zm0.2 11.4h2.2v2.2h-2.2zm1.4 6.6h2.2v2.2h-2.2zm-1.3 12.1h2.2v2.2h-2.2zm0 14.8h2.2v2.2h-2.2zm-0.3 14.9h2.2v2.2h-2.2zm2 -105.2h2.2v2.2h-2.2zm1.6 15.6h2.2v2.2h-2.2zm-0.2 3.5h2.2v2.2h-2.2zm-0.6 41.2h2.2v2.2h-2.2zm0.2 18.2h2.2v2.2h-2.2zm-0.9 22.3h2.2v2.2h-2.2zm0 7.2h2.2v2.2h-2.2zm4 -128.1h2.2v2.2h-2.2zm-0.5 1h2.2v2.2h-2.2zm1.3 16.4h2.2v2.2h-2.2zm-0.2 14.3h2.2v2.2h-2.2zm-0.7 6.3h2.2v2.2h-2.2zm0.9 8.1h2.2v2.2h-2.2zm-1 20.8h2.2v2.2h-2.2zm-1.7 1h2.2v2.2h-2.2zm0 6.7h2.2v2.2h-2.2zm2 9.6h2.2v2.2h-2.2zm-1.9 5.1h2.2v2.2h-2.2zm1.5 9.5h2.2v2.2h-2.2zm0.7 6.4h2.2v2.2h-2.2zm-0.1 7.1h2.2v2.2h-2.2zm-0.9 13.4h2.2v2.2h-2.2zm1.1 -119.8h2.2v2.2h-2.2zm1.8 23.1h2.2v2.2h-2.2zm-2 12.1h2.2v2.2h-2.2zm1 2.9h2.2v2.2h-2.2zm-0.9 18.1h2.2v2.2h-2.2zm0.2 8.7h2.2v2.2h-2.2zm-0.5 9.7h2.2v2.2h-2.2zm0.1 13.3h2.2v2.2h-2.2zm0.5 23.5h2.2v2.2h-2.2zm0.5 1.1h2.2v2.2h-2.2zm0.7 -121.2h2.2v2.2h-2.2zm1.6 6.1h2.2v2.2h-2.2zm0.6 6.3h2.2v2.2h-2.2zm-2.2 20.4h2.2v2.2h-2.2zm2.8 3.3h2.2v2.2h-2.2zm-0.6 4.8h2.2v2.2h-2.2zm-0.9 3.5h2.2v2.2h-2.2zm0.8 6h2.2v2.2h-2.2zm0 3.2h2.2v2.2h-2.2zm-1.9 3.8h2.2v2.2h-2.2zm1.3 1.8h2.2v2.2h-2.2zm-1.1 4.9h2.2v2.2h-2.2zm0.9 12.2h2.2v2.2h-2.2zm1.2 7.3h2.2v2.2h-2.2zm-1.4 7.8h2.2v2.2h-2.2zm1.1 12.6h2.2v2.2h-2.2zm-0.5 1.1h2.2v2.2h-2.2zm-0.8 6.7h2.2v2.2h-2.2zm-0.7 1.2h2.2v2.2h-2.2zm0.2 11.3h2.2v2.2h-2.2zm2.1 -104.3h2.2v2.2h-2.2zm0.7 9h2.2v2.2h-2.2zm0.1 2h2.2v2.2h-2.2zm0.3 22.9h2.2v2.2h-2.2zm-1.5 1.9h2.2v2.2h-2.2zm2.6 7.8h2.2v2.2h-2.2zm-2.7 11.7h2.2v2.2h-2.2zm1.7 5.5h2.2v2.2h-2.2zm0.6 27.5h2.2v2.2h-2.2zm-1.1 9.7h2.2v2.2h-2.2zm-0.3 3.4h2.2v2.2h-2.2zm1.2 1.9h2.2v2.2h-2.2z" fill="rgb(238, 114, 64)"/>
<path d="M0 0m335.1 249.7h2.2v2.2h-2.2zm0.3 22.8h2.2v2.2h-2.2zm-1.2 11.7h2.2v2.2h-2.2zm1 6.2h2.2v2.2h-2.2zm-0.2 1h2.2v2.2h-2.2zm0.8 2.7h2.2v2.2h-2.2zm-1.2 5.5h2.2v2.2h-2.2zm0.7 2.3h2.2v2.2h-2.2zm-0.4 5.1h2.2v2.2h-2.2zm-0.6 3h2.2v2.2h-2.2zm0.2 29.9h2.2v2.2h-2.2zm0.7 24.6h2.2v2.2h-2.2zm0 3.4h2.2v2.2h-2.2zm0 3.9h2.2v2.2h-2.2zm2 -104.2h2.2v2.2h-2.2zm0.2 4.3h2.2v2.2h-2.2zm-1.5 5.2h2.2v2.2h-2.2zm0.5 4.7h2.2v2.2h-2.2zm1.9 4h2.2v2.2h-2.2zm-2 18.6h2.2v2.2h-2.2zm0.7 3.7h2.2v2.2h-2.2zm-1.2 2.6h2.2v2.2h-2.2zm-0.2 1.7h2.2v2.2h-2.2zm2.4 13.5h2.2v2.2h-2.2zm-2.1 28.3h2.2v2.2h-2.2zm1.2 8.2h2.2v2.2h-2.2zm3.4 -125.1h2.2v2.2h-2.2zm-0.3 8.6h2.2v2.2h-2.2zm-1.3 6.6h2.2v2.2h-2.2zm-0.9 5.6h2.2v2.2h-2.2zm-0.1 4h2.2v2.2h-2.2zm0.3 2.2h2.2v2.2h-2.2zm0.4 4.2h2.2v2.2h-2.2zm0.5 26.7h2.2v2.2h-2.2zm-0.8 10.3h2.2v2.2h-2.2zm-0.4 13.2h2.2v2.2h-2.2zm2.1 -78.5h2.2v2.2h-2.2zm-0.2 4.7h2.2v2.2h-2.2zm2 9.4h2.2v2.2h-2.2zm-1.6 0.3h2.2v2.2h-2.2zm-0.1 5.8h2.2v2.2h-2.2zm1.1 5h2.2v2.2h-2.2zm-0.5 0.9h2.2v2.2h-2.2zm1.4 6.2h2.2v2.2h-2.2zm-2 1.2h2.2v2.2h-2.2zm0.7 2.3h2.2v2.2h-2.2zm0.6 4.6h2.2v2.2h-2.2zm-0.2 24.2h2.2v2.2h-2.2zm-1 5h2.2v2.2h-2.2zm2.2 8.1h2.2v2.2h-2.2zm0.1 3.8h2.2v2.2h-2.2zm-2.2 8.2h2.2v2.2h-2.2zm-0.2 0.4h2.2v2.2h-2.2zm3.6 -78.7h2.2v2.2h-2.2zm0.4 15.2h2.2v2.2h-2.2zm-1.6 5.1h2.2v2.2h-2.2zm-0.2 19.7h2.2v2.2h-2.2zm0.1 14.5h2.2v2.2h-2.2zm-0.5 20.8h2.2v2.2h-2.2zm0.1 5.6h2.2v2.2h-2.2zm0.7 15.2h2.2v2.2h-2.2zm1.6 19.4h2.2v2.2h-2.2zm1.4 -122.8h2.2v2.2h-2.2zm-1.4 13.9h2.2v2.2h-2.2zm1.7 8h2.2v2.2h-2.2zm-1.1 21h2.2v2.2h-2.2zm-1.3 10.5h2.2v2.2h-2.2zm1 1.2h2.2v2.2h-2.2zm1.2 1.2h2.2v2.2h-2.2zm-0.7 11.5h2.2v2.2h-2.2zm1.2 3.7h2.2v2.2h-2.2zm-2.3 6.3h2.2v2.2h-2.2zm-0.3 9.6h2.2v2.2h-2.2zm2.4 18.5h2.2v2.2h-2.2zm0.7 -110.4h2.2v2.2h-2.2zm0.4 3h2.2v2.2h-2.2zm-1.1 15.8h2.2v2.2h-2.2zm1.3 7.8h2.2v2.2h-2.2zm-0.1 0.6h2.2v2.2h-2.2zm0.5 29.3h2.2v2.2h-2.2zm-1.5 2.1h2.2v2.2h-2.2zm0.6 10.6h2.2v2.2h-2.2zm1.2 5.8h2.2v2.2h-2.2zm-1.5 12.2h2.2v2.2h-2.2zm1.3 20h2.2v2.2h-2.2zm0.2 15.9h2.2v2.2h-2.2zm0.7 -112h2.2v2.2h-2.2zm0 6.6h2.2v2.2h-2.2zm1 3.3h2.2v2.2h-2.2zm0.1 1.9h2.2v2.2h-2.2zm-1.6 1.3h2.2v2.2h-2.2zm0.5 4.9h2.2v2.2h-2.2zm0.7 9.7h2.2v2.2h-2.2zm-0.6 3h2.2v2.2h-2.2zm-0.7 1.1h2.2v2.2h-2.2zm-0.2 14.3h2.2v2.2h-2.2zm1.6 7.7h2.2v2.2h-2.2zm0.3 5.9h2.2v2.2h-2.2zm-1 1.6h2.2v2.2h-2.2zm-0.2 1.5h2.2v2.2h-2.2zm1.5 8.3h2.2v2.2h-2.2zm-1.4 15.9h2.2v2.2h-2.2zm-0.3 33.4h2.2v2.2h-2.2zm1.7 -126.4h2.2v2.2h-2.2zm-0.1 6h2.2v2.2h-2.2zm0.5 3.8h2.2v2.2h-2.2zm0.4 12h2.2v2.2h-2.2zm-0.4 4h2.2v2.2h-2.2zm-0.7 2.8h2.2v2.2h-2.2zm0.4 2.8h2.2v2.2h-2.2zm0 11.8h2.2v2.2h-2.2zm1.2 3h2.2v2.2h-2.2zm0.1 22.1h2.2v2.2h-2.2zm0.4 6.7h2.2v2.2h-2.2zm-1.2 1.6h2.2v2.2h-2.2zm-0.5 4.1h2.2v2.2h-2.2zm1.1 2h2.2v2.2h-2.2zm-0.7 1h2.2v2.2h-2.2zm-0.1 41.9h2.2v2.2h-2.2zm3.8 -130.2h2.2v2.2h-2.2zm-1.6 9.7h2.2v2.2h-2.2zm-0.3 2.6h2.2v2.2h-2.2zm1.9 4.1h2.2v2.2h-2.2zm-2.3 9.3h2.2v2.2h-2.2zm1 3.7h2.2v2.2h-2.2zm1.4 14.5h2.2v2.2h-2.2zm-1.7 10.5h2.2v2.2h-2.2zm1.5 1.9h2.2v2.2h-2.2zm-2.4 2.5h2.2v2.2h-2.2zm0.5 13h2.2v2.2h-2.2zm3.7 -76.2h2.2v2.2h-2.2zm-0.3 28.4h2.2v2.2h-2.2zm-1.9 61.9h2.2v2.2h-2.2zm1.8 4.6h2.2v2.2h-2.2zm-2.1 2.7h2.2v2.2h-2.2zm0.6 32.9h2.2v2.2h-2.2zm1.9 -109.1h2.2v2.2h-2.2zm-0.5 22.7h2.2v2.2h-2.2zm2.5 36.2h2.2v2.2h-2.2zm-0.9 4.2h2.2v2.2h-2.2zm0.3 1.6h2.2v2.2h-2.2zm0.5 8.9h2.2v2.2h-2.2zm0.3 16.1h2.2v2.2h-2.2zm-1 18.4h2.2v2.2h-2.2zm0.6 -126h2.2v2.2h-2.2zm0.7 1.2h2.2v2.2h-2.2zm0.7 15.8h2.2v2.2h-2.2zm0 2.5h2.2v2.2h-2.2zm-1.2 15h2.2v2.2h-2.2zm2.3 43.6h2.2v2.2h-2.2zm-2.1 28.8h2.2v2.2h-2.2zm2.8 -102h2.2v2.2h-2.2zm-0.4 2.1h2.2v2.2h-2.2zm1.7 1.5h2.2v2.2h-2.2zm-1.2 11.3h2.2v2.2h-2.2zm-1 13.1h2.2v2.2h-2.2zm1.1 20.9h2.2v2.2h-2.2zm0.1 54.9h2.2v2.2h-2.2zm-1.7 2.1h2.2v2.2h-2.2zm1.7 10h2.2v2.2h-2.2zm2.4 -107.8h2.2v2.2h-2.2zm-0.2 5.4h2.2v2.2h-2.2zm-1.1 11.2h2.2v2.2h-2.2zm0.3 3.9h2.2v2.2h-2.2zm-0.9 47.4h2.2v2.2h-2.2zm0.7 3.7h2.2v2.2h-2.2zm-1.1 2.6h2.2v2.2h-2.2zm2.9 0.5h2.2v2.2h-2.2zm-2.6 3.6h2.2v2.2h-2.2zm2.2 8h2.2v2.2h-2.2zm2.2 -104.5h2.2v2.2h-2.2zm-0.7 5.8h2.2v2.2h-2.2zm-1.9 11.1h2.2v2.2h-2.2zm1.5 8.6h2.2v2.2h-2.2zm-1.6 55.9h2.2v2.2h-2.2zm0.3 14.3h2.2v2.2h-2.2zm2.1 10.8h2.2v2.2h-2.2zm-0.1 25.6h2.2v2.2h-2.2zm1.6 -130h2.2v2.2h-2.2zm-1.5 5.1h2.2v2.2h-2.2zm1.2 11.1h2.2v2.2h-2.2zm1.3 7.3h2.2v2.2h-2.2zm-2.1 5.6h2.2v2.2h-2.2zm0.4 49.2h2.2v2.2h-2.2zm-0.2 15.6h2.2v2.2h-2.2zm-0.4 23.6h2.2v2.2h-2.2zm0.8 17.5h2.2v2.2h-2.2zm1.8 -132.2h2.2v2.2h-2.2zm0.8 11.1h2.2v2.2h-2.2zm-0.4 12.6h2.2v2.2h-2.2zm-0.4 1h2.2v2.2h-2.2zm-0.4 1.3h2.2v2.2h-2.2zm-0.7 17.1h2.2v2.2h-2.2zm1.1 27.8h2.2v2.2h-2.2zm-1.1 41.4h2.2v2.2h-2.2zm2.6 9.3h2.2v2.2h-2.2zm-0.7 7.5h2.2v2.2h-2.2zm1.8 -129.7h2.2v2.2h-2.2zm-1.4 20h2.2v2.2h-2.2zm1.1 68.1h2.2v2.2h-2.2zm0.6 7.1h2.2v2.2h-2.2zm-0.1 12.3h2.2v2.2h-2.2zm2.1 -97.3h2.2v2.2h-2.2zm-1.5 1.8h2.2v2.2h-2.2zm0.9 47h2.2v2.2h-2.2zm-0.1 17h2.2v2.2h-2.2zm-0.5 9.2h2.2v2.2h-2.2zm1.8 -58h2.2v2.2h-2.2zm0.8 21.6h2.2v2.2h-2.2zm1.1 6.9h2.2v2.2h-2.2zm0.3 24.8h2.2v2.2h-2.2zm-0.6 5.8h2.2v2.2h-2.2zm-0.9 11.2h2.2v2.2h-2.2zm-1.1 36h2.2v2.2h-2.2zm3.8 -137.9h2.2v2.2h-2.2zm-0.4 7.4h2.2v2.2h-2.2zm-1.4 13h2.2v2.2h-2.2zm1.8 11.2h2.2v2.2h-2.2zm0.2 12.2h2.2v2.2h-2.2zm-0.6 1.1h2.2v2.2h-2.2zm0.6 6.3h2.2v2.2h-2.2zm0.6 9.2h2.2v2.2h-2.2zm-1.2 37.7h2.2v2.2h-2.2zm0.4 25.5h2.2v2.2h-2.2zm-1.7 2.8h2.2v2.2h-2.2zm2.3 -112.5h2.2v2.2h-2.2zm1.7 4.1h2.2v2.2h-2.2zm0.2 8.7h2.2v2.2h-2.2zm0.3 23.9h2.2v2.2h-2.2zm-1.8 3.6h2.2v2.2h-2.2zm0.7 31.7h2.2v2.2h-2.2zm0.5 8.2h2.2v2.2h-2.2zm-1.7 10.2h2.2v2.2h-2.2zm2.7 -91.5h2.2v2.2h-2.2zm1.6 8.1h2.2v2.2h-2.2zm-0.4 5.3h2.2v2.2h-2.2zm-2.1 50.3h2.2v2.2h-2.2zm1.3 6.2h2.2v2.2h-2.2zm-0.4 4.9h2.2v2.2h-2.2zm1.4 10.8h2.2v2.2h-2.2zm-1.9 1.6h2.2v2.2h-2.2zm-0.3 18.1h2.2v2.2h-2.2zm0.7 3.7h2.2v2.2h-2.2zm-0.2 0.2h2.2v2.2h-2.2zm-0.1 3.8h2.2v2.2h-2.2zm0.4 12.9h2.2v2.2h-2.2zm3.4 -120.8h2.2v2.2h-2.2zm-1.9 1.6h2.2v2.2h-2.2zm1 1.7h2.2v2.2h-2.2zm-1 59.4h2.2v2.2h-2.2zm1.1 9.7h2.2v2.2h-2.2zm1 13.6h2.2v2.2h-2.2zm-0.2 12.5h2.2v2.2h-2.2zm0.1 -95.4h2.2v2.2h-2.2zm-0.1 3h2.2v2.2h-2.2zm-0.5 2h2.2v2.2h-2.2zm0.3 17.9h2.2v2.2h-2.2zm0.9 10.5h2.2v2.2h-2.2zm0.8 16.2h2.2v2.2h-2.2zm0.4 3.9h2.2v2.2h-2.2zm-0.4 23.5h2.2v2.2h-2.2zm0.8 22.1h2.2v2.2h-2.2zm-0.2 -119.8h2.2v2.2h-2.2zm0.7 19.6h2.2v2.2h-2.2zm-1.1 5.5h2.2v2.2h-2.2zm2.4 11.3h2.2v2.2h-2.2zm-1.6 20.5h2.2v2.2h-2.2zm-0.6 27.8h2.2v2.2h-2.2zm2.1 11.6h2.2v2.2h-2.2zm-2.5 4.5h2.2v2.2h-2.2zm2.2 4.2h2.2v2.2h-2.2zm0.9 -98.4h2.2v2.2h-2.2zm1.7 8.8h2.2v2.2h-2.2zm-1.2 2.1h2.2v2.2h-2.2zm0.8 2.4h2.2v2.2h-2.2zm0.1 3.4h2.2v2.2h-2.2zm-2.4 3h2.2v2.2h-2.2zm1.7 24.3h2.2v2.2h-2.2zm-0.5 17.1h2.2v2.2h-2.2zm-0.1 10.3h2.2v2.2h-2.2zm-0.4 17.6h2.2v2.2h-2.2zm-0.9 21h2.2v2.2h-2.2zm1.4 11.8h2.2v2.2h-2.2zm1.9 -115.9h2.2v2.2h-2.2zm1.4 21.5h2.2v2.2h-2.2zm-1 29.6h2.2v2.2h-2.2zm-1.7 10.4h2.2v2.2h-2.2zm1.6 8.4h2.2v2.2h-2.2zm-1.1 3.1h2.2v2.2h-2.2zm0 2.7h2.2v2.2h-2.2zm1 19.4h2.2v2.2h-2.2zm-0.9 5.2h2.2v2.2h-2.2zm1.9 14.9h2.2v2.2h-2.2zm0 -109.9h2.2v2.2h-2.2zm0.2 76.3h2.2v2.2h-2.2zm-0.8 2.8h2.2v2.2h-2.2zm0.1 5.1h2.2v2.2h-2.2zm2.5 0.4h2.2v2.2h-2.2zm-0.1 11.6h2.2v2.2h-2.2zm-1.1 3.6h2.2v2.2h-2.2zm0.9 -113.5h2.2v2.2h-2.2zm0.4 5h2.2v2.2h-2.2zm-0.3 14.5h2.2v2.2h-2.2zm1.4 13.7h2.2v2.2h-2.2zm-0.9 25.1h2.2v2.2h-2.2zm1 34.7h2.2v2.2h-2.2zm0 23.2h2.2v2.2h-2.2zm0.4 -97.8h2.2v2.2h-2.2zm-0.2 3.4h2.2v2.2h-2.2zm1.6 14.6h2.2v2.2h-2.2zm1.2 8h2.2v2.2h-2.2zm-0.5 33.3h2.2v2.2h-2.2zm-1.5 13.8h2.2v2.2h-2.2zm1.1 10.8h2.2v2.2h-2.2zm-1.2 4h2.2v2.2h-2.2zm0.8 14.1h2.2v2.2h-2.2zm1.8 -91.4h2.2v2.2h-2.2zm-0.2 36.5h2.2v2.2h-2.2zm-1 22.7h2.2v2.2h-2.2zm0.6 15.3h2.2v2.2h-2.2zm0.9 11.9h2.2v2.2h-2.2zm2.9 -64.9h2.2v2.2h-2.2zm-2.4 10h2.2v2.2h-2.2zm0.2 23.8h2.2v2.2h-2.2zm1.3 36h2.2v2.2h-2.2zm-0.1 8.2h2.2v2.2h-2.2zm1.8 -112.8h2.2v2.2h-2.2zm-0.3 55h2.2v2.2h-2.2zm-0.4 14.1h2.2v2.2h-2.2zm-0.5 7.4h2.2v2.2h-2.2zm0.8 1.5h2.2v2.2h-2.2zm2 -75.2h2.2v2.2h-2.2zm0.7 15.7h2.2v2.2h-2.2zm-1.4 2.2h2.2v2.2h-2.2zm1 9.6h2.2v2.2h-2.2zm1 3.9h2.2v2.2h-2.2zm-1.8 5.4h2.2v2.2h-2.2zm0.1 4.4h2.2v2.2h-2.2zm0.8 20.6h2.2v2.2h-2.2zm1 4h2.2v2.2h-2.2zm-1.8 2.1h2.2v2.2h-2.2zm0.9 34h2.2v2.2h-2.2zm1.7 -100.8h2.2v2.2h-2.2zm1.1 15.2h2.2v2.2h-2.2zm-1.2 3.5h2.2v2.2h-2.2zm-0.6 38.6h2.2v2.2h-2.2zm1.6 21.7h2.2v2.2h-2.2zm-0.4 17.7h2.2v2.2h-2.2zm1.4 -84.1h2.2v2.2h-2.2zm1.9 1.7h2.2v2.2h-2.2zm-1.1 19h2.2v2.2h-2.2zm0.1 4.4h2.2v2.2h-2.2zm-0.1 18.5h2.2v2.2h-2.2zm0.2 4h2.2v2.2h-2.2zm-1.3 3.8h2.2v2.2h-2.2zm0.1 9.3h2.2v2.2h-2.2zm-0.9 27.3h2.2v2.2h-2.2zm1.3 7.6h2.2v2.2h-2.2zm2.8 -118.4h2.2v2.2h-2.2zm0.8 9.6h2.2v2.2h-2.2zm-2.3 9.1h2.2v2.2h-2.2zm0.6 6.1h2.2v2.2h-2.2zm1.1 6.5h2.2v2.2h-2.2zm0.6 5.5h2.2v2.2h-2.2zm-0.8 10.4h2.2v2.2h-2.2zm-1.6 11h2.2v2.2h-2.2zm1.9 2.6h2.2v2.2h-2.2zm-1.2 2.7h2.2v2.2h-2.2zm-0.2 9.1h2.2v2.2h-2.2zm-0.3 8.2h2.2v2.2h-2.2zm1.2 21.6h2.2v2.2h-2.2zm-1.6 15.2h2.2v2.2h-2.2zm2.4 -113.4h2.2v2.2h-2.2zm2.2 11h2.2v2.2h-2.2zm0 8.5h2.2v2.2h-2.2zm-2.5 24.4h2.2v2.2h-2.2zm1.7 8.4h2.2v2.2h-2.2zm0.8 9.8h2.2v2.2h-2.2zm-2.5 16.4h2.2v2.2h-2.2zm1.8 2.2h2.2v2.2h-2.2zm0.4 9.9h2.2v2.2h-2.2zm0.3 16.1h2.2v2.2h-2.2zm-0.9 6h2.2v2.2h-2.2zm-1.4 7.9h2.2v2.2h-2.2zm3.2 -97.9h2.2v2.2h-2.2zm-1.1 9.5h2.2v2.2h-2.2zm2 6.2h2.2v2.2h-2.2zm-1.3 29.1h2.2v2.2h-2.2zm-0.8 5.8h2.2v2.2h-2.2zm1.5 6.4h2.2v2.2h-2.2zm0.3 2h2.2v2.2h-2.2zm-1.4 6.5h2.2v2.2h-2.2zm1.3 4.3h2.2v2.2h-2.2zm-0.4 10.9h2.2v2.2h-2.2zm0.7 9.8h2.2v2.2h-2.2zm-1.4 1.5h2.2v2.2h-2.2zm2.2 -122.1h2.2v2.2h-2.2zm1.3 16.9h2.2v2.2h-2.2zm0.3 8h2.2v2.2h-2.2zm-2.6 3h2.2v2.2h-2.2zm0.3 34.3h2.2v2.2h-2.2zm1.1 7.7h2.2v2.2h-2.2zm0.3 9.4h2.2v2.2h-2.2zm0.5 12.8h2.2v2.2h-2.2zm0.1 3h2.2v2.2h-2.2zm-2.7 8.2h2.2v2.2h-2.2zm0.9 6h2.2v2.2h-2.2zm1.9 4.3h2.2v2.2h-2.2zm-2.6 5.7h2.2v2.2h-2.2zm4.4 -97.1h2.2v2.2h-2.2zm-0.2 11.2h2.2v2.2h-2.2zm-1.2 0.5h2.2v2.2h-2.2zm1.7 7.8h2.2v2.2h-2.2zm-1.5 1.6h2.2v2.2h-2.2zm0.1 3.4h2.2v2.2h-2.2zm-0.8 4.2h2.2v2.2h-2.2zm1.2 3.1h2.2v2.2h-2.2zm-0.4 11.9h2.2v2.2h-2.2zm0.8 25.8h2.2v2.2h-2.2zm-1.2 4.7h2.2v2.2h-2.2zm1.3 -90.4h2.2v2.2h-2.2zm1.7 6.2h2.2v2.2h-2.2zm0.9 15.4h2.2v2.2h-2.2zm-0.9 15.8h2.2v2.2h-2.2zm-1 11.9h2.2v2.2h-2.2zm1 6.5h2.2v2.2h-2.2zm-0.5 2.2h2.2v2.2h-2.2zm-0.3 26.6h2.2v2.2h-2.2zm1.5 8.7h2.2v2.2h-2.2zm-2.1 9h2.2v2.2h-2.2zm2.2 3.2h2.2v2.2h-2.2zm-0.3 -120h2.2v2.2h-2.2zm-0.2 2.7h2.2v2.2h-2.2zm-0.3 23.2h2.2v2.2h-2.2zm1 0.4h2.2v2.2h-2.2zm1.6 4.2h2.2v2.2h-2.2zm0.3 5.5h2.2v2.2h-2.2zm-0.8 4.5h2.2v2.2h-2.2zm0.5 2.9h2.2v2.2h-2.2zm-1.4 16.1h2.2v2.2h-2.2zm-1.2 3.2h2.2v2.2h-2.2zm2 1h2.2v2.2h-2.2zm0 39.2h2.2v2.2h-2.2zm-1 15.2h2.2v2.2h-2.2zm0.8 10.3h2.2v2.2h-2.2zm2.1 -123.2h2.2v2.2h-2.2zm0.1 26.7h2.2v2.2h-2.2zm-1.9 13.9h2.2v2.2h-2.2zm2.7 0.2h2.2v2.2h-2.2zm-2.5 2h2.2v2.2h-2.2zm-0.4 24.5h2.2v2.2h-2.2zm2.8 18.2h2.2v2.2h-2.2zm-2.6 7.6h2.2v2.2h-2.2zm0.9 14.2h2.2v2.2h-2.2zm1.4 9.3h2.2v2.2h-2.2zm-1.1 1.3h2.2v2.2h-2.2zm2.4 -99.1h2.2v2.2h-2.2zm-0.9 20.3h2.2v2.2h-2.2zm-0.2 20h2.2v2.2h-2.2zm-0.3 12.5h2.2v2.2h-2.2zm1.3 17.9h2.2v2.2h-2.2zm-0.2 1.4h2.2v2.2h-2.2zm1 11.5h2.2v2.2h-2.2zm-2.4 15.5h2.2v2.2h-2.2zm2 6.6h2.2v2.2h-2.2zm0.2 -129.3h2.2v2.2h-2.2zm2.4 14.9h2.2v2.2h-2.2zm0 8.7h2.2v2.2h-2.2zm-1.7 9.7h2.2v2.2h-2.2zm1.8 10.2h2.2v2.2h-2.2zm-1.8 9.3h2.2v2.2h-2.2zm-0.1 2.7h2.2v2.2h-2.2zm-0.3 3.3h2.2v2.2h-2.2zm-0.2 3.5h2.2v2.2h-2.2zm2.4 2.9h2.2v2.2h-2.2zm-0.5 2.9h2.2v2.2h-2.2zm-0.6 12.5h2.2v2.2h-2.2zm1.2 8h2.2v2.2h-2.2zm-0.3 9.2h2.2v2.2h-2.2zm-1.5 31.6h2.2v2.2h-2.2zm1.8 0.5h2.2v2.2h-2.2zm-0.3 -89.5h2.2v2.2h-2.2zm2.3 6.3h2.2v2.2h-2.2zm-0.7 23.8h2.2v2.2h-2.2zm-0.9 6.3h2.2v2.2h-2.2zm-0.8 3.6h2.2v2.2h-2.2zm2 24.9h2.2v2.2h-2.2zm-1.4 10.1h2.2v2.2h-2.2zm1.8 6.1h2.2v2.2h-2.2zm-2.3 8.7h2.2v2.2h-2.2zm1.7 4h2.2v2.2h-2.2zm-1.7 0.3h2.2v2.2h-2.2zm2.1 -114.3h2.2v2.2h-2.2zm-0.1 9.8h2.2v2.2h-2.2zm0.8 2h2.2v2.2h-2.2zm-0.5 14.5h2.2v2.2h-2.2zm0.6 17.2h2.2v2.2h-2.2zm1.1 8.6h2.2v2.2h-2.2zm-1.3 8.1h2.2v2.2h-2.2zm-1.2 12.5h2.2v2.2h-2.2zm2.8 2.8h2.2v2.2h-2.2zm-2.8 2.8h2.2v2.2h-2.2zm1.5 5h2.2v2.2h-2.2zm-0.7 21.4h2.2v2.2h-2.2zm2.7 -87.5h2.2v2.2h-2.2zm0.9 3.6h2.2v2.2h-2.2zm0 2.5h2.2v2.2h-2.2zm-1.7 2.4h2.2v2.2h-2.2zm1.9 4.3h2.2v2.2h-2.2zm-1 1.3h2.2v2.2h-2.2zm0.3 2.9h2.2v2.2h-2.2zm-1.9 11.6h2.2v2.2h-2.2zm0.9 7.9h2.2v2.2h-2.2zm1.3 9.4h2.2v2.2h-2.2zm-0.3 36h2.2v2.2h-2.2zm0.5 6.8h2.2v2.2h-2.2zm1.7 -113.9h2.2v2.2h-2.2zm-0.4 5.4h2.2v2.2h-2.2zm0.1 49h2.2v2.2h-2.2zm-0.9 1.8h2.2v2.2h-2.2zm-0.4 2.1h2.2v2.2h-2.2zm0.8 11.5h2.2v2.2h-2.2zm-1.4 11.2h2.2v2.2h-2.2zm0.3 2.9h2.2v2.2h-2.2zm0.6 8.4h2.2v2.2h-2.2zm0.8 13.5h2.2v2.2h-2.2zm0.6 12.7h2.2v2.2h-2.2zm0.9 -128.5h2.2v2.2h-2.2zm-1 27.7h2.2v2.2h-2.2zm0.3 10.1h2.2v2.2h-2.2zm1.4 6.9h2.2v2.2h-2.2zm-0.6 15.4h2.2v2.2h-2.2zm1 16.1h2.2v2.2h-2.2zm-0.5 3.7h2.2v2.2h-2.2zm-0.3 0.7h2.2v2.2h-2.2zm-0.9 5.1h2.2v2.2h-2.2zm2 11.1h2.2v2.2h-2.2zm-2 5.9h2.2v2.2h-2.2zm0.9 2.7h2.2v2.2h-2.2zm2.5 -108.5h2.2v2.2h-2.2zm0.5 9.2h2.2v2.2h-2.2zm-1.3 1.8h2.2v2.2h-2.2zm-1.1 23.5h2.2v2.2h-2.2zm1.2 35.3h2.2v2.2h-2.2zm0.6 19.8h2.2v2.2h-2.2zm-1.1 13.1h2.2v2.2h-2.2zm1.2 6.5h2.2v2.2h-2.2zm-0.8 -0.5h2.2v2.2h-2.2zm0 10.9h2.2v2.2h-2.2zm0.5 3.6h2.2v2.2h-2.2zm1 -120.2h2.2v2.2h-2.2zm0.2 23.5h2.2v2.2h-2.2zm-0.8 14h2.2v2.2h-2.2zm0.5 1.5h2.2v2.2h-2.2zm-0.2 14.5h2.2v2.2h-2.2zm0.2 12.3h2.2v2.2h-2.2zm-0.4 2.7h2.2v2.2h-2.2zm1.3 18.3h2.2v2.2h-2.2zm0.2 6.9h2.2v2.2h-2.2zm1.2 9h2.2v2.2h-2.2zm-0.5 5.1h2.2v2.2h-2.2zm-0.4 10.2h2.2v2.2h-2.2zm-1.3 4.2h2.2v2.2h-2.2zm4.3 -105.9h2.2v2.2h-2.2zm-2.4 6h2.2v2.2h-2.2zm1.9 6.1h2.2v2.2h-2.2zm0.3 27.4h2.2v2.2h-2.2zm-1.5 6.3h2.2v2.2h-2.2zm1 3.5h2.2v2.2h-2.2zm0.5 5.2h2.2v2.2h-2.2zm-0.9 2.4h2.2v2.2h-2.2zm-1.3 16.6h2.2v2.2h-2.2zm0.3 22.1h2.2v2.2h-2.2zm0.6 4h2.2v2.2h-2.2zm0.7 11.7h2.2v2.2h-2.2zm0.3 -112.9h2.2v2.2h-2.2zm0.5 27.1h2.2v2.2h-2.2zm-0.9 2.4h2.2v2.2h-2.2zm2.3 9.9h2.2v2.2h-2.2zm-0.7 10.4h2.2v2.2h-2.2zm1.2 19.6h2.2v2.2h-2.2zm-2.3 3.3h2.2v2.2h-2.2zm1.8 6h2.2v2.2h-2.2zm0 1.8h2.2v2.2h-2.2zm-0.7 10.8h2.2v2.2h-2.2zm-1.5 1.6h2.2v2.2h-2.2zm-0.1 4.6h2.2v2.2h-2.2zm0.8 13.8h2.2v2.2h-2.2zm1.3 -118.1h2.2v2.2h-2.2zm2.1 3.4h2.2v2.2h-2.2zm0 12.9h2.2v2.2h-2.2zm-1.5 11.7h2.2v2.2h-2.2zm-0.1 3.5h2.2v2.2h-2.2zm1.9 2.8h2.2v2.2h-2.2zm-2.2 18h2.2v2.2h-2.2zm2.1 17.2h2.2v2.2h-2.2zm0.1 8.5h2.2v2.2h-2.2zm-0.2 -0.1h2.2v2.2h-2.2zm-1.9 10.9h2.2v2.2h-2.2zm1.7 5.4h2.2v2.2h-2.2zm-0.5 9.7h2.2v2.2h-2.2zm0.6 6.5h2.2v2.2h-2.2zm0.1 6.5h2.2v2.2h-2.2zm-2.3 9h2.2v2.2h-2.2zm2.6 -125.7h2.2v2.2h-2.2zm0.1 7.4h2.2v2.2h-2.2zm2.1 6.5h2.2v2.2h-2.2zm-2.7 17.8h2.2v2.2h-2.2zm0.9 6.4h2.2v2.2h-2.2zm-0.2 7.6h2.2v2.2h-2.2zm1.9 24.5h2.2v2.2h-2.2zm-1.1 1.3h2.2v2.2h-2.2zm-1 4.2h2.2v2.2h-2.2zm0.9 38.9h2.2v2.2h-2.2zm-1.1 1.2h2.2v2.2h-2.2zm3.7 -127.1h2.2v2.2h-2.2zm0.6 34.7h2.2v2.2h-2.2zm-1.5 4.5h2.2v2.2h-2.2zm1.5 12.1h2.2v2.2h-2.2zm-0.4 7.5h2.2v2.2h-2.2zm-0.3 1h2.2v2.2h-2.2zm0.4 17.4h2.2v2.2h-2.2zm-2 10.3h2.2v2.2h-2.2zm1.6 3.5h2.2v2.2h-2.2zm-1.2 10h2.2v2.2h-2.2zm1.2 19.8h2.2v2.2h-2.2zm-0.4 6.7h2.2v2.2h-2.2zm1.8 -122.3h2.2v2.2h-2.2zm-0.8 15h2.2v2.2h-2.2zm-0.3 20.9h2.2v2.2h-2.2zm0.8 13.8h2.2v2.2h-2.2zm-0.3 9.9h2.2v2.2h-2.2zm0 -0.3h2.2v2.2h-2.2zm-0.9 19.4h2.2v2.2h-2.2zm0.9 12.9h2.2v2.2h-2.2zm1.4 23.6h2.2v2.2h-2.2zm-0.7 3.3h2.2v2.2h-2.2zm0.8 5.8h2.2v2.2h-2.2zm2.6 -124.3h2.2v2.2h-2.2zm-2.9 7.8h2.2v2.2h-2.2zm2.7 19.6h2.2v2.2h-2.2zm-0.4 24.3h2.2v2.2h-2.2zm-1.4 4.6h2.2v2.2h-2.2zm1.9 1.2h2.2v2.2h-2.2zm-2 15.3h2.2v2.2h-2.2zm-0.8 19.1h2.2v2.2h-2.2zm2.7 16.3h2.2v2.2h-2.2zm-2.6 5.9h2.2v2.2h-2.2zm2.5 3.1h2.2v2.2h-2.2zm-1.1 1h2.2v2.2h-2.2zm-0.7 1.8h2.2v2.2h-2.2zm0.9 9.8h2.2v2.2h-2.2zm-0.6 1.4h2.2v2.2h-2.2zm3.3 -126.8h2.2v2.2h-2.2zm-1 2.4h2.2v2.2h-2.2zm-1 2.4h2.2v2.2h-2.2zm0.1 2.7h2.2v2.2h-2.2zm0.5 7.3h2.2v2.2h-2.2zm0.8 17.2h2.2v2.2h-2.2zm0 11.5h2.2v2.2h-2.2zm0.7 6.2h2.2v2.2h-2.2zm-1.5 11.3h2.2v2.2h-2.2zm1 38.2h2.2v2.2h-2.2zm-2 1.4h2.2v2.2h-2.2zm1.1 15.2h2.2v2.2h-2.2zm-0.3 0.3h2.2v2.2h-2.2zm0.6 5.3h2.2v2.2h-2.2zm2.3 -105.8h2.2v2.2h-2.2zm-1.3 23h2.2v2.2h-2.2zm1.3 16.3h2.2v2.2h-2.2zm-0.2 14.6h2.2v2.2h-2.2zm0.2 22h2.2v2.2h-2.2zm1.1 8.2h2.2v2.2h-2.2zm-1.5 5.4h2.2v2.2h-2.2zm1.2 4.8h2.2v2.2h-2.2zm-0.5 -0.7h2.2v2.2h-2.2zm-1.5 5.9h2.2v2.2h-2.2zm1.5 6.7h2.2v2.2h-2.2zm1.7 -82.4h2.2v2.2h-2.2zm-0.8 8.9h2.2v2.2h-2.2zm1.7 5.4h2.2v2.2h-2.2zm-1.2 4.4h2.2v2.2h-2.2zm-0.6 4h2.2v2.2h-2.2zm1.1 11.1h2.2v2.2h-2.2zm0.4 21.3h2.2v2.2h-2.2zm-2.2 3.9h2.2v2.2h-2.2zm2.6 2.4h2.2v2.2h-2.2zm-0.1 3.3h2.2v2.2h-2.2zm-2.5 22.1h2.2v2.2h-2.2zm3 -132.4h2.2v2.2h-2.2zm-0.1 13.4h2.2v2.2h-2.2zm-0.3 9.4h2.2v2.2h-2.2zm1.4 8.6h2.2v2.2h-2.2zm-1.8 11.9h2.2v2.2h-2.2zm2.1 4.8h2.2v2.2h-2.2zm-1.3 10.5h2.2v2.2h-2.2zm1.8 1.9h2.2v2.2h-2.2zm-1.2 9.2h2.2v2.2h-2.2zm-1 26.5h2.2v2.2h-2.2zm-0.7 21.8h2.2v2.2h-2.2zm2.4 2h2.2v2.2h-2.2zm-0.8 11.2h2.2v2.2h-2.2zm1.2 -103h2.2v2.2h-2.2zm0.3 25.9h2.2v2.2h-2.2zm-0.2 34.1h2.2v2.2h-2.2zm1.7 1.7h2.2v2.2h-2.2zm-0.7 9.6h2.2v2.2h-2.2zm-0.3 10.6h2.2v2.2h-2.2zm0.3 15h2.2v2.2h-2.2zm0.8 6.8h2.2v2.2h-2.2zm1.3 -113.9h2.2v2.2h-2.2zm0.7 10.9h2.2v2.2h-2.2zm-2.3 5.4h2.2v2.2h-2.2zm1.7 44h2.2v2.2h-2.2zm-0.4 17.5h2.2v2.2h-2.2zm-1.2 4.1h2.2v2.2h-2.2zm1.9 1.6h2.2v2.2h-2.2zm-2.1 2.1h2.2v2.2h-2.2zm2.2 1.9h2.2v2.2h-2.2zm-0.6 8h2.2v2.2h-2.2zm0.1 16h2.2v2.2h-2.2zm-0.3 1.7h2.2v2.2h-2.2z" fill="rgb(228, 82, 58)"/>
<path d="M0 0m335.2 249.4h2.2v2.2h-2.2zm0 17.5h2.2v2.2h-2.2zm-1 9.8h2.2v2.2h-2.2zm0.4 7.5h2.2v2.2h-2.2zm-0.9 11.9h2.2v2.2h-2.2zm0.8 1.6h2.2v2.2h-2.2zm-0.6 8.3h2.2v2.2h-2.2zm1.9 11.1h2.2v2.2h-2.2zm-1.3 1.1h2.2v2.2h-2.2zm-0.7 17.3h2.2v2.2h-2.2zm0.1 6.5h2.2v2.2h-2.2zm0.4 12.8h2.2v2.2h-2.2zm0.6 2.5h2.2v2.2h-2.2zm0.8 -96.8h2.2v2.2h-2.2zm2.4 11.2h2.2v2.2h-2.2zm-2.4 6.4h2.2v2.2h-2.2zm1.1 10.9h2.2v2.2h-2.2zm0.9 7.3h2.2v2.2h-2.2zm0.4 3.2h2.2v2.2h-2.2zm-1 4.7h2.2v2.2h-2.2zm0.1 41.3h2.2v2.2h-2.2zm1 18.1h2.2v2.2h-2.2zm1 -106.9h2.2v2.2h-2.2zm-0.9 15.7h2.2v2.2h-2.2zm1.8 -0.3h2.2v2.2h-2.2zm0.2 9.9h2.2v2.2h-2.2zm0.1 0.2h2.2v2.2h-2.2zm-0.9 4.1h2.2v2.2h-2.2zm0.3 1.9h2.2v2.2h-2.2zm-0.4 2.2h2.2v2.2h-2.2zm-1.9 6h2.2v2.2h-2.2zm0.6 13.5h2.2v2.2h-2.2zm0.9 0.2h2.2v2.2h-2.2zm1 47.7h2.2v2.2h-2.2zm-1.9 4h2.2v2.2h-2.2zm2.4 -121.1h2.2v2.2h-2.2zm1.6 36.2h2.2v2.2h-2.2zm-0.7 3.3h2.2v2.2h-2.2zm-0.3 4.1h2.2v2.2h-2.2zm1.2 4.1h2.2v2.2h-2.2zm-1.6 7.5h2.2v2.2h-2.2zm0.7 17.8h2.2v2.2h-2.2zm0.7 26.1h2.2v2.2h-2.2zm-1.8 9.6h2.2v2.2h-2.2zm2.1 -107.8h2.2v2.2h-2.2zm1.8 28.3h2.2v2.2h-2.2zm-0.2 10.1h2.2v2.2h-2.2zm0.2 2.3h2.2v2.2h-2.2zm0 31.3h2.2v2.2h-2.2zm-1.2 3h2.2v2.2h-2.2zm-0.3 21.9h2.2v2.2h-2.2zm-0.6 2.2h2.2v2.2h-2.2zm3.5 -106h2.2v2.2h-2.2zm-0.1 33.6h2.2v2.2h-2.2zm0.3 2.2h2.2v2.2h-2.2zm-0.6 9.8h2.2v2.2h-2.2zm-0.2 14.7h2.2v2.2h-2.2zm-0.3 10h2.2v2.2h-2.2zm0.5 21.3h2.2v2.2h-2.2zm-1.5 21.5h2.2v2.2h-2.2zm2.5 -98.5h2.2v2.2h-2.2zm0.7 2.5h2.2v2.2h-2.2zm-1 9.8h2.2v2.2h-2.2zm2.6 8.5h2.2v2.2h-2.2zm-1.3 0.2h2.2v2.2h-2.2zm-0.9 3.3h2.2v2.2h-2.2zm0.4 6.3h2.2v2.2h-2.2zm1.1 16.4h2.2v2.2h-2.2zm0.3 9.9h2.2v2.2h-2.2zm-1.2 5.2h2.2v2.2h-2.2zm1.1 5.1h2.2v2.2h-2.2zm-1 2h2.2v2.2h-2.2zm-1 34.1h2.2v2.2h-2.2zm2.5 -106.4h2.2v2.2h-2.2zm0.1 8.9h2.2v2.2h-2.2zm0.5 16.8h2.2v2.2h-2.2zm-0.7 18.6h2.2v2.2h-2.2zm1.6 31.5h2.2v2.2h-2.2zm0.3 9.5h2.2v2.2h-2.2zm0.2 27.7h2.2v2.2h-2.2zm-2.5 9.1h2.2v2.2h-2.2zm1.6 -110.8h2.2v2.2h-2.2zm0.4 2.1h2.2v2.2h-2.2zm-0.1 1.2h2.2v2.2h-2.2zm0.4 9.4h2.2v2.2h-2.2zm-0.3 9.9h2.2v2.2h-2.2zm0.4 1.6h2.2v2.2h-2.2zm-0.4 16.4h2.2v2.2h-2.2zm3.6 -60.1h2.2v2.2h-2.2zm-1.1 26.2h2.2v2.2h-2.2zm0.1 3h2.2v2.2h-2.2zm1.5 14h2.2v2.2h-2.2zm0.2 32.3h2.2v2.2h-2.2zm0.2 18.1h2.2v2.2h-2.2zm-2.2 3.4h2.2v2.2h-2.2zm0.4 35.1h2.2v2.2h-2.2zm2.6 -134.4h2.2v2.2h-2.2zm-1.5 18.3h2.2v2.2h-2.2zm2 14.6h2.2v2.2h-2.2zm-1.8 7.7h2.2v2.2h-2.2zm2.1 9.4h2.2v2.2h-2.2zm-1.8 4.6h2.2v2.2h-2.2zm0.3 15.5h2.2v2.2h-2.2zm1 10.3h2.2v2.2h-2.2zm0.3 1.5h2.2v2.2h-2.2zm-1.5 4.5h2.2v2.2h-2.2zm0.8 12.5h2.2v2.2h-2.2zm0.6 -79.2h2.2v2.2h-2.2zm1.7 11.1h2.2v2.2h-2.2zm0.3 3.1h2.2v2.2h-2.2zm0.4 5.2h2.2v2.2h-2.2zm-1.2 3.2h2.2v2.2h-2.2zm-0.9 21.7h2.2v2.2h-2.2zm0.3 7.4h2.2v2.2h-2.2zm-0.5 17.2h2.2v2.2h-2.2zm-0.1 -0.5h2.2v2.2h-2.2zm3.6 -64.2h2.2v2.2h-2.2zm-1.5 6.5h2.2v2.2h-2.2zm2.5 11.4h2.2v2.2h-2.2zm-0.4 4.4h2.2v2.2h-2.2zm-1.8 6.2h2.2v2.2h-2.2zm0.5 5.8h2.2v2.2h-2.2zm0.8 4.1h2.2v2.2h-2.2zm-0.7 5.3h2.2v2.2h-2.2zm1.6 9.3h2.2v2.2h-2.2zm-1.4 12h2.2v2.2h-2.2zm1.4 4h2.2v2.2h-2.2zm-1.3 18.2h2.2v2.2h-2.2zm1.2 -84.8h2.2v2.2h-2.2zm1.9 4.2h2.2v2.2h-2.2zm-0.5 43.5h2.2v2.2h-2.2zm-2.2 4.4h2.2v2.2h-2.2zm2.7 5.8h2.2v2.2h-2.2zm-1.3 6.1h2.2v2.2h-2.2zm0.1 0.1h2.2v2.2h-2.2zm3 -74.1h2.2v2.2h-2.2zm0.4 3.8h2.2v2.2h-2.2zm-0.1 11h2.2v2.2h-2.2zm-2.5 15.2h2.2v2.2h-2.2zm0 6.1h2.2v2.2h-2.2zm-0.2 9.5h2.2v2.2h-2.2zm0.7 2.8h2.2v2.2h-2.2zm1 1.2h2.2v2.2h-2.2zm-0.9 7.1h2.2v2.2h-2.2zm1.7 27h2.2v2.2h-2.2zm-1.9 16.3h2.2v2.2h-2.2zm2 -96.1h2.2v2.2h-2.2zm1.9 10.5h2.2v2.2h-2.2zm-2.5 2h2.2v2.2h-2.2zm0.7 11.8h2.2v2.2h-2.2zm2.1 9.9h2.2v2.2h-2.2zm-1.2 12.2h2.2v2.2h-2.2zm-1.7 15.9h2.2v2.2h-2.2zm2.9 3.7h2.2v2.2h-2.2zm-2.7 3.9h2.2v2.2h-2.2zm1.6 26.4h2.2v2.2h-2.2zm-1.7 8.8h2.2v2.2h-2.2zm0.9 9.9h2.2v2.2h-2.2zm2.3 -118.4h2.2v2.2h-2.2zm-0.6 3.9h2.2v2.2h-2.2zm2 1.8h2.2v2.2h-2.2zm-2.3 9.9h2.2v2.2h-2.2zm0.7 8.5h2.2v2.2h-2.2zm1.5 18.5h2.2v2.2h-2.2zm-0.8 23.7h2.2v2.2h-2.2zm-0.7 3.4h2.2v2.2h-2.2zm0 5.4h2.2v2.2h-2.2zm-1 11.4h2.2v2.2h-2.2zm1.2 18.8h2.2v2.2h-2.2zm1.1 -121.8h2.2v2.2h-2.2zm2.5 76.4h2.2v2.2h-2.2zm-1.1 0h2.2v2.2h-2.2zm1.2 5.2h2.2v2.2h-2.2zm-0.7 4.3h2.2v2.2h-2.2zm-1.5 5.9h2.2v2.2h-2.2zm-0.7 21.1h2.2v2.2h-2.2zm3.8 -101.7h2.2v2.2h-2.2zm-1.9 12.4h2.2v2.2h-2.2zm2.9 2.8h2.2v2.2h-2.2zm-0.1 34.9h2.2v2.2h-2.2zm-0.7 23.2h2.2v2.2h-2.2zm0 -55h2.2v2.2h-2.2zm2.5 2.7h2.2v2.2h-2.2zm-0.3 17.8h2.2v2.2h-2.2zm-1.2 6.8h2.2v2.2h-2.2zm0.5 11.7h2.2v2.2h-2.2zm-0.4 3.5h2.2v2.2h-2.2zm0 2.2h2.2v2.2h-2.2zm0.8 6.8h2.2v2.2h-2.2zm-0.1 2.9h2.2v2.2h-2.2zm-0.3 7.5h2.2v2.2h-2.2zm0.7 3.2h2.2v2.2h-2.2zm-1.5 19.7h2.2v2.2h-2.2zm0.4 20.8h2.2v2.2h-2.2zm3.1 -124.7h2.2v2.2h-2.2zm0.6 3.7h2.2v2.2h-2.2zm-2.5 2.1h2.2v2.2h-2.2zm0.8 1.7h2.2v2.2h-2.2zm0.4 8.3h2.2v2.2h-2.2zm1.1 28.5h2.2v2.2h-2.2zm-1 1.5h2.2v2.2h-2.2zm0.7 15.6h2.2v2.2h-2.2zm-1.2 6.1h2.2v2.2h-2.2zm-0.3 21.7h2.2v2.2h-2.2zm3.6 -83.6h2.2v2.2h-2.2zm-0.1 20h2.2v2.2h-2.2zm-1.3 7.8h2.2v2.2h-2.2zm0.3 15.8h2.2v2.2h-2.2zm-1.4 15.1h2.2v2.2h-2.2zm1.9 1h2.2v2.2h-2.2zm0.7 9.8h2.2v2.2h-2.2zm-1.5 2.9h2.2v2.2h-2.2zm1.6 4.8h2.2v2.2h-2.2zm-0.4 36.2h2.2v2.2h-2.2zm0.1 -127.6h2.2v2.2h-2.2zm2 2.2h2.2v2.2h-2.2zm-1.6 15.7h2.2v2.2h-2.2zm-0.5 7.3h2.2v2.2h-2.2zm2.7 1.9h2.2v2.2h-2.2zm-0.5 3.3h2.2v2.2h-2.2zm-1.9 13.6h2.2v2.2h-2.2zm2.2 13.5h2.2v2.2h-2.2zm-2.1 8.5h2.2v2.2h-2.2zm-0.5 5.4h2.2v2.2h-2.2zm1.7 12.6h2.2v2.2h-2.2zm-1 7.9h2.2v2.2h-2.2zm1.4 9.3h2.2v2.2h-2.2zm0.5 -93.1h2.2v2.2h-2.2zm1.5 7h2.2v2.2h-2.2zm-0.1 9.6h2.2v2.2h-2.2zm0.6 15.8h2.2v2.2h-2.2zm-0.1 5.2h2.2v2.2h-2.2zm-0.5 30.2h2.2v2.2h-2.2zm2.2 -63.8h2.2v2.2h-2.2zm-1.6 14.4h2.2v2.2h-2.2zm2.2 1.3h2.2v2.2h-2.2zm-1.7 4.7h2.2v2.2h-2.2zm-0.8 1.1h2.2v2.2h-2.2zm2.1 0.4h2.2v2.2h-2.2zm-1.9 3.2h2.2v2.2h-2.2zm-0.2 31h2.2v2.2h-2.2zm1.1 12.7h2.2v2.2h-2.2zm-1.3 1.2h2.2v2.2h-2.2zm0.2 7.2h2.2v2.2h-2.2zm1.9 7.5h2.2v2.2h-2.2zm-0.3 30.3h2.2v2.2h-2.2zm0.9 -127.6h2.2v2.2h-2.2zm1.7 1.2h2.2v2.2h-2.2zm-0.3 25.9h2.2v2.2h-2.2zm-0.4 3.6h2.2v2.2h-2.2zm-0.7 4.1h2.2v2.2h-2.2zm0.5 25.7h2.2v2.2h-2.2zm-0.2 22.5h2.2v2.2h-2.2zm-0.6 3.8h2.2v2.2h-2.2zm1.1 -70.1h2.2v2.2h-2.2zm1.8 7.5h2.2v2.2h-2.2zm0 1.1h2.2v2.2h-2.2zm0.4 3.4h2.2v2.2h-2.2zm-1.2 5.8h2.2v2.2h-2.2zm0.5 16.7h2.2v2.2h-2.2zm0.5 13.2h2.2v2.2h-2.2zm-2 5.2h2.2v2.2h-2.2zm1.2 3.6h2.2v2.2h-2.2zm1.6 3.8h2.2v2.2h-2.2zm-0.9 -62.8h2.2v2.2h-2.2zm1.8 8.3h2.2v2.2h-2.2zm-1 4.1h2.2v2.2h-2.2zm0.3 2.5h2.2v2.2h-2.2zm1.5 0.2h2.2v2.2h-2.2zm-0.9 3.9h2.2v2.2h-2.2zm-0.7 0.4h2.2v2.2h-2.2zm-0.2 6.1h2.2v2.2h-2.2zm0.9 17.3h2.2v2.2h-2.2zm1.1 15.8h2.2v2.2h-2.2zm-0.2 5.7h2.2v2.2h-2.2zm-2.2 3.1h2.2v2.2h-2.2zm1.1 4.8h2.2v2.2h-2.2zm2.3 -84.6h2.2v2.2h-2.2zm-0.9 41.7h2.2v2.2h-2.2zm0 4.1h2.2v2.2h-2.2zm0.2 17.7h2.2v2.2h-2.2zm1.5 8.7h2.2v2.2h-2.2zm-2.2 1.8h2.2v2.2h-2.2zm1.1 8h2.2v2.2h-2.2zm-0.3 8.1h2.2v2.2h-2.2zm0.3 0.4h2.2v2.2h-2.2zm2.1 -76h2.2v2.2h-2.2zm-0.8 17.8h2.2v2.2h-2.2zm0.7 42.1h2.2v2.2h-2.2zm-0.9 19.4h2.2v2.2h-2.2zm1.8 -94.3h2.2v2.2h-2.2zm0.3 20.3h2.2v2.2h-2.2zm1.6 6.2h2.2v2.2h-2.2zm-0.1 3h2.2v2.2h-2.2zm0 10.5h2.2v2.2h-2.2zm-1.1 8.9h2.2v2.2h-2.2zm-0.7 12.9h2.2v2.2h-2.2zm0.4 0.4h2.2v2.2h-2.2zm0.8 15.1h2.2v2.2h-2.2zm-0.2 6.4h2.2v2.2h-2.2zm0 15.7h2.2v2.2h-2.2zm0.9 7.9h2.2v2.2h-2.2zm1.5 -103.6h2.2v2.2h-2.2zm-1.4 25.4h2.2v2.2h-2.2zm2.3 6.5h2.2v2.2h-2.2zm-1.3 11.5h2.2v2.2h-2.2zm-1.3 26.5h2.2v2.2h-2.2zm0.6 7.5h2.2v2.2h-2.2zm-0.1 4.6h2.2v2.2h-2.2zm1.9 9.2h2.2v2.2h-2.2zm-0.2 19h2.2v2.2h-2.2zm2.6 -114.7h2.2v2.2h-2.2zm-0.1 32.5h2.2v2.2h-2.2zm-2.1 3.7h2.2v2.2h-2.2zm1.7 28.4h2.2v2.2h-2.2zm-0.4 9.1h2.2v2.2h-2.2zm0.3 1.4h2.2v2.2h-2.2zm-0.1 3.6h2.2v2.2h-2.2zm1.8 -50.3h2.2v2.2h-2.2zm-0.9 15.5h2.2v2.2h-2.2zm1.1 34.5h2.2v2.2h-2.2zm-1.4 1.4h2.2v2.2h-2.2zm1.2 16h2.2v2.2h-2.2zm0.5 14.3h2.2v2.2h-2.2zm1.3 -73.4h2.2v2.2h-2.2zm0 2h2.2v2.2h-2.2zm-0.9 9.9h2.2v2.2h-2.2zm0.9 3.5h2.2v2.2h-2.2zm0.9 0.3h2.2v2.2h-2.2zm-0.2 7.7h2.2v2.2h-2.2zm0.1 4.1h2.2v2.2h-2.2zm-2.3 6.2h2.2v2.2h-2.2zm0.3 5.7h2.2v2.2h-2.2zm0.3 6.7h2.2v2.2h-2.2zm0.2 46.2h2.2v2.2h-2.2zm3.8 -119.6h2.2v2.2h-2.2zm-2.8 23.3h2.2v2.2h-2.2zm1 14.5h2.2v2.2h-2.2zm1.8 10.7h2.2v2.2h-2.2zm-1.1 8.5h2.2v2.2h-2.2zm0.7 8.8h2.2v2.2h-2.2zm-0.5 2.4h2.2v2.2h-2.2zm0.3 4.8h2.2v2.2h-2.2zm-0.7 14.2h2.2v2.2h-2.2zm0.3 3.4h2.2v2.2h-2.2zm1.5 -79.7h2.2v2.2h-2.2zm-0.1 11.8h2.2v2.2h-2.2zm-0.7 4h2.2v2.2h-2.2zm0.7 10.9h2.2v2.2h-2.2zm-0.5 3.3h2.2v2.2h-2.2zm-0.5 11.5h2.2v2.2h-2.2zm1.9 2.7h2.2v2.2h-2.2zm0.4 20.9h2.2v2.2h-2.2zm-1.9 3.2h2.2v2.2h-2.2zm1.4 6.8h2.2v2.2h-2.2zm-1.2 24.3h2.2v2.2h-2.2zm2 2.8h2.2v2.2h-2.2zm-1.6 2.3h2.2v2.2h-2.2zm3 -84.2h2.2v2.2h-2.2zm0.4 1.4h2.2v2.2h-2.2zm-0.9 9.9h2.2v2.2h-2.2zm-0.2 3.6h2.2v2.2h-2.2zm-0.7 4.7h2.2v2.2h-2.2zm0.4 2.8h2.2v2.2h-2.2zm-0.1 6.5h2.2v2.2h-2.2zm0.1 3h2.2v2.2h-2.2zm0.8 5.5h2.2v2.2h-2.2zm0.6 0.9h2.2v2.2h-2.2zm0.1 9h2.2v2.2h-2.2zm-0.1 15.1h2.2v2.2h-2.2zm-1.9 3.3h2.2v2.2h-2.2zm1.7 2.9h2.2v2.2h-2.2zm-1.8 5.2h2.2v2.2h-2.2zm3.2 -70.3h2.2v2.2h-2.2zm-0.4 4.9h2.2v2.2h-2.2zm-0.6 1.2h2.2v2.2h-2.2zm-0.1 13.8h2.2v2.2h-2.2zm0.3 13.4h2.2v2.2h-2.2zm1.3 8.8h2.2v2.2h-2.2zm-0.9 2.8h2.2v2.2h-2.2zm0.9 -31.4h2.2v2.2h-2.2zm0 4.8h2.2v2.2h-2.2zm2.1 3.4h2.2v2.2h-2.2zm-0.5 4.1h2.2v2.2h-2.2zm0.3 8.8h2.2v2.2h-2.2zm0.6 27.5h2.2v2.2h-2.2zm-0.2 25.7h2.2v2.2h-2.2zm0.1 -122.6h2.2v2.2h-2.2zm1.5 15.1h2.2v2.2h-2.2zm-1.9 5.8h2.2v2.2h-2.2zm-0.4 23.6h2.2v2.2h-2.2zm2.6 4.5h2.2v2.2h-2.2zm-1.5 0.4h2.2v2.2h-2.2zm0.5 2h2.2v2.2h-2.2zm1.1 1.1h2.2v2.2h-2.2zm-2.3 5.2h2.2v2.2h-2.2zm0 2.3h2.2v2.2h-2.2zm1.3 5.9h2.2v2.2h-2.2zm-0.6 0.9h2.2v2.2h-2.2zm1.8 3.3h2.2v2.2h-2.2zm-2.6 12.6h2.2v2.2h-2.2zm0.4 18.1h2.2v2.2h-2.2zm4.1 -77.8h2.2v2.2h-2.2zm-2.7 8.8h2.2v2.2h-2.2zm2 11.7h2.2v2.2h-2.2zm-0.5 13.5h2.2v2.2h-2.2zm1.4 4.2h2.2v2.2h-2.2zm-1.6 1.7h2.2v2.2h-2.2zm0.3 5.9h2.2v2.2h-2.2zm-1.2 26.4h2.2v2.2h-2.2zm1.4 5.3h2.2v2.2h-2.2zm2.2 -107.1h2.2v2.2h-2.2zm-0.8 3.4h2.2v2.2h-2.2zm0 29.3h2.2v2.2h-2.2zm-0.2 1.1h2.2v2.2h-2.2zm-0.1 17.5h2.2v2.2h-2.2zm1.5 7.7h2.2v2.2h-2.2zm-0.6 31.6h2.2v2.2h-2.2zm0 1.2h2.2v2.2h-2.2zm0.2 16.4h2.2v2.2h-2.2zm2.3 -106.2h2.2v2.2h-2.2zm-0.5 10.8h2.2v2.2h-2.2zm-1.1 16.7h2.2v2.2h-2.2zm0.8 9.1h2.2v2.2h-2.2zm1.2 12.8h2.2v2.2h-2.2zm-0.9 5.5h2.2v2.2h-2.2zm-0.2 2h2.2v2.2h-2.2zm-1.5 4.4h2.2v2.2h-2.2zm0.9 42.1h2.2v2.2h-2.2zm0.3 1.7h2.2v2.2h-2.2zm1.6 0.3h2.2v2.2h-2.2zm-0.6 17.7h2.2v2.2h-2.2zm1.8 -116h2.2v2.2h-2.2zm-0.9 19.2h2.2v2.2h-2.2zm0.4 15.7h2.2v2.2h-2.2zm-1.5 25.5h2.2v2.2h-2.2zm1.2 6.3h2.2v2.2h-2.2zm0.2 28.8h2.2v2.2h-2.2zm0.5 10.2h2.2v2.2h-2.2zm-1.9 10.4h2.2v2.2h-2.2zm2.1 -74.3h2.2v2.2h-2.2zm1.7 0.5h2.2v2.2h-2.2zm0.8 -16.3h2.2v2.2h-2.2zm0.5 13.9h2.2v2.2h-2.2zm1.4 20.5h2.2v2.2h-2.2zm-2.7 7.7h2.2v2.2h-2.2zm2.6 9.5h2.2v2.2h-2.2zm-0.4 23.3h2.2v2.2h-2.2zm2.6 -74.3h2.2v2.2h-2.2zm-0.7 16.2h2.2v2.2h-2.2zm-2 37.5h2.2v2.2h-2.2zm1.9 4.3h2.2v2.2h-2.2zm1 29.7h2.2v2.2h-2.2zm-0.7 -90.7h2.2v2.2h-2.2zm2.5 17h2.2v2.2h-2.2zm-2.4 23.3h2.2v2.2h-2.2zm2.7 -33.9h2.2v2.2h-2.2zm1.7 14.9h2.2v2.2h-2.2zm-0.6 7.7h2.2v2.2h-2.2zm-1.7 18.5h2.2v2.2h-2.2zm0.8 15.3h2.2v2.2h-2.2zm0 25.7h2.2v2.2h-2.2zm0.8 -95.1h2.2v2.2h-2.2zm2.7 1.9h2.2v2.2h-2.2zm-1.9 79.4h2.2v2.2h-2.2zm-0.9 12.4h2.2v2.2h-2.2zm3.9 -92.3h2.2v2.2h-2.2zm-0.2 10.1h2.2v2.2h-2.2zm-1 10.4h2.2v2.2h-2.2zm1.1 3.2h2.2v2.2h-2.2zm0.3 16.4h2.2v2.2h-2.2zm-0.8 29.9h2.2v2.2h-2.2zm-0.5 7.7h2.2v2.2h-2.2zm-0.3 1.8h2.2v2.2h-2.2zm3.4 -107.3h2.2v2.2h-2.2zm-1.1 61.1h2.2v2.2h-2.2zm1.8 28.4h2.2v2.2h-2.2zm-1.4 16.5h2.2v2.2h-2.2zm0.4 17.3h2.2v2.2h-2.2zm2.9 -87.9h2.2v2.2h-2.2zm-1.8 20.7h2.2v2.2h-2.2zm0.7 3.5h2.2v2.2h-2.2zm-0.6 8h2.2v2.2h-2.2zm1.9 13.7h2.2v2.2h-2.2zm-0.7 7.3h2.2v2.2h-2.2zm-1.7 24.3h2.2v2.2h-2.2zm2.5 16.5h2.2v2.2h-2.2zm0.2 -110.2h2.2v2.2h-2.2zm1.8 33.7h2.2v2.2h-2.2zm0 5.5h2.2v2.2h-2.2zm-2.4 17.9h2.2v2.2h-2.2zm1.9 19.9h2.2v2.2h-2.2zm1.4 -99.4h2.2v2.2h-2.2zm1.3 27.4h2.2v2.2h-2.2zm-1.9 24.3h2.2v2.2h-2.2zm0.2 30.3h2.2v2.2h-2.2zm0.5 16.7h2.2v2.2h-2.2zm-1.6 2h2.2v2.2h-2.2zm1.4 2.5h2.2v2.2h-2.2zm0.8 -97.7h2.2v2.2h-2.2zm0.6 2.9h2.2v2.2h-2.2zm0.9 42.5h2.2v2.2h-2.2zm-1.9 40.4h2.2v2.2h-2.2zm2.9 7.7h2.2v2.2h-2.2zm1.7 -76.4h2.2v2.2h-2.2zm0.2 42.6h2.2v2.2h-2.2zm-1.8 39.3h2.2v2.2h-2.2zm1.5 8.2h2.2v2.2h-2.2zm1.5 -81.8h2.2v2.2h-2.2zm0.7 3.9h2.2v2.2h-2.2zm-1.9 56.4h2.2v2.2h-2.2zm2 -88.4h2.2v2.2h-2.2zm2 28.4h2.2v2.2h-2.2zm-1.6 10.2h2.2v2.2h-2.2zm0.6 21.3h2.2v2.2h-2.2zm-0.6 14.9h2.2v2.2h-2.2zm1 18.9h2.2v2.2h-2.2zm0.1 10.6h2.2v2.2h-2.2zm-0.4 5.6h2.2v2.2h-2.2zm0.8 -76.9h2.2v2.2h-2.2zm1.6 21.6h2.2v2.2h-2.2zm1.5 -18.8h2.2v2.2h-2.2zm-1.7 2h2.2v2.2h-2.2zm2.1 2.6h2.2v2.2h-2.2zm-0.7 6.5h2.2v2.2h-2.2zm-0.1 20.6h2.2v2.2h-2.2zm-0.4 20h2.2v2.2h-2.2zm3.7 -75h2.2v2.2h-2.2zm-1 14.5h2.2v2.2h-2.2zm-1.3 5.1h2.2v2.2h-2.2zm0.7 8.1h2.2v2.2h-2.2zm1.9 2.2h2.2v2.2h-2.2zm-1.3 18.9h2.2v2.2h-2.2zm-0.5 1.7h2.2v2.2h-2.2zm-0.3 18.3h2.2v2.2h-2.2zm0.4 8h2.2v2.2h-2.2zm-1 11.2h2.2v2.2h-2.2zm0.8 7.5h2.2v2.2h-2.2zm3.2 -79.7h2.2v2.2h-2.2zm-0.6 1.7h2.2v2.2h-2.2zm-0.9 20.2h2.2v2.2h-2.2zm1.2 30.1h2.2v2.2h-2.2zm-1.4 35.9h2.2v2.2h-2.2zm3.8 -90.4h2.2v2.2h-2.2zm0.3 8.5h2.2v2.2h-2.2zm-2.5 87.7h2.2v2.2h-2.2zm1.2 6.4h2.2v2.2h-2.2zm2 -128.6h2.2v2.2h-2.2zm0.9 19.9h2.2v2.2h-2.2zm-1.7 31.9h2.2v2.2h-2.2zm0.9 31h2.2v2.2h-2.2zm3 -66.6h2.2v2.2h-2.2zm-1.3 51.8h2.2v2.2h-2.2zm-0.7 40.5h2.2v2.2h-2.2zm2.6 -107.7h2.2v2.2h-2.2zm1.6 38.1h2.2v2.2h-2.2zm-0.2 12h2.2v2.2h-2.2zm-0.4 34h2.2v2.2h-2.2zm-1.1 9.9h2.2v2.2h-2.2z" fill="rgb(212, 56, 61)"/>
<path d="M0 0m334 273.9h2.2v2.2h-2.2zm1.3 12.4h2.2v2.2h-2.2zm-0.6 8.4h2.2v2.2h-2.2zm1.8 -13.1h2.2v2.2h-2.2zm1.3 33.9h2.2v2.2h-2.2zm-0.3 17.5h2.2v2.2h-2.2zm1.9 -82.6h2.2v2.2h-2.2zm0.7 25.2h2.2v2.2h-2.2zm-0.5 16.2h2.2v2.2h-2.2zm0.8 7.6h2.2v2.2h-2.2zm-1.8 33h2.2v2.2h-2.2zm0 1.6h2.2v2.2h-2.2zm1.1 -72.2h2.2v2.2h-2.2zm1.3 24.1h2.2v2.2h-2.2zm-0.8 6.8h2.2v2.2h-2.2zm-0.6 9.3h2.2v2.2h-2.2zm1.8 0.4h2.2v2.2h-2.2zm0.4 14.6h2.2v2.2h-2.2zm0.4 -57.3h2.2v2.2h-2.2zm1.2 26.3h2.2v2.2h-2.2zm-0.4 8.1h2.2v2.2h-2.2zm0.6 3h2.2v2.2h-2.2zm-0.6 6.8h2.2v2.2h-2.2zm1.4 31.8h2.2v2.2h-2.2zm1.8 -61.8h2.2v2.2h-2.2zm-0.3 4.1h2.2v2.2h-2.2zm-2.2 4.9h2.2v2.2h-2.2zm2.3 19.5h2.2v2.2h-2.2zm1.2 -41.7h2.2v2.2h-2.2zm-1.5 16.5h2.2v2.2h-2.2zm1.2 3.1h2.2v2.2h-2.2zm1.5 8.2h2.2v2.2h-2.2zm-1.8 1.7h2.2v2.2h-2.2zm1.4 -0.6h2.2v2.2h-2.2zm-1.9 12h2.2v2.2h-2.2zm1.5 11.6h2.2v2.2h-2.2zm0.1 15.2h2.2v2.2h-2.2zm0.7 -59h2.2v2.2h-2.2zm0.6 0.9h2.2v2.2h-2.2zm-0.3 4.1h2.2v2.2h-2.2zm-0.9 2.7h2.2v2.2h-2.2zm0.4 10.1h2.2v2.2h-2.2zm1.5 14.5h2.2v2.2h-2.2zm0.4 1.8h2.2v2.2h-2.2zm-0.1 11.5h2.2v2.2h-2.2zm-1.9 1.4h2.2v2.2h-2.2zm-0.3 3.9h2.2v2.2h-2.2zm1.4 4.7h2.2v2.2h-2.2zm1.2 -83.7h2.2v2.2h-2.2zm2 22.8h2.2v2.2h-2.2zm-0.4 39.1h2.2v2.2h-2.2zm-2.4 5h2.2v2.2h-2.2zm0.3 15.6h2.2v2.2h-2.2zm4.3 -52.7h2.2v2.2h-2.2zm-1.5 6.6h2.2v2.2h-2.2zm-1 10.5h2.2v2.2h-2.2zm0.4 2.2h2.2v2.2h-2.2zm2.2 15.1h2.2v2.2h-2.2zm-2.7 2.3h2.2v2.2h-2.2zm1.1 13.1h2.2v2.2h-2.2zm-0.2 3.2h2.2v2.2h-2.2zm3.4 -67.3h2.2v2.2h-2.2zm-1.7 15h2.2v2.2h-2.2zm-0.5 1.2h2.2v2.2h-2.2zm-0.1 6.8h2.2v2.2h-2.2zm0.1 5.6h2.2v2.2h-2.2zm2.6 4h2.2v2.2h-2.2zm0.2 4.7h2.2v2.2h-2.2zm-0.4 2.2h2.2v2.2h-2.2zm-0.1 2h2.2v2.2h-2.2zm0.4 9.2h2.2v2.2h-2.2zm-2.4 4.2h2.2v2.2h-2.2zm-0.2 0.8h2.2v2.2h-2.2zm1.9 52.6h2.2v2.2h-2.2zm0.9 -102.4h2.2v2.2h-2.2zm-0.7 27.8h2.2v2.2h-2.2zm-0.4 4h2.2v2.2h-2.2zm1.5 8.8h2.2v2.2h-2.2zm0.2 5.2h2.2v2.2h-2.2zm-0.4 6.9h2.2v2.2h-2.2zm0.8 12.6h2.2v2.2h-2.2zm2.6 -84.5h2.2v2.2h-2.2zm-1.5 19.2h2.2v2.2h-2.2zm0.8 1.3h2.2v2.2h-2.2zm0.4 9.8h2.2v2.2h-2.2zm-2.4 26h2.2v2.2h-2.2zm0.9 6h2.2v2.2h-2.2zm-0.1 16.8h2.2v2.2h-2.2zm1.9 4.9h2.2v2.2h-2.2zm1.6 -78.8h2.2v2.2h-2.2zm-0.2 20.6h2.2v2.2h-2.2zm0.4 1h2.2v2.2h-2.2zm-1.7 7.4h2.2v2.2h-2.2zm1.8 18.8h2.2v2.2h-2.2zm-2.2 2.4h2.2v2.2h-2.2zm1.7 2h2.2v2.2h-2.2zm0.9 15.5h2.2v2.2h-2.2zm-0.6 20.5h2.2v2.2h-2.2zm-0.4 -93.2h2.2v2.2h-2.2zm0.6 3.1h2.2v2.2h-2.2zm0.5 1h2.2v2.2h-2.2zm0.2 18.3h2.2v2.2h-2.2zm-0.5 8.1h2.2v2.2h-2.2zm0.8 11.2h2.2v2.2h-2.2zm1.1 4.1h2.2v2.2h-2.2zm-2 26.6h2.2v2.2h-2.2zm2.2 36h2.2v2.2h-2.2zm2.1 -105.2h2.2v2.2h-2.2zm-2.8 13.3h2.2v2.2h-2.2zm2.2 13.3h2.2v2.2h-2.2zm-0.4 1.8h2.2v2.2h-2.2zm0 12.3h2.2v2.2h-2.2zm-1.3 8.5h2.2v2.2h-2.2zm0.6 5.9h2.2v2.2h-2.2zm-0.4 8.3h2.2v2.2h-2.2zm1.2 12.2h2.2v2.2h-2.2zm-0.7 39.6h2.2v2.2h-2.2zm0.9 -114.4h2.2v2.2h-2.2zm1.9 12.2h2.2v2.2h-2.2zm0.7 1.9h2.2v2.2h-2.2zm-0.4 10.3h2.2v2.2h-2.2zm-0.7 2.1h2.2v2.2h-2.2zm0.9 7.6h2.2v2.2h-2.2zm-0.3 2.5h2.2v2.2h-2.2zm1.6 -31.8h2.2v2.2h-2.2zm-0.9 7.7h2.2v2.2h-2.2zm1.4 7.8h2.2v2.2h-2.2zm-2.3 3.9h2.2v2.2h-2.2zm0.5 -0.2h2.2v2.2h-2.2zm1.5 8.4h2.2v2.2h-2.2zm-2.1 5.5h2.2v2.2h-2.2zm0.4 1.7h2.2v2.2h-2.2zm0.3 2.9h2.2v2.2h-2.2zm-0.3 14.4h2.2v2.2h-2.2zm1 15.7h2.2v2.2h-2.2zm-1.1 35.6h2.2v2.2h-2.2zm2.2 8.9h2.2v2.2h-2.2zm-1.2 5.2h2.2v2.2h-2.2zm3.5 -117.8h2.2v2.2h-2.2zm-0.2 13.1h2.2v2.2h-2.2zm-2.5 8.7h2.2v2.2h-2.2zm0.1 1.7h2.2v2.2h-2.2zm2.7 3.7h2.2v2.2h-2.2zm-1.3 1.2h2.2v2.2h-2.2zm-1.5 17.1h2.2v2.2h-2.2zm0.5 23h2.2v2.2h-2.2zm2.1 3.1h2.2v2.2h-2.2zm0.8 -82.3h2.2v2.2h-2.2zm-0.5 14.4h2.2v2.2h-2.2zm0.7 13.3h2.2v2.2h-2.2zm-1.4 2.9h2.2v2.2h-2.2zm-0.1 14.2h2.2v2.2h-2.2zm1.2 10.1h2.2v2.2h-2.2zm0.3 4.8h2.2v2.2h-2.2zm0.1 18.4h2.2v2.2h-2.2zm-0.4 5.7h2.2v2.2h-2.2zm2.3 -79.9h2.2v2.2h-2.2zm-0.4 11.7h2.2v2.2h-2.2zm-1.3 4.7h2.2v2.2h-2.2zm0.2 10.5h2.2v2.2h-2.2zm1.2 2h2.2v2.2h-2.2zm-0.8 3.2h2.2v2.2h-2.2zm0.4 39.3h2.2v2.2h-2.2zm-1 6h2.2v2.2h-2.2zm0.1 11.5h2.2v2.2h-2.2zm4.1 -89.8h2.2v2.2h-2.2zm0.6 22.1h2.2v2.2h-2.2zm-0.2 1.3h2.2v2.2h-2.2zm-0.3 3.7h2.2v2.2h-2.2zm-1.8 4h2.2v2.2h-2.2zm0.9 14.9h2.2v2.2h-2.2zm0.3 9.7h2.2v2.2h-2.2zm-0.6 13.6h2.2v2.2h-2.2zm3.4 -56.4h2.2v2.2h-2.2zm-1.7 13.6h2.2v2.2h-2.2zm0 26h2.2v2.2h-2.2zm-0.2 12.6h2.2v2.2h-2.2zm-0.7 15.2h2.2v2.2h-2.2zm2.3 6.4h2.2v2.2h-2.2zm-0.8 23.1h2.2v2.2h-2.2zm2.2 -119.4h2.2v2.2h-2.2zm0.1 24.9h2.2v2.2h-2.2zm-1.4 22.7h2.2v2.2h-2.2zm-0.2 6h2.2v2.2h-2.2zm2.7 1.5h2.2v2.2h-2.2zm-1.4 1h2.2v2.2h-2.2zm-0.6 8.9h2.2v2.2h-2.2zm1.3 5.9h2.2v2.2h-2.2zm-1.8 13h2.2v2.2h-2.2zm0.7 5.6h2.2v2.2h-2.2zm3.4 -46.8h2.2v2.2h-2.2zm-0.9 18.3h2.2v2.2h-2.2zm-1.3 2.2h2.2v2.2h-2.2zm0.1 5.7h2.2v2.2h-2.2zm2 2.7h2.2v2.2h-2.2zm0.4 -52.5h2.2v2.2h-2.2zm1.2 40.6h2.2v2.2h-2.2zm-0.1 19.7h2.2v2.2h-2.2zm-1.8 0.5h2.2v2.2h-2.2zm4.5 -48.6h2.2v2.2h-2.2zm-2 7.7h2.2v2.2h-2.2zm1.7 19.2h2.2v2.2h-2.2zm-0.6 3.7h2.2v2.2h-2.2zm0.6 1.4h2.2v2.2h-2.2zm0.7 5.7h2.2v2.2h-2.2zm-1.5 3.8h2.2v2.2h-2.2zm-0.2 13.5h2.2v2.2h-2.2zm0.6 2.1h2.2v2.2h-2.2zm0.9 5.3h2.2v2.2h-2.2zm-2.5 3.5h2.2v2.2h-2.2zm3.6 -85.7h2.2v2.2h-2.2zm-1.8 26.6h2.2v2.2h-2.2zm1.4 5.6h2.2v2.2h-2.2zm0.4 3h2.2v2.2h-2.2zm-1.6 18h2.2v2.2h-2.2zm0.1 14.5h2.2v2.2h-2.2zm1.3 2.3h2.2v2.2h-2.2zm0.3 48.1h2.2v2.2h-2.2zm2 -122.8h2.2v2.2h-2.2zm-0.4 23.2h2.2v2.2h-2.2zm-1.2 2.1h2.2v2.2h-2.2zm0.8 8.1h2.2v2.2h-2.2zm1 2.5h2.2v2.2h-2.2zm-0.6 4.7h2.2v2.2h-2.2zm0.6 5.2h2.2v2.2h-2.2zm-1.7 4.4h2.2v2.2h-2.2zm-0.2 9.9h2.2v2.2h-2.2zm0.1 3.8h2.2v2.2h-2.2zm1.7 21.4h2.2v2.2h-2.2zm0.7 29.5h2.2v2.2h-2.2zm0.5 -110.3h2.2v2.2h-2.2zm0.3 15.2h2.2v2.2h-2.2zm0.6 1.9h2.2v2.2h-2.2zm-0.4 0.7h2.2v2.2h-2.2zm-0.4 9.1h2.2v2.2h-2.2zm-0.9 1.3h2.2v2.2h-2.2zm0.1 3.2h2.2v2.2h-2.2zm2.2 10.6h2.2v2.2h-2.2zm-1.2 -0.2h2.2v2.2h-2.2zm-0.4 9.7h2.2v2.2h-2.2zm1.1 -0.2h2.2v2.2h-2.2zm-0.7 4.1h2.2v2.2h-2.2zm-0.8 3.7h2.2v2.2h-2.2zm1.4 3h2.2v2.2h-2.2zm-0.3 1.5h2.2v2.2h-2.2zm2.7 -36.8h2.2v2.2h-2.2zm-0.6 0.9h2.2v2.2h-2.2zm0.6 10h2.2v2.2h-2.2zm-1.6 6.1h2.2v2.2h-2.2zm-0.3 15.6h2.2v2.2h-2.2zm-0.2 4.7h2.2v2.2h-2.2zm0.4 2.1h2.2v2.2h-2.2zm1.3 4.6h2.2v2.2h-2.2zm-1.6 1.3h2.2v2.2h-2.2zm1.5 7.2h2.2v2.2h-2.2zm0 -48.1h2.2v2.2h-2.2zm2.3 5.6h2.2v2.2h-2.2zm0.4 2.4h2.2v2.2h-2.2zm-0.4 14.5h2.2v2.2h-2.2zm0 10.6h2.2v2.2h-2.2zm-1 13.9h2.2v2.2h-2.2zm0.2 3.4h2.2v2.2h-2.2zm-1.3 10.5h2.2v2.2h-2.2zm3.6 -70.6h2.2v2.2h-2.2zm0.8 8h2.2v2.2h-2.2zm-2.6 14h2.2v2.2h-2.2zm0.9 -0.2h2.2v2.2h-2.2zm-1 19.1h2.2v2.2h-2.2zm1.3 14.7h2.2v2.2h-2.2zm0.5 47.4h2.2v2.2h-2.2zm2.7 -96.3h2.2v2.2h-2.2zm-0.3 3.9h2.2v2.2h-2.2zm0.3 13.3h2.2v2.2h-2.2zm-1.2 2.4h2.2v2.2h-2.2zm0.4 3.7h2.2v2.2h-2.2zm-0.1 5.2h2.2v2.2h-2.2zm-1.6 2.2h2.2v2.2h-2.2zm1.4 2.9h2.2v2.2h-2.2zm0.7 14.8h2.2v2.2h-2.2zm-1 1.6h2.2v2.2h-2.2zm2.6 -57.1h2.2v2.2h-2.2zm0.5 2.5h2.2v2.2h-2.2zm-1.7 1.1h2.2v2.2h-2.2zm2.4 17.3h2.2v2.2h-2.2zm-2 3.4h2.2v2.2h-2.2zm0.1 13.5h2.2v2.2h-2.2zm-1 11.3h2.2v2.2h-2.2zm4.2 -36.5h2.2v2.2h-2.2zm-1.2 9.7h2.2v2.2h-2.2zm1.2 18h2.2v2.2h-2.2zm0.6 4.4h2.2v2.2h-2.2zm1.7 -45.8h2.2v2.2h-2.2zm0 24.2h2.2v2.2h-2.2zm-0.8 1.7h2.2v2.2h-2.2zm0.2 1.9h2.2v2.2h-2.2zm-0.1 11.1h2.2v2.2h-2.2zm0.9 52.8h2.2v2.2h-2.2zm1.2 -91.1h2.2v2.2h-2.2zm-1.9 11.5h2.2v2.2h-2.2zm0 8.1h2.2v2.2h-2.2zm1.2 41.8h2.2v2.2h-2.2zm1.6 6.4h2.2v2.2h-2.2zm0.6 -59.2h2.2v2.2h-2.2zm0.4 1.1h2.2v2.2h-2.2zm0.6 21.6h2.2v2.2h-2.2zm-1.6 14h2.2v2.2h-2.2zm0.1 20.8h2.2v2.2h-2.2zm1.5 -50.9h2.2v2.2h-2.2zm-0.4 2.5h2.2v2.2h-2.2zm1.9 1.2h2.2v2.2h-2.2zm-0.4 4.1h2.2v2.2h-2.2zm-1.3 19.1h2.2v2.2h-2.2zm1.3 9.4h2.2v2.2h-2.2zm1.3 32.1h2.2v2.2h-2.2zm1.1 -109.1h2.2v2.2h-2.2zm-1.8 13.1h2.2v2.2h-2.2zm1.1 23.2h2.2v2.2h-2.2zm0.8 4.5h2.2v2.2h-2.2zm-0.2 8h2.2v2.2h-2.2zm-0.1 52.9h2.2v2.2h-2.2zm-0.3 13.3h2.2v2.2h-2.2zm2.6 -82.1h2.2v2.2h-2.2zm-1.8 7.8h2.2v2.2h-2.2zm0.4 2.5h2.2v2.2h-2.2zm0.9 3.1h2.2v2.2h-2.2zm-1.2 4.4h2.2v2.2h-2.2zm2 70.6h2.2v2.2h-2.2zm0.6 -77.7h2.2v2.2h-2.2zm2.7 -3h2.2v2.2h-2.2zm1.3 29.6h2.2v2.2h-2.2zm-0.6 -75.5h2.2v2.2h-2.2zm0.7 47.9h2.2v2.2h-2.2zm-0.5 16.8h2.2v2.2h-2.2zm1.1 10.9h2.2v2.2h-2.2zm1.9 -69.9h2.2v2.2h-2.2zm0.1 59.4h2.2v2.2h-2.2zm0.6 -3.8h2.2v2.2h-2.2zm4.7 -12.6h2.2v2.2h-2.2zm-2 65.5h2.2v2.2h-2.2zm3.9 -109h2.2v2.2h-2.2zm-0.3 19h2.2v2.2h-2.2zm0.2 15h2.2v2.2h-2.2zm-0.4 90.8h2.2v2.2h-2.2zm2.2 -107.1h2.2v2.2h-2.2zm0 79.9h2.2v2.2h-2.2zm1.6 -95.5h2.2v2.2h-2.2zm0.6 24.8h2.2v2.2h-2.2zm4 32.4h2.2v2.2h-2.2zm-0.2 31.8h2.2v2.2h-2.2zm-1.2 7.2h2.2v2.2h-2.2zm7.5 -52.3h2.2v2.2h-2.2zm-0.2 50.8h2.2v2.2h-2.2zm-0.2 29.8h2.2v2.2h-2.2zm0.3 -110.1h2.2v2.2h-2.2zm0.6 13.7h2.2v2.2h-2.2zm0 9h2.2v2.2h-2.2zm-1 11.1h2.2v2.2h-2.2zm2.2 -37.8h2.2v2.2h-2.2zm0.7 82.9h2.2v2.2h-2.2zm2.9 5h2.2v2.2h-2.2zm1.3 -59.2h2.2v2.2h-2.2zm-0.5 75.2h2.2v2.2h-2.2zm0.3 10.4h2.2v2.2h-2.2zm2.2 -103.5h2.2v2.2h-2.2zm-0.6 57.5h2.2v2.2h-2.2zm3.4 -21.6h2.2v2.2h-2.2zm-0.1 7.9h2.2v2.2h-2.2zm1.4 39.5h2.2v2.2h-2.2zm2.4 -58.3h2.2v2.2h-2.2zm0.2 8.4h2.2v2.2h-2.2zm4.1 -41.3h2.2v2.2h-2.2zm0.3 19.7h2.2v2.2h-2.2zm-0.6 75.4h2.2v2.2h-2.2zm-0.1 2.1h2.2v2.2h-2.2zm3 -82.3h2.2v2.2h-2.2zm-2 42h2.2v2.2h-2.2zm4.1 -22.8h2.2v2.2h-2.2z" fill="rgb(189, 37, 62)"/>
<path d="M0 0m336.4 326.8h2.2v2.2h-2.2zm0.6 -74.3h2.2v2.2h-2.2zm0.7 66.9h2.2v2.2h-2.2zm-2.1 35.5h2.2v2.2h-2.2zm2.1 -35.2h2.2v2.2h-2.2zm4.3 -29.7h2.2v2.2h-2.2zm-2.4 9.2h2.2v2.2h-2.2zm2.5 -17.4h2.2v2.2h-2.2zm0.3 4h2.2v2.2h-2.2zm1.6 18.5h2.2v2.2h-2.2zm1.4 -52.3h2.2v2.2h-2.2zm0.4 23.5h2.2v2.2h-2.2zm-0.1 3.3h2.2v2.2h-2.2zm-0.3 12.6h2.2v2.2h-2.2zm-0.1 2.1h2.2v2.2h-2.2zm0.2 14.4h2.2v2.2h-2.2zm1.3 -2.1h2.2v2.2h-2.2zm1.8 -20.5h2.2v2.2h-2.2zm-0.9 6.8h2.2v2.2h-2.2zm0.5 4.3h2.2v2.2h-2.2zm1.8 3.6h2.2v2.2h-2.2zm-2.4 50.7h2.2v2.2h-2.2zm2.8 -74h2.2v2.2h-2.2zm0.8 3.9h2.2v2.2h-2.2zm0.5 3.7h2.2v2.2h-2.2zm0.5 3.5h2.2v2.2h-2.2zm-2 6.2h2.2v2.2h-2.2zm1.2 0h2.2v2.2h-2.2zm0.2 1.6h2.2v2.2h-2.2zm-1.2 5.8h2.2v2.2h-2.2zm1.4 5h2.2v2.2h-2.2zm0.1 3.7h2.2v2.2h-2.2zm0.1 4.2h2.2v2.2h-2.2zm0.3 3.3h2.2v2.2h-2.2zm-2.2 37.5h2.2v2.2h-2.2zm4 -82.8h2.2v2.2h-2.2zm-1.1 2.9h2.2v2.2h-2.2zm1 9.5h2.2v2.2h-2.2zm-0.2 1.2h2.2v2.2h-2.2zm-0.1 10.6h2.2v2.2h-2.2zm0.6 5.2h2.2v2.2h-2.2zm-1.2 2.2h2.2v2.2h-2.2zm0.9 3.3h2.2v2.2h-2.2zm-2 9.8h2.2v2.2h-2.2zm2.1 6.3h2.2v2.2h-2.2zm-0.9 13.8h2.2v2.2h-2.2zm1.7 -72.8h2.2v2.2h-2.2zm1.4 1.6h2.2v2.2h-2.2zm-0.6 12.4h2.2v2.2h-2.2zm-0.3 2.2h2.2v2.2h-2.2zm-0.5 2h2.2v2.2h-2.2zm0.9 10.9h2.2v2.2h-2.2zm-1.8 8.1h2.2v2.2h-2.2zm0.9 1.7h2.2v2.2h-2.2zm1.4 41.1h2.2v2.2h-2.2zm2 -80.2h2.2v2.2h-2.2zm-1.4 8.8h2.2v2.2h-2.2zm0.9 8.9h2.2v2.2h-2.2zm0.2 0h2.2v2.2h-2.2zm-0.2 3.4h2.2v2.2h-2.2zm-0.9 0.5h2.2v2.2h-2.2zm-0.1 3.6h2.2v2.2h-2.2zm-0.5 6.8h2.2v2.2h-2.2zm0.7 0.7h2.2v2.2h-2.2zm0.9 3.3h2.2v2.2h-2.2zm0 4h2.2v2.2h-2.2zm-0.3 7.8h2.2v2.2h-2.2zm2.9 -42h2.2v2.2h-2.2zm-1.5 1.9h2.2v2.2h-2.2zm-1.1 8.2h2.2v2.2h-2.2zm0.9 4h2.2v2.2h-2.2zm-1 4.4h2.2v2.2h-2.2zm0.4 2.6h2.2v2.2h-2.2zm1.3 5.3h2.2v2.2h-2.2zm-0.2 3.7h2.2v2.2h-2.2zm-0.7 6h2.2v2.2h-2.2zm0.9 3.9h2.2v2.2h-2.2zm0 -0.3h2.2v2.2h-2.2zm0.7 5.7h2.2v2.2h-2.2zm0.1 5.6h2.2v2.2h-2.2zm-1.9 37.7h2.2v2.2h-2.2zm3.6 -82.1h2.2v2.2h-2.2zm-0.8 5.4h2.2v2.2h-2.2zm-1 1.5h2.2v2.2h-2.2zm0.3 1.8h2.2v2.2h-2.2zm1.5 2.7h2.2v2.2h-2.2zm-2.4 1.9h2.2v2.2h-2.2zm0.1 1.6h2.2v2.2h-2.2zm2.7 5.1h2.2v2.2h-2.2zm-2.1 5.6h2.2v2.2h-2.2zm0.7 2.7h2.2v2.2h-2.2zm-0.7 2.4h2.2v2.2h-2.2zm2.1 2.5h2.2v2.2h-2.2zm-2.6 10.1h2.2v2.2h-2.2zm2.7 4.4h2.2v2.2h-2.2zm1.5 -60.5h2.2v2.2h-2.2zm0.2 14.6h2.2v2.2h-2.2zm-0.4 1.5h2.2v2.2h-2.2zm0.5 6.9h2.2v2.2h-2.2zm-2.3 6.1h2.2v2.2h-2.2zm1.6 2.9h2.2v2.2h-2.2zm-1.9 6h2.2v2.2h-2.2zm0.1 3.3h2.2v2.2h-2.2zm1.8 1.3h2.2v2.2h-2.2zm-0.8 5.4h2.2v2.2h-2.2zm1.2 -0.1h2.2v2.2h-2.2zm-0.3 44.1h2.2v2.2h-2.2zm1 -91.5h2.2v2.2h-2.2zm-1 4h2.2v2.2h-2.2zm1.1 2.9h2.2v2.2h-2.2zm1.4 7.3h2.2v2.2h-2.2zm-1 -0.4h2.2v2.2h-2.2zm-1.5 5.7h2.2v2.2h-2.2zm1.2 1.8h2.2v2.2h-2.2zm-0.9 4.9h2.2v2.2h-2.2zm2.4 3.8h2.2v2.2h-2.2zm-0.9 1.6h2.2v2.2h-2.2zm-0.8 3h2.2v2.2h-2.2zm-1.1 6.7h2.2v2.2h-2.2zm2.2 2.5h2.2v2.2h-2.2zm-0.4 1.6h2.2v2.2h-2.2zm-0.1 4.4h2.2v2.2h-2.2zm-1 1.7h2.2v2.2h-2.2zm3.1 -77.4h2.2v2.2h-2.2zm-0.9 29.8h2.2v2.2h-2.2zm0 7.9h2.2v2.2h-2.2zm-0.7 2.2h2.2v2.2h-2.2zm2.5 5.7h2.2v2.2h-2.2zm-1.7 4.1h2.2v2.2h-2.2zm1.4 0.5h2.2v2.2h-2.2zm0 3.6h2.2v2.2h-2.2zm-0.5 1.4h2.2v2.2h-2.2zm0.3 4.6h2.2v2.2h-2.2zm-1.3 0.1h2.2v2.2h-2.2zm1.4 2h2.2v2.2h-2.2zm-2.2 3.5h2.2v2.2h-2.2zm2.2 2.7h2.2v2.2h-2.2zm-1.5 3.7h2.2v2.2h-2.2zm-0.6 1.2h2.2v2.2h-2.2zm0.1 6.9h2.2v2.2h-2.2zm3.2 -51.9h2.2v2.2h-2.2zm1.1 10h2.2v2.2h-2.2zm0.1 -0.5h2.2v2.2h-2.2zm-2.5 6.3h2.2v2.2h-2.2zm2.6 6.5h2.2v2.2h-2.2zm0.1 5h2.2v2.2h-2.2zm-1.9 2.1h2.2v2.2h-2.2zm0.5 1.8h2.2v2.2h-2.2zm0.1 1.4h2.2v2.2h-2.2zm1 4.3h2.2v2.2h-2.2zm-0.3 12.7h2.2v2.2h-2.2zm-0.6 2.1h2.2v2.2h-2.2zm2.3 -57.7h2.2v2.2h-2.2zm-2.1 5.8h2.2v2.2h-2.2zm2.8 2.2h2.2v2.2h-2.2zm-1.3 2.2h2.2v2.2h-2.2zm0.5 7.9h2.2v2.2h-2.2zm-1.2 3.5h2.2v2.2h-2.2zm1.6 2.1h2.2v2.2h-2.2zm-1.1 4.2h2.2v2.2h-2.2zm-0.6 3.8h2.2v2.2h-2.2zm0.5 0.5h2.2v2.2h-2.2zm-0.5 3h2.2v2.2h-2.2zm0.6 4.9h2.2v2.2h-2.2zm1.5 1.8h2.2v2.2h-2.2zm-0.1 3.4h2.2v2.2h-2.2zm-2.2 0h2.2v2.2h-2.2zm0 3.8h2.2v2.2h-2.2zm1 1.1h2.2v2.2h-2.2zm0 1.5h2.2v2.2h-2.2zm-0.3 4.1h2.2v2.2h-2.2zm0.1 5.9h2.2v2.2h-2.2zm2 -67.9h2.2v2.2h-2.2zm0.7 9.3h2.2v2.2h-2.2zm-0.1 7.9h2.2v2.2h-2.2zm0.8 2.5h2.2v2.2h-2.2zm-2 4.3h2.2v2.2h-2.2zm-0.6 1.8h2.2v2.2h-2.2zm1 2.3h2.2v2.2h-2.2zm0.2 8.3h2.2v2.2h-2.2zm-1.3 -0.7h2.2v2.2h-2.2zm2.6 8.8h2.2v2.2h-2.2zm-1.5 3.2h2.2v2.2h-2.2zm0.2 6.6h2.2v2.2h-2.2zm-0.6 8h2.2v2.2h-2.2zm2.8 -56.4h2.2v2.2h-2.2zm-0.4 6.9h2.2v2.2h-2.2zm-0.6 2.3h2.2v2.2h-2.2zm-0.2 2.8h2.2v2.2h-2.2zm2.1 5.7h2.2v2.2h-2.2zm-0.1 4.8h2.2v2.2h-2.2zm-1.4 1.2h2.2v2.2h-2.2zm0.5 4.3h2.2v2.2h-2.2zm-1.4 9.4h2.2v2.2h-2.2zm2.5 1.5h2.2v2.2h-2.2zm-0.3 1.2h2.2v2.2h-2.2zm-0.2 3.4h2.2v2.2h-2.2zm-0.2 1h2.2v2.2h-2.2zm0.2 1.9h2.2v2.2h-2.2zm-1.8 5.9h2.2v2.2h-2.2zm0.3 0.4h2.2v2.2h-2.2zm1.1 14.1h2.2v2.2h-2.2zm2.3 -43.3h2.2v2.2h-2.2zm-1.6 3.9h2.2v2.2h-2.2zm0.4 2.2h2.2v2.2h-2.2zm2.3 3.2h2.2v2.2h-2.2zm-1.8 7.2h2.2v2.2h-2.2zm0.7 3h2.2v2.2h-2.2zm-1.7 3.8h2.2v2.2h-2.2zm1.9 3.6h2.2v2.2h-2.2zm0.3 6.9h2.2v2.2h-2.2zm0.6 2.5h2.2v2.2h-2.2zm-0.3 2.4h2.2v2.2h-2.2zm0.4 -61.9h2.2v2.2h-2.2zm1.1 10h2.2v2.2h-2.2zm0.5 3.9h2.2v2.2h-2.2zm-1.3 2.2h2.2v2.2h-2.2zm1.2 0.3h2.2v2.2h-2.2zm-2.5 3.3h2.2v2.2h-2.2zm1.1 2.1h2.2v2.2h-2.2zm0 5.1h2.2v2.2h-2.2zm-0.1 5.6h2.2v2.2h-2.2zm1.8 6.4h2.2v2.2h-2.2zm-1.9 2.6h2.2v2.2h-2.2zm-0.9 1.9h2.2v2.2h-2.2zm2 2.9h2.2v2.2h-2.2zm-0.2 5.7h2.2v2.2h-2.2zm-1.2 1.8h2.2v2.2h-2.2zm1.4 2.4h2.2v2.2h-2.2zm0.8 5h2.2v2.2h-2.2zm0.3 -55.7h2.2v2.2h-2.2zm1.2 1.1h2.2v2.2h-2.2zm-1.5 2.2h2.2v2.2h-2.2zm1.7 2.4h2.2v2.2h-2.2zm0.3 2.8h2.2v2.2h-2.2zm-1.6 3h2.2v2.2h-2.2zm-0.9 7.4h2.2v2.2h-2.2zm1.1 9.2h2.2v2.2h-2.2zm-0.7 0.3h2.2v2.2h-2.2zm1.1 3h2.2v2.2h-2.2zm-0.4 6.9h2.2v2.2h-2.2zm0.2 3.2h2.2v2.2h-2.2zm-1.2 1.2h2.2v2.2h-2.2zm2.5 -52.9h2.2v2.2h-2.2zm-0.2 4.4h2.2v2.2h-2.2zm1.9 0.4h2.2v2.2h-2.2zm-2.1 3.5h2.2v2.2h-2.2zm2.1 13h2.2v2.2h-2.2zm-0.4 3h2.2v2.2h-2.2zm0.3 3.7h2.2v2.2h-2.2zm-1.4 0.4h2.2v2.2h-2.2zm-0.2 1.9h2.2v2.2h-2.2zm0.2 3.3h2.2v2.2h-2.2zm0 2.7h2.2v2.2h-2.2zm1.4 2.4h2.2v2.2h-2.2zm-1.4 4.8h2.2v2.2h-2.2zm1.2 3h2.2v2.2h-2.2zm0.2 6.5h2.2v2.2h-2.2zm-1.4 3.5h2.2v2.2h-2.2zm-0.3 1.7h2.2v2.2h-2.2zm1.5 3.3h2.2v2.2h-2.2zm-1 13.2h2.2v2.2h-2.2zm-1.3 13.6h2.2v2.2h-2.2zm4.8 -97.6h2.2v2.2h-2.2zm-2.5 13.4h2.2v2.2h-2.2zm1.3 10.2h2.2v2.2h-2.2zm-1.7 3.9h2.2v2.2h-2.2zm0.4 2.5h2.2v2.2h-2.2zm1.4 4.3h2.2v2.2h-2.2zm0 3.8h2.2v2.2h-2.2zm-1.6 1.2h2.2v2.2h-2.2zm2.8 0.9h2.2v2.2h-2.2zm-0.6 3.6h2.2v2.2h-2.2zm-0.5 2.8h2.2v2.2h-2.2zm-0.1 5.9h2.2v2.2h-2.2zm-0.4 2.3h2.2v2.2h-2.2zm-0.5 9.8h2.2v2.2h-2.2zm0.7 6.5h2.2v2.2h-2.2zm1.3 1.2h2.2v2.2h-2.2zm-1.6 10.2h2.2v2.2h-2.2zm3.1 -86.2h2.2v2.2h-2.2zm-1.8 15.4h2.2v2.2h-2.2zm1.9 12h2.2v2.2h-2.2zm-0.9 8.1h2.2v2.2h-2.2zm-1 1h2.2v2.2h-2.2zm-0.4 1.5h2.2v2.2h-2.2zm1.8 1.2h2.2v2.2h-2.2zm-1.9 2h2.2v2.2h-2.2zm1.7 1.9h2.2v2.2h-2.2zm0.1 10.7h2.2v2.2h-2.2zm0.9 8.4h2.2v2.2h-2.2zm-2.4 6.8h2.2v2.2h-2.2zm3 -36.2h2.2v2.2h-2.2zm1.1 6.8h2.2v2.2h-2.2zm-1.4 5.7h2.2v2.2h-2.2zm0.7 -0.1h2.2v2.2h-2.2zm0.1 3.4h2.2v2.2h-2.2zm-0.5 5.1h2.2v2.2h-2.2zm-1.4 0.3h2.2v2.2h-2.2zm1.4 3.7h2.2v2.2h-2.2zm1.1 5h2.2v2.2h-2.2zm-0.9 0.7h2.2v2.2h-2.2zm0.4 15.4h2.2v2.2h-2.2zm0.9 -62.9h2.2v2.2h-2.2zm-0.7 0h2.2v2.2h-2.2zm1 3.6h2.2v2.2h-2.2zm-1.1 9.3h2.2v2.2h-2.2zm2.2 1.4h2.2v2.2h-2.2zm-1.9 4.3h2.2v2.2h-2.2zm0 11h2.2v2.2h-2.2zm1.6 2.4h2.2v2.2h-2.2zm-0.3 3.8h2.2v2.2h-2.2zm-1.4 4.3h2.2v2.2h-2.2zm2.6 9.8h2.2v2.2h-2.2zm-1 15.2h2.2v2.2h-2.2zm0.8 -64.3h2.2v2.2h-2.2zm-0.5 7.5h2.2v2.2h-2.2zm2.8 9.8h2.2v2.2h-2.2zm-2.5 5.2h2.2v2.2h-2.2zm-0.2 1.1h2.2v2.2h-2.2zm1.9 2.1h2.2v2.2h-2.2zm-0.4 5.5h2.2v2.2h-2.2zm-0.1 3.5h2.2v2.2h-2.2zm0.2 0.2h2.2v2.2h-2.2zm0.3 7.5h2.2v2.2h-2.2zm0.5 4.9h2.2v2.2h-2.2zm-2.5 9.4h2.2v2.2h-2.2zm0.7 1.6h2.2v2.2h-2.2zm1.2 3.3h2.2v2.2h-2.2zm0 -66.5h2.2v2.2h-2.2zm2 7h2.2v2.2h-2.2zm-0.6 4.7h2.2v2.2h-2.2zm0 10.3h2.2v2.2h-2.2zm-0.3 8.2h2.2v2.2h-2.2zm1 3.6h2.2v2.2h-2.2zm-1 4h2.2v2.2h-2.2zm-0.2 1.4h2.2v2.2h-2.2zm-0.6 9.7h2.2v2.2h-2.2zm2 2.4h2.2v2.2h-2.2zm0 6.1h2.2v2.2h-2.2zm-1.9 9.9h2.2v2.2h-2.2zm2.6 -49.6h2.2v2.2h-2.2zm1.8 8.4h2.2v2.2h-2.2zm0 8.1h2.2v2.2h-2.2zm-1.1 1.6h2.2v2.2h-2.2zm0.1 4.1h2.2v2.2h-2.2zm-0.3 2.2h2.2v2.2h-2.2zm-0.2 7.9h2.2v2.2h-2.2zm-0.2 0.6h2.2v2.2h-2.2zm-0.7 3.1h2.2v2.2h-2.2zm0.1 0.8h2.2v2.2h-2.2zm1.4 7.3h2.2v2.2h-2.2zm-1.6 4.2h2.2v2.2h-2.2zm4.4 -46h2.2v2.2h-2.2zm-2.5 4h2.2v2.2h-2.2zm1.9 4h2.2v2.2h-2.2zm-0.9 1h2.2v2.2h-2.2zm1.4 0.5h2.2v2.2h-2.2zm0 3.7h2.2v2.2h-2.2zm0.2 7h2.2v2.2h-2.2zm-1.6 1.8h2.2v2.2h-2.2zm1.6 2.5h2.2v2.2h-2.2zm-0.8 5.1h2.2v2.2h-2.2zm-1 1.5h2.2v2.2h-2.2zm1.2 15.1h2.2v2.2h-2.2zm-1.1 31.4h2.2v2.2h-2.2zm1.7 -83.5h2.2v2.2h-2.2zm0.5 5.9h2.2v2.2h-2.2zm0.4 5.2h2.2v2.2h-2.2zm0.5 4.3h2.2v2.2h-2.2zm0.1 2.8h2.2v2.2h-2.2zm-0.5 13.5h2.2v2.2h-2.2zm-1.4 6.5h2.2v2.2h-2.2zm1.7 -40.2h2.2v2.2h-2.2zm1.9 12.2h2.2v2.2h-2.2zm-0.4 3h2.2v2.2h-2.2zm-1 1.9h2.2v2.2h-2.2zm1.2 11.1h2.2v2.2h-2.2zm1 8h2.2v2.2h-2.2zm0 -26.6h2.2v2.2h-2.2zm-0.8 5.2h2.2v2.2h-2.2zm1.1 19h2.2v2.2h-2.2zm0.2 1.3h2.2v2.2h-2.2zm1.3 0.3h2.2v2.2h-2.2zm-2.6 7.3h2.2v2.2h-2.2zm0.6 20.8h2.2v2.2h-2.2zm3.6 -51.2h2.2v2.2h-2.2zm-1.6 1.2h2.2v2.2h-2.2zm1.6 1.6h2.2v2.2h-2.2zm0.5 6.3h2.2v2.2h-2.2zm-2.4 18.8h2.2v2.2h-2.2zm1.5 3.5h2.2v2.2h-2.2zm0.4 -0.4h2.2v2.2h-2.2zm0.9 -35h2.2v2.2h-2.2zm0 6.9h2.2v2.2h-2.2zm-0.5 3.6h2.2v2.2h-2.2zm0.2 11.7h2.2v2.2h-2.2zm-0.6 6.5h2.2v2.2h-2.2zm0.3 0.7h2.2v2.2h-2.2zm0.6 16.7h2.2v2.2h-2.2zm-0.2 15.7h2.2v2.2h-2.2zm2.2 -65.9h2.2v2.2h-2.2zm-0.2 13.9h2.2v2.2h-2.2zm0.7 14.3h2.2v2.2h-2.2zm1.3 3.3h2.2v2.2h-2.2zm0.3 -14.2h2.2v2.2h-2.2zm1.9 33.7h2.2v2.2h-2.2zm4 -40.6h2.2v2.2h-2.2zm0.3 21.2h2.2v2.2h-2.2zm1.1 -16h2.2v2.2h-2.2zm2 19.9h2.2v2.2h-2.2zm2 -20.2h2.2v2.2h-2.2zm-2.2 4.3h2.2v2.2h-2.2zm1.2 80.8h2.2v2.2h-2.2zm1 -91.8h2.2v2.2h-2.2zm0.8 16.2h2.2v2.2h-2.2zm3.3 7.1h2.2v2.2h-2.2zm6.6 38.7h2.2v2.2h-2.2zm0.8 -51h2.2v2.2h-2.2zm4.3 78.6h2.2v2.2h-2.2zm2.3 -55.2h2.2v2.2h-2.2zm-1.9 55.5h2.2v2.2h-2.2zm5.9 -13h2.2v2.2h-2.2zm4.1 -92.1h2.2v2.2h-2.2zm-0.8 42.3h2.2v2.2h-2.2zm1.9 -71.4h2.2v2.2h-2.2zm3 14.7h2.2v2.2h-2.2zm3 28.5h2.2v2.2h-2.2zm-0.6 12.2h2.2v2.2h-2.2zm3 0.7h2.2v2.2h-2.2zm0.7 -38.9h2.2v2.2h-2.2zm0.5 41.7h2.2v2.2h-2.2zm-0.6 4.3h2.2v2.2h-2.2zm3.5 21.2h2.2v2.2h-2.2zm2.8 -82.7h2.2v2.2h-2.2zm0.7 48.5h2.2v2.2h-2.2z" fill="rgb(162, 22, 62)"/>
</g>
</g>
<clipPath id="clipE2"><path d="M401.5,349.9 404.8,349 406.2,347.5 408,346.4 409.6,344 411.9,345.4 413.9,348.3 415.9,346.7 417.3,346.8 420.8,344.9 423,345 425,346 424.8,348.7 422.7,351.1 420.7,353.1 421.9,354.8 423.7,356.9 423.4,359.5 421.6,361.6 418.4,361.3 416.1,362.3 413.9,362 412,364.3 409.8,363 406.4,363.8 404.4,363.1 403,361.8 402.8,359.8 401.7,357.6 400.9,355.1 402,352.5Z"/></clipPath>
<g clip-path="url(#clipE2)">
<path d="M0 0m402.6 350.4h1.8v1.8h-1.8zm9.3 12.7h1.8v1.8h-1.8zm4.4 -19.1h1.8v1.8h-1.8zm4 10.9h1.8v1.8h-1.8z" fill="rgb(90, 74, 154)"/>
<path d="M0 0m399.2 354.1h1.8v1.8h-1.8zm4.7 -2.5h1.8v1.8h-1.8zm4.9 -5.6h1.8v1.8h-1.8zm8.2 17.1h1.8v1.8h-1.8zm5.6 0.2h1.8v1.8h-1.8z" fill="rgb(245, 207, 83)"/>
<path d="M0 0m419.9 363.9h1.8v1.8h-1.8z" fill="rgb(228, 82, 58)"/>
<path d="M0 0m406.3 362.2h1.8v1.8h-1.8z" fill="rgb(228, 82, 58)"/>
<path d="M0 0m400.4 357.1h1.8v1.8h-1.8zm6.1 -9.2h1.8v1.8h-1.8zm4.1 2.5h1.8v1.8h-1.8z" fill="rgb(211, 235, 160)"/>
<path d="M0 0m400.1 348h1.8v1.8h-1.8zm1.8 17.9h1.8v1.8h-1.8zm1.3 -10.2h1.8v1.8h-1.8zm3.3 -4.2h1.8v1.8h-1.8zm4.2 3.2h1.8v1.8h-1.8zm3 2.9h1.8v1.8h-1.8zm2.5 -11.5h1.8v1.8h-1.8zm2.4 7.1h1.8v1.8h-1.8zm2.1 -8.5h1.8v1.8h-1.8zm1.1 14.9h1.8v1.8h-1.8z" fill="rgb(91, 186, 170)"/>
<path d="M0 0m403.2 345.3h1.8v1.8h-1.8zm5 8.4h1.8v1.8h-1.8z" fill="rgb(211, 235, 160)"/>
<path d="M0 0m401.2 358.3h1.8v1.8h-1.8zm4.7 1.7h1.8v1.8h-1.8zm3.8 -1.1h1.8v1.8h-1.8zm2.5 -4.7h1.8v1.8h-1.8zm5.4 11.5h1.8v1.8h-1.8z" fill="rgb(133, 207, 164)"/>
<path d="M0 0m408.9 362.7h1.8v1.8h-1.8zm3.8 -2.2h1.8v1.8h-1.8zm6.4 -2.9h1.8v1.8h-1.8zm3.9 -6.2h1.8v1.8h-1.8z" fill="rgb(230, 234, 124)"/>
<path d="M0 0m399 357.3h1.8v1.8h-1.8zm2.2 1.7h1.8v1.8h-1.8zm1.3 -3.1h1.8v1.8h-1.8zm2.5 -8.9h1.8v1.8h-1.8zm0.4 1.7h1.8v1.8h-1.8zm0.9 13h1.8v1.8h-1.8zm3.7 -15.8h1.8v1.8h-1.8zm-0.3 17.3h1.8v1.8h-1.8zm1 -1.6h1.8v1.8h-1.8zm1.6 -12.7h1.8v1.8h-1.8zm0.4 16h1.8v1.8h-1.8zm0.4 -4.4h1.8v1.8h-1.8zm2 -10.3h1.8v1.8h-1.8zm1.7 13.2h1.8v1.8h-1.8zm0.9 -1.3h1.8v1.8h-1.8zm0.5 0.4h1.8v1.8h-1.8zm1.2 -1.8h1.8v1.8h-1.8zm1.9 -12.7h1.8v1.8h-1.8zm1.3 6.3h1.8v1.8h-1.8z" fill="rgb(66, 156, 180)"/>
<path d="M0 0m403.5 344.8h1.8v1.8h-1.8zm3.6 -0.6h1.8v1.8h-1.8zm3.2 16h1.8v1.8h-1.8zm5.3 0.3h1.8v1.8h-1.8zm3.4 -15.1h1.8v1.8h-1.8z" fill="rgb(133, 207, 164)"/>
<path d="M0 0m399.2 350.8h1.8v1.8h-1.8zm1.9 4.1h1.8v1.8h-1.8zm1.5 -6.3h1.8v1.8h-1.8zm0.5 16.4h1.8v1.8h-1.8zm2.8 -17.2h1.8v1.8h-1.8zm0.5 9.1h1.8v1.8h-1.8zm1.9 2.2h1.8v1.8h-1.8zm1.3 2.2h1.8v1.8h-1.8zm0.8 -6.3h1.8v1.8h-1.8zm0.7 3.6h1.8v1.8h-1.8zm1.2 4.2h1.8v1.8h-1.8zm1.5 -10.3h1.8v1.8h-1.8zm0.3 12.8h1.8v1.8h-1.8zm2.9 -8.9h1.8v1.8h-1.8zm0.6 -3.4h1.8v1.8h-1.8zm0.6 1.4h1.8v1.8h-1.8zm1.3 -0.9h1.8v1.8h-1.8zm0.6 0.2h1.8v1.8h-1.8zm2.1 -3.3h1.8v1.8h-1.8zm0.8 14.6h1.8v1.8h-1.8z" fill="rgb(66, 156, 180)"/>
<path d="M0 0m399.9 364.4h1.8v1.8h-1.8zm6.4 -18.5h1.8v1.8h-1.8zm2.3 17.2h1.8v1.8h-1.8z" fill="rgb(211, 235, 160)"/>
<path d="M0 0m409.6 362.6h1.8v1.8h-1.8z" fill="rgb(247, 181, 88)"/>
<path d="M0 0m402.2 356.7h1.8v1.8h-1.8zm9.6 8h1.8v1.8h-1.8z" fill="rgb(189, 37, 62)"/>
<path d="M0 0m403.6 354.6h1.8v1.8h-1.8zm6.5 9.9h1.8v1.8h-1.8zm10.2 -9.1h1.8v1.8h-1.8zm2.5 -10.4h1.8v1.8h-1.8z" fill="rgb(176, 224, 160)"/>
<path d="M0 0m400.6 363h1.8v1.8h-1.8zm2.1 -18.1h1.8v1.8h-1.8zm1.2 18.7h1.8v1.8h-1.8zm2 -17.6h1.8v1.8h-1.8zm0.7 7.3h1.8v1.8h-1.8zm1.6 4.5h1.8v1.8h-1.8zm1.2 -7.2h1.8v1.8h-1.8zm1 -0.7h1.8v1.8h-1.8zm1 3.1h1.8v1.8h-1.8zm0.9 -1.7h1.8v1.8h-1.8zm0.8 0.3h1.8v1.8h-1.8zm1.2 -2.2h1.8v1.8h-1.8zm1.9 3.3h1.8v1.8h-1.8zm0.9 -0.8h1.8v1.8h-1.8zm1.5 -3.9h1.8v1.8h-1.8zm0.8 3h1.8v1.8h-1.8zm0.9 -0.6h1.8v1.8h-1.8zm1 15.3h1.8v1.8h-1.8zm2.4 -9.7h1.8v1.8h-1.8z" fill="rgb(66, 156, 180)"/>
<path d="M0 0m399.8 359.8h1.8v1.8h-1.8zm0.5 2.7h1.8v1.8h-1.8zm1.8 -10.1h1.8v1.8h-1.8zm2.3 6.5h1.8v1.8h-1.8zm3.6 2.4h1.8v1.8h-1.8zm2.1 -1.6h1.8v1.8h-1.8zm3.3 0h1.8v1.8h-1.8zm3.2 -6.7h1.8v1.8h-1.8zm2.3 8.4h1.8v1.8h-1.8zm1.3 -5h1.8v1.8h-1.8zm2.6 -11.9h1.8v1.8h-1.8z" fill="rgb(91, 186, 170)"/>
<path d="M0 0m399.2 349.3h1.8v1.8h-1.8zm1.4 4.8h1.8v1.8h-1.8zm6.7 -4.7h1.8v1.8h-1.8zm2.9 8h1.8v1.8h-1.8zm12.5 1.2h1.8v1.8h-1.8z" fill="rgb(240, 226, 64)"/>
<path d="M0 0m405.1 358.1h1.8v1.8h-1.8zm5.9 2.2h1.8v1.8h-1.8zm11 -10.4h1.8v1.8h-1.8zm0.1 -2.8h1.8v1.8h-1.8z" fill="rgb(176, 224, 160)"/>
<path d="M0 0m400 363.8h1.8v1.8h-1.8zm3.9 -6.2h1.8v1.8h-1.8zm3.9 4.7h1.8v1.8h-1.8zm5.3 -14.2h1.8v1.8h-1.8zm10.4 3.3h1.8v1.8h-1.8z" fill="rgb(240, 226, 64)"/>
<path d="M0 0m404.8 354.5h1.8v1.8h-1.8z" fill="rgb(247, 181, 88)"/>
<path d="M0 0m399.4 365.2h1.8v1.8h-1.8zm2 -2.3h1.8v1.8h-1.8zm1.9 -15.1h1.8v1.8h-1.8zm2.5 -2.2h1.8v1.8h-1.8zm0.8 -1.5h1.8v1.8h-1.8zm1.1 7.9h1.8v1.8h-1.8zm1.6 -4h1.8v1.8h-1.8zm1.3 0h1.8v1.8h-1.8zm0.5 -2.7h1.8v1.8h-1.8zm0.9 4h1.8v1.8h-1.8zm1.9 -4.3h1.8v1.8h-1.8zm-0.3 19.1h1.8v1.8h-1.8zm3.2 -18.6h1.8v1.8h-1.8zm-0.2 20.3h1.8v1.8h-1.8zm1.5 -21.6h1.8v1.8h-1.8zm1.8 1.6h1.8v1.8h-1.8zm1.1 2.8h1.8v1.8h-1.8zm0.1 1.9h1.8v1.8h-1.8zm2.2 -3.8h1.8v1.8h-1.8z" fill="rgb(66, 156, 180)"/>
<path d="M0 0m405.9 356.5h1.8v1.8h-1.8zm6.5 1.8h1.8v1.8h-1.8zm3.1 -3.9h1.8v1.8h-1.8zm5.7 4.5h1.8v1.8h-1.8z" fill="rgb(230, 234, 124)"/>
<path d="M0 0m400.8 356h1.8v1.8h-1.8zm8.7 -0.6h1.8v1.8h-1.8zm6.8 0h1.8v1.8h-1.8z" fill="rgb(212, 56, 61)"/>
<path d="M0 0m402.6 351.2h1.8v1.8h-1.8zm8.9 11.7h1.8v1.8h-1.8zm3.2 0.7h1.8v1.8h-1.8zm6.2 -6h1.8v1.8h-1.8z" fill="rgb(230, 234, 124)"/>
<path d="M0 0m408.6 349.1h1.8v1.8h-1.8zm3.7 12.9h1.8v1.8h-1.8zm6.6 -3.8h1.8v1.8h-1.8z" fill="rgb(212, 56, 61)"/>
<path d="M0 0m407.1 359.2h1.8v1.8h-1.8zm7.7 -3.2h1.8v1.8h-1.8z" fill="rgb(189, 37, 62)"/>
<path d="M0 0m399 362.9h1.8v1.8h-1.8zm2.8 -9.7h1.8v1.8h-1.8zm1.1 11.8h1.8v1.8h-1.8zm1.7 -1.8h1.8v1.8h-1.8zm4.4 -6.9h1.8v1.8h-1.8zm2 3.4h1.8v1.8h-1.8zm3.4 -2h1.8v1.8h-1.8zm2.2 3.8h1.8v1.8h-1.8zm2 4h1.8v1.8h-1.8zm2.9 -20.8h1.8v1.8h-1.8zm0.9 12.3h1.8v1.8h-1.8z" fill="rgb(91, 186, 170)"/>
<path d="M0 0m399.6 346.7h1.8v1.8h-1.8zm11.7 8.5h1.8v1.8h-1.8zm7.7 -6.5h1.8v1.8h-1.8z" fill="rgb(189, 37, 62)"/>
<path d="M0 0m399.9 361.9h1.8v1.8h-1.8zm1 -1.4h1.8v1.8h-1.8zm7 -8.8h1.8v1.8h-1.8zm3.3 4.7h1.8v1.8h-1.8zm12.7 -7.4h1.8v1.8h-1.8z" fill="rgb(240, 226, 64)"/>
<path d="M0 0m401 353.8h1.8v1.8h-1.8zm4.6 -2.9h1.8v1.8h-1.8zm7.7 12.8h1.8v1.8h-1.8zm6.2 -18.9h1.8v1.8h-1.8z" fill="rgb(245, 207, 83)"/>
<path d="M0 0m400.7 346.5h1.8v1.8h-1.8zm7.1 0.1h1.8v1.8h-1.8zm0.9 5.4h1.8v1.8h-1.8zm13.9 -5.5h1.8v1.8h-1.8zm0.7 14.8h1.8v1.8h-1.8z" fill="rgb(240, 226, 64)"/>
<path d="M0 0m401.8 350.8h1.8v1.8h-1.8zm3.4 13.2h1.8v1.8h-1.8zm10.3 -18h1.8v1.8h-1.8zm4.3 8.7h1.8v1.8h-1.8z" fill="rgb(245, 207, 83)"/>
<path d="M0 0m406.8 348.5h1.8v1.8h-1.8zm8.2 14.1h1.8v1.8h-1.8zm6 -7.8h1.8v1.8h-1.8zm1.2 10.8h1.8v1.8h-1.8z" fill="rgb(176, 224, 160)"/>
<path d="M0 0m400.4 358.1h1.8v1.8h-1.8zm2.2 3.5h1.8v1.8h-1.8zm1.7 -16.9h1.8v1.8h-1.8zm-0.1 21.1h1.8v1.8h-1.8zm2 -13.7h1.8v1.8h-1.8zm1 11.8h1.8v1.8h-1.8zm1.9 -3.6h1.8v1.8h-1.8zm2.7 -10.1h1.8v1.8h-1.8zm2 -2.6h1.8v1.8h-1.8zm0.8 8.4h1.8v1.8h-1.8zm0.8 -3.9h1.8v1.8h-1.8zm2.4 -4.2h1.8v1.8h-1.8zm2 0.8h1.8v1.8h-1.8zm1 12.2h1.8v1.8h-1.8zm0.9 0.1h1.8v1.8h-1.8zm0.4 -3h1.8v1.8h-1.8z" fill="rgb(68, 117, 172)"/>
<path d="M0 0m399.5 345.1h1.8v1.8h-1.8zm3.6 1h1.8v1.8h-1.8zm4.8 8.9h1.8v1.8h-1.8zm2.5 7.1h1.8v1.8h-1.8zm6.2 -13.5h1.8v1.8h-1.8zm4.3 15.3h1.8v1.8h-1.8z" fill="rgb(133, 207, 164)"/>
<path d="M0 0m411.6 346.8h1.8v1.8h-1.8zm3.4 -1.1h1.8v1.8h-1.8zm3.6 13.7h1.8v1.8h-1.8z" fill="rgb(90, 74, 154)"/>
<path d="M0 0m399.4 344.3h1.8v1.8h-1.8zm3.6 5.7h1.8v1.8h-1.8zm0.1 11.4h1.8v1.8h-1.8zm1.4 -4h1.8v1.8h-1.8zm1.1 8.5h1.8v1.8h-1.8zm1.5 -11.3h1.8v1.8h-1.8zm2.3 -9.9h1.8v1.8h-1.8zm0.6 12h1.8v1.8h-1.8zm1.1 0.7h1.8v1.8h-1.8zm2.4 -2.1h1.8v1.8h-1.8zm1.1 5.6h1.8v1.8h-1.8zm1.2 -3.4h1.8v1.8h-1.8zm2.2 -0.7h1.8v1.8h-1.8zm1 3h1.8v1.8h-1.8zm1.6 4.5h1.8v1.8h-1.8zm0.5 0.5h1.8v1.8h-1.8zm2.8 -2.1h1.8v1.8h-1.8z" fill="rgb(68, 117, 172)"/>
<path d="M0 0m403.5 352.9h1.8v1.8h-1.8zm8.3 12.2h1.8v1.8h-1.8zm4.6 -7.3h1.8v1.8h-1.8zm7.3 -13.1h1.8v1.8h-1.8z" fill="rgb(90, 74, 154)"/>
<path d="M0 0m401.1 346.5h1.8v1.8h-1.8zm4.7 12.7h1.8v1.8h-1.8zm2.1 -2.4h1.8v1.8h-1.8zm4.8 -4.1h1.8v1.8h-1.8zm3.7 10.2h1.8v1.8h-1.8zm4.7 -5.8h1.8v1.8h-1.8z" fill="rgb(133, 207, 164)"/>
<path d="M0 0m401.5 345.8h1.8v1.8h-1.8zm7.1 4.5h1.8v1.8h-1.8zm7.9 8.8h1.8v1.8h-1.8z" fill="rgb(211, 235, 160)"/>
<path d="M0 0m402.7 363.5h1.8v1.8h-1.8zm3.3 -16.8h1.8v1.8h-1.8zm10.4 13.7h1.8v1.8h-1.8zm3.8 -15.2h1.8v1.8h-1.8z" fill="rgb(245, 207, 83)"/>
<path d="M0 0m399.6 352.2h1.8v1.8h-1.8zm10.3 -0.5h1.8v1.8h-1.8zm6 1.3h1.8v1.8h-1.8z" fill="rgb(212, 56, 61)"/>
<path d="M0 0m405.2 362h1.8v1.8h-1.8zm8.4 -3.4h1.8v1.8h-1.8zm3.8 -9h1.8v1.8h-1.8zm5.8 4.3h1.8v1.8h-1.8z" fill="rgb(90, 74, 154)"/>
<path d="M0 0m400.1 345.5h1.8v1.8h-1.8zm1.2 15.8h1.8v1.8h-1.8zm2.2 -12.8h1.8v1.8h-1.8zm2.2 4.5h1.8v1.8h-1.8zm5.2 -6.5h1.8v1.8h-1.8zm1.6 0.9h1.8v1.8h-1.8zm3.5 0.3h1.8v1.8h-1.8zm3 3.6h1.8v1.8h-1.8zm0 -4.9h1.8v1.8h-1.8zm2.9 8.8h1.8v1.8h-1.8zm2.1 -7.7h1.8v1.8h-1.8z" fill="rgb(91, 186, 170)"/>
<path d="M0 0m409.2 365h1.8v1.8h-1.8zm4.4 -2.7h1.8v1.8h-1.8zm6.1 2.7h1.8v1.8h-1.8z" fill="rgb(230, 234, 124)"/>
<path d="M0 0m400.5 355.9h1.8v1.8h-1.8zm1.6 2h1.8v1.8h-1.8zm1 6.4h1.8v1.8h-1.8zm1.6 -3.4h1.8v1.8h-1.8zm2.1 -10h1.8v1.8h-1.8zm0.6 7h1.8v1.8h-1.8zm1.7 -5h1.8v1.8h-1.8zm2 -3.3h1.8v1.8h-1.8zm1.1 -5h1.8v1.8h-1.8zm2.4 2.4h1.8v1.8h-1.8zm0.4 -2.2h1.8v1.8h-1.8zm1.9 9.4h1.8v1.8h-1.8zm2 10.5h1.8v1.8h-1.8zm2.1 -6.1h1.8v1.8h-1.8zm0.6 -7.5h1.8v1.8h-1.8zm1.3 4.8h1.8v1.8h-1.8zm0.7 8h1.8v1.8h-1.8z" fill="rgb(68, 117, 172)"/>
<path d="M0 0m402.5 358.2h1.8v1.8h-1.8zm10.3 -7.3h1.8v1.8h-1.8zm6 -1.7h1.8v1.8h-1.8z" fill="rgb(212, 56, 61)"/>
<path d="M0 0m402 362.8h1.8v1.8h-1.8zm7.2 -15.8h1.8v1.8h-1.8zm6.8 11.5h1.8v1.8h-1.8zm5.7 2.5h1.8v1.8h-1.8z" fill="rgb(176, 224, 160)"/>
<path d="M0 0m401.5 344.2h1.8v1.8h-1.8zm2 12.6h1.8v1.8h-1.8zm1 -5.7h1.8v1.8h-1.8zm1.4 6.7h1.8v1.8h-1.8zm0.5 8.1h1.8v1.8h-1.8zm2.3 -7.7h1.8v1.8h-1.8zm2 -13.3h1.8v1.8h-1.8zm0.4 9.6h1.8v1.8h-1.8zm2.8 -4.1h1.8v1.8h-1.8zm0.8 7.9h1.8v1.8h-1.8zm0.6 -2.3h1.8v1.8h-1.8zm2.5 -3.3h1.8v1.8h-1.8zm1.3 -3.4h1.8v1.8h-1.8zm1.7 12.9h1.8v1.8h-1.8zm0.5 1.3h1.8v1.8h-1.8zm1.5 0.8h1.8v1.8h-1.8z" fill="rgb(68, 117, 172)"/>
<path d="M0 0m404.6 346.5h1.8v1.8h-1.8zm8 13h1.8v1.8h-1.8z" fill="rgb(189, 37, 62)"/>
</g><g>
<ellipse cx="426" cy="268" rx="5" ry="3" fill="#fff"/>
<ellipse cx="445" cy="262" rx="3" ry="4" fill="#fff"/>
<ellipse cx="398" cy="338" rx="4" ry="3" fill="#fff"/>
</g>
<defs><linearGradient id="cyto" x1="0" y1="0" x2="0" y2="1"><stop offset="0.00" stop-color="rgb(162, 22, 62)"/><stop offset="0.10" stop-color="rgb(206, 46, 62)"/><stop offset="0.20" stop-color="rgb(232, 88, 58)"/><stop offset="0.30" stop-color="rgb(245, 140, 70)"/><stop offset="0.40" stop-color="rgb(248, 196, 95)"/><stop offset="0.50" stop-color="rgb(240, 226, 64)"/><stop offset="0.60" stop-color="rgb(225, 240, 160)"/><stop offset="0.70" stop-color="rgb(170, 222, 160)"/><stop offset="0.80" stop-color="rgb(96, 192, 168)"/><stop offset="0.90" stop-color="rgb(56, 144, 184)"/><stop offset="1.00" stop-color="rgb(90, 74, 154)"/></linearGradient></defs>
<rect x="485.9" y="274.3" width="13.4" height="71.9" fill="url(#cyto)" stroke="#111" stroke-width="1.3"/>
<rect x="485.3" y="273.1" width="2.8" height="2.4" fill="#111"/>
<rect x="496.9" y="273.1" width="2.8" height="2.4" fill="#111"/>
<rect x="485.3" y="287.5" width="2.8" height="2.4" fill="#111"/>
<rect x="496.9" y="287.5" width="2.8" height="2.4" fill="#111"/>
<rect x="485.3" y="301.9" width="2.8" height="2.4" fill="#111"/>
<rect x="496.9" y="301.9" width="2.8" height="2.4" fill="#111"/>
<rect x="485.3" y="316.2" width="2.8" height="2.4" fill="#111"/>
<rect x="496.9" y="316.2" width="2.8" height="2.4" fill="#111"/>
<rect x="485.3" y="330.6" width="2.8" height="2.4" fill="#111"/>
<rect x="496.9" y="330.6" width="2.8" height="2.4" fill="#111"/>
<rect x="485.3" y="345.0" width="2.8" height="2.4" fill="#111"/>
<rect x="496.9" y="345.0" width="2.8" height="2.4" fill="#111"/>
<text x="486.8" y="260.8">Predicted</text>
<text x="486.8" y="269.2">order</text>
<text x="502" y="277.5">1.0 (Less diff.)</text>
<text x="502" y="291.88">0.8</text>
<text x="502" y="306.26">0.6</text>
<text x="502" y="320.64">0.4</text>
<text x="502" y="335.02000000000004">0.2</text>
<text x="502" y="349.40000000000003">0.0 (More diff.)</text>
<text x="557.5" y="212" font-size="13" font-weight="bold">f</text>
<line x1="605.3" y1="237.6" x2="605.3" y2="367.2" stroke="#231f20" stroke-width="1"/>
<line x1="599.8" y1="366.7" x2="605.3" y2="366.7" stroke="#231f20" stroke-width="1"/>
<text x="598.2" y="369.34" text-anchor="end">0.0</text>
<line x1="599.8" y1="340.88" x2="605.3" y2="340.88" stroke="#231f20" stroke-width="1"/>
<text x="598.2" y="343.52" text-anchor="end">0.2</text>
<line x1="599.8" y1="315.06" x2="605.3" y2="315.06" stroke="#231f20" stroke-width="1"/>
<text x="598.2" y="317.7" text-anchor="end">0.4</text>
<line x1="599.8" y1="289.24" x2="605.3" y2="289.24" stroke="#231f20" stroke-width="1"/>
<text x="598.2" y="291.88" text-anchor="end">0.6</text>
<line x1="599.8" y1="263.41999999999996" x2="605.3" y2="263.41999999999996" stroke="#231f20" stroke-width="1"/>
<text x="598.2" y="266.06" text-anchor="end">0.8</text>
<line x1="599.8" y1="237.6" x2="605.3" y2="237.6" stroke="#231f20" stroke-width="1"/>
<text x="598.2" y="240.24" text-anchor="end">1.0</text>
<line x1="605.3" y1="366.7" x2="672.6" y2="366.7" stroke="#231f20" stroke-width="1"/>
<line x1="632.1" y1="366.7" x2="632.1" y2="370.2" stroke="#231f20" stroke-width="1"/>
<line x1="659.2" y1="366.7" x2="659.2" y2="370.2" stroke="#231f20" stroke-width="1"/>
<text x="578.5" y="302" text-anchor="middle" transform="rotate(-90 578.5 302)">Predicted ordering by CytoTRACE</text>
<text x="644.4" y="227" font-size="7.5" text-anchor="middle"><tspan font-style="italic">p</tspan>&lt;0.0001</text>
<line x1="628.4" y1="230.5" x2="660.4" y2="230.5" stroke="#333" stroke-width="1.2"/>
<rect x="621.3" y="266.0" width="21.6" height="65.8" fill="#e6bfd2" stroke="#c96b95" stroke-width="0.8"/>
<rect x="629" y="237.6" width="6.8" height="129.1" fill="#a3164a"/>
<line x1="625.7" y1="237.6" x2="638.1" y2="237.6" stroke="#b02a5a" stroke-width="1.2"/>
<line x1="621.3" y1="298.277" x2="642.9" y2="298.277" stroke="#b03a70" stroke-width="1.0"/>
<rect x="648.6" y="276.3" width="21.4" height="63.3" fill="#dcd8ef" stroke="#a59fd6" stroke-width="0.8"/>
<rect x="655.8" y="237.6" width="6.8" height="129.1" fill="#5a4ea8"/>
<line x1="653" y1="237.6" x2="665" y2="237.6" stroke="#6a60b8" stroke-width="1.2"/>
<line x1="648.6" y1="307.31399999999996" x2="670" y2="307.31399999999996" stroke="#6a60b8" stroke-width="1.0"/>
<text x="624" y="382" text-anchor="middle">ANXA1<tspan font-size="5.1" dy="-3.3">high</tspan></text>
<text x="624.5" y="393.5" text-anchor="middle">_Epi</text>
<text x="665.5" y="382" text-anchor="middle">ANXA1<tspan font-size="5.1" dy="-3.3">low</tspan></text>
<text x="666" y="393.5" text-anchor="middle">_Epi</text>
<text x="0.5" y="416.8" font-size="13" font-weight="bold">g</text>
<text x="95.4" y="435.6">GALIE_TUMOR_STEMNESS_GENES</text>
<line x1="50.4" y1="466.1" x2="50.4" y2="597.8" stroke="#231f20" stroke-width="1"/>
<line x1="45.0" y1="466.1" x2="50.4" y2="466.1" stroke="#231f20" stroke-width="1"/>
<text x="28.2" y="468.8" font-size="8.9">1.0</text>
<line x1="45.0" y1="498.9" x2="50.4" y2="498.9" stroke="#231f20" stroke-width="1"/>
<text x="28.2" y="501.6" font-size="8.9">0.5</text>
<line x1="45.0" y1="531.7" x2="50.4" y2="531.7" stroke="#231f20" stroke-width="1"/>
<text x="28.2" y="534.4" font-size="8.9">0.0</text>
<line x1="45.0" y1="564.5" x2="50.4" y2="564.5" stroke="#231f20" stroke-width="1"/>
<text x="28.2" y="567.2" font-size="8.9">-0.5</text>
<line x1="45.0" y1="597.3" x2="50.4" y2="597.3" stroke="#231f20" stroke-width="1"/>
<text x="28.2" y="600.0" font-size="8.9">-1.0</text>
<line x1="50.4" y1="597.3" x2="137.7" y2="597.3" stroke="#231f20" stroke-width="1"/>
<line x1="75.2" y1="597.3" x2="75.2" y2="602.3" stroke="#231f20" stroke-width="1"/>
<line x1="112.4" y1="597.3" x2="112.4" y2="602.3" stroke="#231f20" stroke-width="1"/>
<text x="19.4" y="527.8" font-size="9.4" text-anchor="middle" transform="rotate(-90 19.4 527.8)">GSVA (Score)</text>
<line x1="189.3" y1="465.2" x2="189.3" y2="596.7" stroke="#231f20" stroke-width="1"/>
<line x1="183.9" y1="465.2" x2="189.3" y2="465.2" stroke="#231f20" stroke-width="1"/>
<text x="183.2" y="467.8" font-size="8.9" text-anchor="end">1.0</text>
<line x1="183.9" y1="497.95" x2="189.3" y2="497.95" stroke="#231f20" stroke-width="1"/>
<text x="183.2" y="500.55" font-size="8.9" text-anchor="end">0.5</text>
<line x1="183.9" y1="530.7" x2="189.3" y2="530.7" stroke="#231f20" stroke-width="1"/>
<text x="183.2" y="533.3" font-size="8.9" text-anchor="end">0.0</text>
<line x1="183.9" y1="563.45" x2="189.3" y2="563.45" stroke="#231f20" stroke-width="1"/>
<text x="183.2" y="566.05" font-size="8.9" text-anchor="end">-0.5</text>
<line x1="183.9" y1="596.2" x2="189.3" y2="596.2" stroke="#231f20" stroke-width="1"/>
<text x="183.2" y="598.8" font-size="8.9" text-anchor="end">-1.0</text>
<line x1="189.3" y1="596.2" x2="320.7" y2="596.2" stroke="#231f20" stroke-width="1"/>
<line x1="209.2" y1="596.2" x2="209.2" y2="601.2" stroke="#231f20" stroke-width="1"/>
<line x1="239.4" y1="596.2" x2="239.4" y2="601.2" stroke="#231f20" stroke-width="1"/>
<line x1="269.8" y1="596.2" x2="269.8" y2="601.2" stroke="#231f20" stroke-width="1"/>
<line x1="300.0" y1="596.2" x2="300.0" y2="601.2" stroke="#231f20" stroke-width="1"/>
<text x="158.6" y="528.2" font-size="9.4" text-anchor="middle" transform="rotate(-90 158.6 528.2)">GSVA (Score)</text>
<text x="97.4" y="462.6" font-size="9" text-anchor="middle"><tspan font-style="italic">p</tspan>=3.76e-110</text>
<line x1="74" y1="467.3" x2="117.4" y2="467.3" stroke="#222" stroke-width="1.1"/>
<text x="57.4" y="615.1">ANXA1<tspan font-size="5.1" dy="-3.3">high</tspan></text>
<text x="68" y="625.8">_Epi</text>
<text x="101.2" y="615.1">ANXA1<tspan font-size="5.1" dy="-3.3">low</tspan></text>
<text x="110.7" y="625.8">_Epi</text>
<text x="208.8" y="610" text-anchor="middle">Early</text>
<text x="239.6" y="610" text-anchor="middle">Late</text>
<text x="269.8" y="610" text-anchor="middle">Early</text>
<text x="300.2" y="610" text-anchor="middle">Late</text>
<text x="211.5" y="452.5" font-size="8.7">ANXA1<tspan font-size="5.1" dy="-3.3">high</tspan></text>
<text x="200.2" y="461.8" font-size="9" text-anchor="start"><tspan font-style="italic">p</tspan>=9.42e-64</text>
<line x1="208.5" y1="465.6" x2="239.5" y2="465.6" stroke="#888" stroke-width="1.8"/>
<text x="270.7" y="452.5" font-size="8.7">ANXA1<tspan font-size="5.1" dy="-3.3">low</tspan></text>
<text x="262.6" y="461.8" font-size="9" text-anchor="start"><tspan font-style="italic">p</tspan>=5.39e-84</text>
<line x1="269.2" y1="465.6" x2="299.4" y2="465.6" stroke="#888" stroke-width="1.8"/>
<path d="M74.7,472.6 74.5,475.6 74.4,497.0 74.2,505.0 76.4,505.0 76.2,497.0 76.1,475.6 75.9,472.6Z" fill="#4a8cc0"/>
<path d="M74.6,505.0 73.5,509.1 72.5,513.2 72.0,517.4 72.2,519.9 73.3,521.2 74.8,521.5 75.8,521.5 77.3,521.2 78.4,519.9 78.6,517.4 78.1,513.2 77.1,509.1 76.0,505.0Z" fill="#4a8cc0"/>
<line x1="75.3" y1="521.5" x2="75.3" y2="575.4" stroke="#4a8cc0" stroke-width="1.1"/>
<path d="M64.0,541.8 63.1,541.5 62.8,542.1 62.8,545.1 63.8,545.4 86.8,545.4 87.8,545.1 87.8,542.1 87.5,541.5 86.6,541.8Z" fill="#4a8cc0"/>
<path d="M67.0,545.1 72.4,550.0 74.7,557.0 75.9,557.0 78.2,550.0 83.6,545.1Z" fill="#4a8cc0"/>

<path d="M65.1,574.3 72.9,574.1 74.5,572.8 75.3,572.8 75.3,576.7 74.5,576.7 72.9,576.5 63.3,576.5 87.3,576.5 77.7,576.5 76.1,576.7 75.3,576.7 75.3,572.8 76.1,572.8 77.7,574.1 85.5,574.3Z" fill="#4a8cc0"/>
<rect x="63.3" y="574.1" width="24.0" height="2.6" fill="#4a8cc0"/>
<line x1="75.3" y1="522.4" x2="75.3" y2="565.8" stroke="#111" stroke-width="1"/>
<line x1="69.0" y1="522.4" x2="81.6" y2="522.4" stroke="#111" stroke-width="1.1"/>
<line x1="69.0" y1="565.8" x2="81.6" y2="565.8" stroke="#111" stroke-width="1.1"/>
<line x1="62.9" y1="543.6" x2="87.7" y2="543.6" stroke="#111" stroke-width="1.9"/>
<line x1="112.9" y1="478" x2="112.9" y2="505.3" stroke="#e05a1f" stroke-width="1.5" stroke-dasharray="1.6 1.6"/>
<path d="M112.3,505.3 110.5,506.8 109.9,508.4 111.1,509.9 112.3,513.0 113.5,513.0 114.7,509.9 115.9,508.4 115.3,506.8 113.5,505.3Z" fill="#e05a1f"/>
<line x1="112.9" y1="513" x2="112.9" y2="575.4" stroke="#e05a1f" stroke-width="1.1"/>
<path d="M101.6,541.8 100.7,541.5 100.4,542.1 100.4,544.5 101.4,544.8 124.4,544.8 125.4,544.5 125.4,542.1 125.1,541.5 124.2,541.8Z" fill="#e05a1f"/>
<path d="M109.9,544.5 111.9,546.0 112.3,549.5 113.5,549.5 114.0,546.0 115.9,544.5Z" fill="#e05a1f"/>

<path d="M102.3,574.3 110.5,574.1 112.1,572.8 112.9,572.8 112.9,576.7 112.1,576.7 110.5,576.5 100.4,576.5 125.4,576.5 115.3,576.5 113.7,576.7 112.9,576.7 112.9,572.8 113.7,572.8 115.3,574.1 123.5,574.3Z" fill="#e05a1f"/>
<rect x="100.4" y="574.1" width="25.0" height="2.6" fill="#e05a1f"/>
<line x1="112.9" y1="528.4" x2="112.9" y2="572.8" stroke="#3a2018" stroke-width="1"/>
<line x1="106.9" y1="528.4" x2="118.9" y2="528.4" stroke="#111" stroke-width="1.1"/>
<line x1="106.9" y1="572.8" x2="118.9" y2="572.8" stroke="#111" stroke-width="1.1"/>
<line x1="100.3" y1="550.5" x2="125.5" y2="550.5" stroke="#111" stroke-width="1.9"/>
<path d="M208.6,471.6 208.4,474.6 208.3,494.5 208.1,502.5 210.3,502.5 210.1,494.5 210.0,474.6 209.8,471.6Z" fill="#4a8cc0"/>
<path d="M208.5,502.5 207.4,506.9 206.5,511.2 206.0,515.6 206.2,518.2 207.3,519.7 208.7,520.0 209.7,520.0 211.1,519.7 212.2,518.2 212.4,515.6 211.9,511.2 211.0,506.9 209.9,502.5Z" fill="#4a8cc0"/>
<line x1="209.2" y1="520" x2="209.2" y2="574.5" stroke="#4a8cc0" stroke-width="1.1"/>
<path d="M200.9,539.5 200.0,539.2 199.7,539.8 199.7,543.0 200.7,543.3 217.7,543.3 218.7,543.0 218.7,539.8 218.4,539.2 217.5,539.5Z" fill="#4a8cc0"/>
<path d="M202.2,543.0 206.8,548.1 208.6,555.2 209.8,555.2 211.6,548.1 216.2,543.0Z" fill="#4a8cc0"/>

<path d="M203.2,573.4 206.8,573.2 208.4,571.9 209.2,571.9 209.2,575.8 208.4,575.8 206.8,575.6 202.2,575.6 216.2,575.6 211.6,575.6 210.0,575.8 209.2,575.8 209.2,571.9 210.0,571.9 211.6,573.2 215.1,573.4Z" fill="#4a8cc0"/>
<rect x="202.2" y="573.2" width="14.0" height="2.6" fill="#4a8cc0"/>
<line x1="209.2" y1="518.4" x2="209.2" y2="560.6" stroke="#111" stroke-width="1"/>
<line x1="204.2" y1="518.4" x2="214.2" y2="518.4" stroke="#111" stroke-width="1.1"/>
<line x1="204.2" y1="560.6" x2="214.2" y2="560.6" stroke="#111" stroke-width="1.1"/>
<line x1="199.4" y1="539.2" x2="219.0" y2="539.2" stroke="#111" stroke-width="1.9"/>
<path d="M238.8,475.1 238.6,478.1 238.5,496.0 238.3,504.0 240.5,504.0 240.3,496.0 240.2,478.1 240.0,475.1Z" fill="#e05a1f"/>
<path d="M238.7,504.0 237.8,508.0 236.8,512.0 236.4,516.0 236.6,518.4 237.6,519.7 238.9,520.0 239.9,520.0 241.2,519.7 242.2,518.4 242.4,516.0 242.0,512.0 241.1,508.0 240.1,504.0Z" fill="#e05a1f"/>
<line x1="239.4" y1="520" x2="239.4" y2="574.8" stroke="#e05a1f" stroke-width="1.1"/>
<path d="M231.3,540.4 230.4,540.1 230.1,540.7 230.1,544.6 231.1,544.9 247.7,544.9 248.7,544.6 248.7,540.7 248.4,540.1 247.5,540.4Z" fill="#e05a1f"/>
<path d="M236.9,544.6 238.5,548.9 238.8,555.2 240.0,555.2 240.3,548.9 241.9,544.6Z" fill="#e05a1f"/>

<path d="M231.1,573.7 237.0,573.5 238.6,572.2 239.4,572.2 239.4,576.1 238.6,576.1 237.0,575.9 229.6,575.9 249.2,575.9 241.8,575.9 240.2,576.1 239.4,576.1 239.4,572.2 240.2,572.2 241.8,573.5 247.7,573.7Z" fill="#e05a1f"/>
<rect x="229.6" y="573.5" width="19.6" height="2.6" fill="#e05a1f"/>
<line x1="239.4" y1="523.5" x2="239.4" y2="567.2" stroke="#111" stroke-width="1"/>
<line x1="234.3" y1="523.5" x2="244.5" y2="523.5" stroke="#111" stroke-width="1.1"/>
<line x1="234.3" y1="567.2" x2="244.5" y2="567.2" stroke="#111" stroke-width="1.1"/>
<line x1="229.1" y1="545.6" x2="249.7" y2="545.6" stroke="#111" stroke-width="1.9"/>
<line x1="269.8" y1="476.9" x2="269.8" y2="505.4" stroke="#4a8cc0" stroke-width="1.5" stroke-dasharray="1.6 1.6"/>
<path d="M269.2,505.4 267.4,507.1 266.8,508.8 268.0,510.6 269.2,514.0 270.4,514.0 271.6,510.6 272.8,508.8 272.2,507.1 270.4,505.4Z" fill="#4a8cc0"/>
<line x1="269.8" y1="514" x2="269.8" y2="574.5" stroke="#7fb2dc" stroke-width="1.1"/>
<path d="M261.2,540.4 260.3,540.1 260.0,540.7 260.0,542.8 261.0,543.1 278.6,543.1 279.6,542.8 279.6,540.7 279.3,540.1 278.4,540.4Z" fill="#4a8cc0"/>
<path d="M267.8,542.8 269.1,545.4 269.2,550.0 270.4,550.0 270.5,545.4 271.8,542.8Z" fill="#4a8cc0"/>

<path d="M263.9,573.4 267.4,573.2 269.0,571.9 269.8,571.9 269.8,575.8 269.0,575.8 267.4,575.6 262.9,575.6 276.7,575.6 272.2,575.6 270.6,575.8 269.8,575.8 269.8,571.9 270.6,571.9 272.2,573.2 275.7,573.4Z" fill="#4a8cc0"/>
<rect x="262.9" y="573.2" width="13.8" height="2.6" fill="#4a8cc0"/>
<line x1="269.8" y1="522" x2="269.8" y2="567.3" stroke="#8cbce0" stroke-width="1"/>
<line x1="264.8" y1="522" x2="274.8" y2="522" stroke="#8cbce0" stroke-width="1.1"/>
<line x1="264.8" y1="567.3" x2="274.8" y2="567.3" stroke="#8cbce0" stroke-width="1.1"/>
<line x1="259.8" y1="544.9" x2="279.8" y2="544.9" stroke="#111" stroke-width="1.9"/>
<line x1="300.0" y1="483.1" x2="300.0" y2="504.5" stroke="#e05a1f" stroke-width="1.5" stroke-dasharray="1.6 1.6"/>
<path d="M299.4,504.5 298.1,506.2 297.6,507.9 298.6,509.6 299.4,513.0 300.6,513.0 301.4,509.6 302.4,507.9 301.9,506.2 300.6,504.5Z" fill="#e05a1f"/>
<line x1="300.0" y1="513" x2="300.0" y2="574.5" stroke="#f0a080" stroke-width="1.1"/>
<path d="M291.9,540.9 291.0,540.6 290.7,541.2 290.7,543.5 291.7,543.8 308.3,543.8 309.3,543.5 309.3,541.2 309.0,540.6 308.1,540.9Z" fill="#e05a1f"/>
<path d="M298.0,543.5 299.3,545.0 299.4,548.5 300.6,548.5 300.7,545.0 302.0,543.5Z" fill="#e05a1f"/>

<path d="M291.9,573.4 297.6,573.2 299.2,571.9 300.0,571.9 300.0,575.8 299.2,575.8 297.6,575.6 290.5,575.6 309.5,575.6 302.4,575.6 300.8,575.8 300.0,575.8 300.0,571.9 300.8,571.9 302.4,573.2 308.1,573.4Z" fill="#e05a1f"/>
<rect x="290.5" y="573.2" width="19.0" height="2.6" fill="#e05a1f"/>
<line x1="300.0" y1="533" x2="300.0" y2="574" stroke="#f2a586" stroke-width="1"/>
<line x1="295.1" y1="533" x2="304.9" y2="533" stroke="#f2a586" stroke-width="1.1"/>
<line x1="295.1" y1="574" x2="304.9" y2="574" stroke="#f2a586" stroke-width="1.1"/>
<line x1="290.0" y1="553.1" x2="310.0" y2="553.1" stroke="#111" stroke-width="1.9"/>
<text x="331.5" y="420.7" font-size="13" font-weight="bold">h</text>
<text x="446.5" y="436" font-size="9.25">KEGG_antigen_presentation</text>
<line x1="379.5" y1="462.4" x2="379.5" y2="595.1" stroke="#231f20" stroke-width="1"/>
<line x1="374.1" y1="462.4" x2="379.5" y2="462.4" stroke="#231f20" stroke-width="1"/>
<text x="371.6" y="465.0" font-size="8.9" text-anchor="end">1.0</text>
<line x1="374.1" y1="495.45" x2="379.5" y2="495.45" stroke="#231f20" stroke-width="1"/>
<text x="371.6" y="498.05" font-size="8.9" text-anchor="end">0.5</text>
<line x1="374.1" y1="528.5" x2="379.5" y2="528.5" stroke="#231f20" stroke-width="1"/>
<text x="371.6" y="531.1" font-size="8.9" text-anchor="end">0.0</text>
<line x1="374.1" y1="561.55" x2="379.5" y2="561.55" stroke="#231f20" stroke-width="1"/>
<text x="371.6" y="564.15" font-size="8.9" text-anchor="end">-0.5</text>
<line x1="374.1" y1="594.6" x2="379.5" y2="594.6" stroke="#231f20" stroke-width="1"/>
<text x="371.6" y="597.2" font-size="8.9" text-anchor="end">-1.0</text>
<line x1="379.5" y1="594.6" x2="462.9" y2="594.6" stroke="#231f20" stroke-width="1"/>
<line x1="404.2" y1="594.6" x2="404.2" y2="599.6" stroke="#231f20" stroke-width="1"/>
<line x1="442.3" y1="594.6" x2="442.3" y2="599.6" stroke="#231f20" stroke-width="1"/>
<text x="349.2" y="529" font-size="9.4" text-anchor="middle" transform="rotate(-90 349.2 529)">GSVA (Score)</text>
<line x1="521.5" y1="462.3" x2="521.5" y2="593.4" stroke="#231f20" stroke-width="1"/>
<line x1="516.1" y1="462.3" x2="521.5" y2="462.3" stroke="#231f20" stroke-width="1"/>
<text x="515.2" y="464.9" font-size="8.9" text-anchor="end">1.0</text>
<line x1="516.1" y1="494.95" x2="521.5" y2="494.95" stroke="#231f20" stroke-width="1"/>
<text x="515.2" y="497.55" font-size="8.9" text-anchor="end">0.5</text>
<line x1="516.1" y1="527.6" x2="521.5" y2="527.6" stroke="#231f20" stroke-width="1"/>
<text x="515.2" y="530.2" font-size="8.9" text-anchor="end">0.0</text>
<line x1="516.1" y1="560.25" x2="521.5" y2="560.25" stroke="#231f20" stroke-width="1"/>
<text x="515.2" y="562.85" font-size="8.9" text-anchor="end">-0.5</text>
<line x1="516.1" y1="592.9" x2="521.5" y2="592.9" stroke="#231f20" stroke-width="1"/>
<text x="515.2" y="595.5" font-size="8.9" text-anchor="end">-1.0</text>
<line x1="521.5" y1="592.9" x2="652.8" y2="592.9" stroke="#231f20" stroke-width="1"/>
<line x1="541.7" y1="592.9" x2="541.7" y2="597.9" stroke="#231f20" stroke-width="1"/>
<line x1="571.9" y1="592.9" x2="571.9" y2="597.9" stroke="#231f20" stroke-width="1"/>
<line x1="602.2" y1="592.9" x2="602.2" y2="597.9" stroke="#231f20" stroke-width="1"/>
<line x1="632.4" y1="592.9" x2="632.4" y2="597.9" stroke="#231f20" stroke-width="1"/>
<text x="493.4" y="529" font-size="9.4" text-anchor="middle" transform="rotate(-90 493.4 529)">GSVA (Score)</text>
<text x="422.8" y="483.2" font-size="9" text-anchor="middle"><tspan font-style="italic">p</tspan>&lt;0.0001</text>
<line x1="401" y1="487.4" x2="444.7" y2="487.4" stroke="#222" stroke-width="1.1"/>
<text x="384.1" y="610.7">ANXA1<tspan font-size="5.1" dy="-3.3">high</tspan></text>
<text x="394.9" y="622.7">_Epi</text>
<text x="427" y="610.7">ANXA1<tspan font-size="5.1" dy="-3.3">low</tspan></text>
<text x="437.1" y="622.7">_Epi</text>
<text x="540.1" y="609" text-anchor="middle">Early</text>
<text x="570.3" y="609" text-anchor="middle">Late</text>
<text x="600.6" y="609" text-anchor="middle">Early</text>
<text x="630.8" y="609" text-anchor="middle">Late</text>
<text x="544.1" y="471.4" font-size="8.7">ANXA1<tspan font-size="5.1" dy="-3.3">high</tspan></text>
<text x="533.3" y="479.6" font-size="9" text-anchor="start"><tspan font-style="italic">p</tspan>=5.28e-26</text>
<line x1="541.7" y1="484.2" x2="571.9" y2="484.2" stroke="#222" stroke-width="1.1"/>
<text x="603.8" y="471.4" font-size="8.7">ANXA1<tspan font-size="5.1" dy="-3.3">low</tspan></text>
<text x="594.6" y="479.6" font-size="9" text-anchor="start"><tspan font-style="italic">p</tspan>=6.47e-29</text>
<line x1="602.2" y1="484.2" x2="632.8" y2="484.2" stroke="#222" stroke-width="1.1"/>
<path d="M403.9,493.3 403.9,494.7 403.8,494.7 403.8,496.1 403.8,496.1 403.8,497.5 403.7,497.5 403.7,498.9 403.6,498.9 403.6,500.3 403.5,500.3 403.5,501.7 403.5,501.7 403.5,503.1 403.4,503.1 403.4,504.5 403.3,504.5 403.3,505.9 403.2,505.9 403.2,507.3 403.2,507.3 403.2,508.7 403.1,508.7 403.1,510.1 403.0,510.1 403.0,511.5 402.9,511.5 402.9,512.9 402.9,512.9 402.9,514.3 402.7,514.3 402.7,515.7 402.3,515.7 402.3,517.1 401.8,517.1 401.8,518.5 401.4,518.5 401.4,519.9 402.1,519.9 402.1,521.3 400.4,521.3 400.4,522.7 402.1,522.7 402.1,524.1 399.4,524.1 399.4,525.5 400.9,525.5 400.9,526.9 398.3,526.9 398.3,528.3 399.1,528.3 399.1,529.7 397.3,529.7 397.3,531.1 398.4,531.1 398.4,532.5 396.2,532.5 396.2,533.9 397.2,533.9 397.2,535.3 395.1,535.3 395.1,536.7 396.4,536.7 396.4,538.1 393.9,538.1 393.9,539.5 395.5,539.5 395.5,540.9 392.8,540.9 392.8,542.3 393.4,542.3 393.4,543.7 392.1,543.7 392.1,545.1 393.1,545.1 393.1,546.5 392.1,546.5 392.1,547.9 394.9,547.9 394.9,549.3 393.4,549.3 393.4,550.7 395.6,550.7 395.6,552.1 394.7,552.1 394.7,553.5 397.4,553.5 397.4,554.9 396.0,554.9 396.0,556.3 397.6,556.3 397.6,557.7 397.3,557.7 397.3,559.1 399.6,559.1 399.6,560.5 398.6,560.5 398.6,561.9 401.3,561.9 401.3,563.3 399.9,563.3 399.9,564.7 401.9,564.7 401.9,566.1 401.2,566.1 401.2,567.5 404.0,567.5 404.0,568.9 402.5,568.9 402.5,570.3 404.0,570.3 404.0,571.7 404.8,571.7 404.8,570.3 406.3,570.3 406.3,568.9 404.8,568.9 404.8,567.5 407.6,567.5 407.6,566.1 406.9,566.1 406.9,564.7 408.9,564.7 408.9,563.3 407.5,563.3 407.5,561.9 410.2,561.9 410.2,560.5 409.2,560.5 409.2,559.1 411.5,559.1 411.5,557.7 411.2,557.7 411.2,556.3 412.8,556.3 412.8,554.9 411.4,554.9 411.4,553.5 414.1,553.5 414.1,552.1 413.2,552.1 413.2,550.7 415.4,550.7 415.4,549.3 413.9,549.3 413.9,547.9 416.7,547.9 416.7,546.5 415.7,546.5 415.7,545.1 416.7,545.1 416.7,543.7 415.4,543.7 415.4,542.3 416.0,542.3 416.0,540.9 413.3,540.9 413.3,539.5 414.9,539.5 414.9,538.1 412.4,538.1 412.4,536.7 413.7,536.7 413.7,535.3 411.6,535.3 411.6,533.9 412.6,533.9 412.6,532.5 410.4,532.5 410.4,531.1 411.5,531.1 411.5,529.7 409.7,529.7 409.7,528.3 410.5,528.3 410.5,526.9 407.9,526.9 407.9,525.5 409.4,525.5 409.4,524.1 406.7,524.1 406.7,522.7 408.4,522.7 408.4,521.3 406.7,521.3 406.7,519.9 407.4,519.9 407.4,518.5 407.0,518.5 407.0,517.1 406.5,517.1 406.5,515.7 406.1,515.7 406.1,514.3 405.9,514.3 405.9,512.9 405.9,512.9 405.9,511.5 405.8,511.5 405.8,510.1 405.7,510.1 405.7,508.7 405.6,508.7 405.6,507.3 405.6,507.3 405.6,505.9 405.5,505.9 405.5,504.5 405.4,504.5 405.4,503.1 405.3,503.1 405.3,501.7 405.3,501.7 405.3,500.3 405.2,500.3 405.2,498.9 405.1,498.9 405.1,497.5 405.0,497.5 405.0,496.1 405.0,496.1 405.0,494.7 404.9,494.7 404.9,493.3Z" fill="#4a8cc0"/>
<line x1="404.3" y1="532" x2="404.3" y2="555.4" stroke="#111" stroke-width="1"/>
<line x1="398.8" y1="532" x2="409.8" y2="532" stroke="#333" stroke-width="1.1"/>
<line x1="398.8" y1="555.4" x2="409.8" y2="555.4" stroke="#333" stroke-width="1.1"/>
<line x1="391.6" y1="544" x2="417.0" y2="544" stroke="#111" stroke-width="1.8"/>
<path d="M441.7,498.2 441.7,499.6 441.6,499.6 441.6,501.0 441.6,501.0 441.6,502.4 441.5,502.4 441.5,503.8 441.5,503.8 441.5,505.2 441.4,505.2 441.4,506.6 441.3,506.6 441.3,508.0 441.3,508.0 441.3,509.4 441.2,509.4 441.2,510.8 441.1,510.8 441.1,512.2 441.1,512.2 441.1,513.6 441.0,513.6 441.0,515.0 441.0,515.0 441.0,516.4 440.9,516.4 440.9,517.8 440.8,517.8 440.8,519.2 440.8,519.2 440.8,520.6 440.7,520.6 440.7,522.0 440.7,522.0 440.7,523.4 440.6,523.4 440.6,524.8 440.1,524.8 440.1,526.2 439.5,526.2 439.5,527.6 441.2,527.6 441.2,529.0 438.3,529.0 438.3,530.4 440.0,530.4 440.0,531.8 437.0,531.8 437.0,533.2 437.4,533.2 437.4,534.6 435.6,534.6 435.6,536.0 436.1,536.0 436.1,537.4 434.3,537.4 434.3,538.8 435.7,538.8 435.7,540.2 432.9,540.2 432.9,541.6 434.2,541.6 434.2,543.0 431.5,543.0 431.5,544.4 432.7,544.4 432.7,545.8 430.0,545.8 430.0,547.2 430.9,547.2 430.9,548.6 429.5,548.6 429.5,550.0 431.3,550.0 431.3,551.4 429.8,551.4 429.8,552.8 432.5,552.8 432.5,554.2 431.5,554.2 431.5,555.6 434.1,555.6 434.1,557.0 433.1,557.0 433.1,558.4 435.1,558.4 435.1,559.8 434.7,559.8 434.7,561.2 437.2,561.2 437.2,562.6 436.4,562.6 436.4,564.0 438.7,564.0 438.7,565.4 438.0,565.4 438.0,566.8 440.8,566.8 440.8,568.2 439.6,568.2 439.6,569.6 441.8,569.6 441.8,571.0 441.3,571.0 441.3,572.4 443.1,572.4 443.1,571.0 442.6,571.0 442.6,569.6 444.8,569.6 444.8,568.2 443.6,568.2 443.6,566.8 446.4,566.8 446.4,565.4 445.7,565.4 445.7,564.0 448.0,564.0 448.0,562.6 447.2,562.6 447.2,561.2 449.7,561.2 449.7,559.8 449.3,559.8 449.3,558.4 451.3,558.4 451.3,557.0 450.3,557.0 450.3,555.6 452.9,555.6 452.9,554.2 451.9,554.2 451.9,552.8 454.6,552.8 454.6,551.4 453.1,551.4 453.1,550.0 454.9,550.0 454.9,548.6 453.5,548.6 453.5,547.2 454.4,547.2 454.4,545.8 451.7,545.8 451.7,544.4 452.9,544.4 452.9,543.0 450.2,543.0 450.2,541.6 451.5,541.6 451.5,540.2 448.7,540.2 448.7,538.8 450.1,538.8 450.1,537.4 448.3,537.4 448.3,536.0 448.8,536.0 448.8,534.6 447.0,534.6 447.0,533.2 447.4,533.2 447.4,531.8 444.4,531.8 444.4,530.4 446.1,530.4 446.1,529.0 443.2,529.0 443.2,527.6 444.9,527.6 444.9,526.2 444.3,526.2 444.3,524.8 443.8,524.8 443.8,523.4 443.7,523.4 443.7,522.0 443.7,522.0 443.7,520.6 443.6,520.6 443.6,519.2 443.6,519.2 443.6,517.8 443.5,517.8 443.5,516.4 443.4,516.4 443.4,515.0 443.4,515.0 443.4,513.6 443.3,513.6 443.3,512.2 443.3,512.2 443.3,510.8 443.2,510.8 443.2,509.4 443.1,509.4 443.1,508.0 443.1,508.0 443.1,506.6 443.0,506.6 443.0,505.2 442.9,505.2 442.9,503.8 442.9,503.8 442.9,502.4 442.8,502.4 442.8,501.0 442.8,501.0 442.8,499.6 442.7,499.6 442.7,498.2Z" fill="#e05a1f"/>
<line x1="442.2" y1="539.4" x2="442.2" y2="559.4" stroke="#111" stroke-width="1"/>
<line x1="436.7" y1="539.4" x2="447.7" y2="539.4" stroke="#333" stroke-width="1.1"/>
<line x1="436.7" y1="559.4" x2="447.7" y2="559.4" stroke="#333" stroke-width="1.1"/>
<line x1="429.59999999999997" y1="549" x2="454.8" y2="549" stroke="#111" stroke-width="1.8"/>
<path d="M541.2,493.5 541.2,494.9 541.1,494.9 541.1,496.3 541.1,496.3 541.1,497.7 541.0,497.7 541.0,499.1 540.9,499.1 540.9,500.5 540.8,500.5 540.8,501.9 540.8,501.9 540.8,503.3 540.7,503.3 540.7,504.7 540.6,504.7 540.6,506.1 540.6,506.1 540.6,507.5 540.5,507.5 540.5,508.9 540.4,508.9 540.4,510.3 540.4,510.3 540.4,511.7 540.3,511.7 540.3,513.1 540.2,513.1 540.2,514.5 540.1,514.5 540.1,515.9 540.0,515.9 540.0,517.3 539.6,517.3 539.6,518.7 539.1,518.7 539.1,520.1 540.0,520.1 540.0,521.5 538.2,521.5 538.2,522.9 539.5,522.9 539.5,524.3 537.3,524.3 537.3,525.7 538.3,525.7 538.3,527.1 536.3,527.1 536.3,528.5 537.6,528.5 537.6,529.9 535.3,529.9 535.3,531.3 536.6,531.3 536.6,532.7 534.2,532.7 534.2,534.1 534.8,534.1 534.8,535.5 533.2,535.5 533.2,536.9 533.7,536.9 533.7,538.3 532.1,538.3 532.1,539.7 533.7,539.7 533.7,541.1 531.5,541.1 531.5,542.5 532.9,542.5 532.9,543.9 531.5,543.9 531.5,545.3 533.4,545.3 533.4,546.7 532.5,546.7 532.5,548.1 535.5,548.1 535.5,549.5 533.6,549.5 533.6,550.9 535.8,550.9 535.8,552.3 534.6,552.3 534.6,553.7 537.3,553.7 537.3,555.1 535.7,555.1 535.7,556.5 537.9,556.5 537.9,557.9 536.7,557.9 536.7,559.3 539.1,559.3 539.1,560.7 537.8,560.7 537.8,562.1 539.5,562.1 539.5,563.5 538.8,563.5 538.8,564.9 541.2,564.9 541.2,566.3 539.9,566.3 539.9,567.7 541.3,567.7 541.3,569.1 540.9,569.1 540.9,570.5 542.5,570.5 542.5,569.1 542.1,569.1 542.1,567.7 543.5,567.7 543.5,566.3 542.2,566.3 542.2,564.9 544.6,564.9 544.6,563.5 543.9,563.5 543.9,562.1 545.6,562.1 545.6,560.7 544.3,560.7 544.3,559.3 546.7,559.3 546.7,557.9 545.5,557.9 545.5,556.5 547.7,556.5 547.7,555.1 546.1,555.1 546.1,553.7 548.8,553.7 548.8,552.3 547.6,552.3 547.6,550.9 549.8,550.9 549.8,549.5 547.9,549.5 547.9,548.1 550.9,548.1 550.9,546.7 550.0,546.7 550.0,545.3 551.9,545.3 551.9,543.9 550.5,543.9 550.5,542.5 551.9,542.5 551.9,541.1 549.7,541.1 549.7,539.7 551.3,539.7 551.3,538.3 549.7,538.3 549.7,536.9 550.2,536.9 550.2,535.5 548.6,535.5 548.6,534.1 549.2,534.1 549.2,532.7 546.8,532.7 546.8,531.3 548.1,531.3 548.1,529.9 545.8,529.9 545.8,528.5 547.1,528.5 547.1,527.1 545.1,527.1 545.1,525.7 546.1,525.7 546.1,524.3 543.9,524.3 543.9,522.9 545.2,522.9 545.2,521.5 543.4,521.5 543.4,520.1 544.3,520.1 544.3,518.7 543.8,518.7 543.8,517.3 543.4,517.3 543.4,515.9 543.3,515.9 543.3,514.5 543.2,514.5 543.2,513.1 543.1,513.1 543.1,511.7 543.0,511.7 543.0,510.3 543.0,510.3 543.0,508.9 542.9,508.9 542.9,507.5 542.8,507.5 542.8,506.1 542.8,506.1 542.8,504.7 542.7,504.7 542.7,503.3 542.6,503.3 542.6,501.9 542.6,501.9 542.6,500.5 542.5,500.5 542.5,499.1 542.4,499.1 542.4,497.7 542.3,497.7 542.3,496.3 542.3,496.3 542.3,494.9 542.2,494.9 542.2,493.5Z" fill="#4a8cc0"/>
<line x1="541.7" y1="529.9" x2="541.7" y2="553.1" stroke="#111" stroke-width="1"/>
<line x1="537.2" y1="529.9" x2="546.2" y2="529.9" stroke="#333" stroke-width="1.1"/>
<line x1="537.2" y1="553.1" x2="546.2" y2="553.1" stroke="#333" stroke-width="1.1"/>
<line x1="531.7" y1="541.7" x2="551.7" y2="541.7" stroke="#111" stroke-width="1.8"/>
<path d="M571.4,492.6 571.4,494.0 571.3,494.0 571.3,495.4 571.3,495.4 571.3,496.8 571.2,496.8 571.2,498.2 571.1,498.2 571.1,499.6 571.1,499.6 571.1,501.0 571.0,501.0 571.0,502.4 570.9,502.4 570.9,503.8 570.9,503.8 570.9,505.2 570.8,505.2 570.8,506.6 570.8,506.6 570.8,508.0 570.7,508.0 570.7,509.4 570.6,509.4 570.6,510.8 570.6,510.8 570.6,512.2 570.5,512.2 570.5,513.6 570.4,513.6 570.4,515.0 570.4,515.0 570.4,516.4 570.3,516.4 570.3,517.8 569.9,517.8 569.9,519.2 569.5,519.2 569.5,520.6 569.1,520.6 569.1,522.0 570.0,522.0 570.0,523.4 568.2,523.4 568.2,524.8 568.9,524.8 568.9,526.2 567.3,526.2 567.3,527.6 568.3,527.6 568.3,529.0 566.3,529.0 566.3,530.4 567.0,530.4 567.0,531.8 565.3,531.8 565.3,533.2 565.9,533.2 565.9,534.6 564.3,534.6 564.3,536.0 565.4,536.0 565.4,537.4 563.3,537.4 563.3,538.8 565.1,538.8 565.1,540.2 562.3,540.2 562.3,541.6 563.9,541.6 563.9,543.0 561.7,543.0 561.7,544.4 563.8,544.4 563.8,545.8 561.7,545.8 561.7,547.2 563.6,547.2 563.6,548.6 562.8,548.6 562.8,550.0 565.1,550.0 565.1,551.4 564.0,551.4 564.0,552.8 565.9,552.8 565.9,554.2 565.1,554.2 565.1,555.6 566.9,555.6 566.9,557.0 566.2,557.0 566.2,558.4 567.9,558.4 567.9,559.8 567.3,559.8 567.3,561.2 569.2,561.2 569.2,562.6 568.5,562.6 568.5,564.0 571.3,564.0 571.3,565.4 569.6,565.4 569.6,566.8 571.5,566.8 571.5,568.2 570.7,568.2 570.7,569.6 571.5,569.6 571.5,571.0 572.3,571.0 572.3,569.6 573.1,569.6 573.1,568.2 572.3,568.2 572.3,566.8 574.2,566.8 574.2,565.4 572.5,565.4 572.5,564.0 575.3,564.0 575.3,562.6 574.6,562.6 574.6,561.2 576.5,561.2 576.5,559.8 575.9,559.8 575.9,558.4 577.6,558.4 577.6,557.0 576.9,557.0 576.9,555.6 578.7,555.6 578.7,554.2 577.9,554.2 577.9,552.8 579.8,552.8 579.8,551.4 578.7,551.4 578.7,550.0 581.0,550.0 581.0,548.6 580.2,548.6 580.2,547.2 582.1,547.2 582.1,545.8 580.0,545.8 580.0,544.4 582.1,544.4 582.1,543.0 579.9,543.0 579.9,541.6 581.5,541.6 581.5,540.2 578.7,540.2 578.7,538.8 580.5,538.8 580.5,537.4 578.4,537.4 578.4,536.0 579.5,536.0 579.5,534.6 577.9,534.6 577.9,533.2 578.5,533.2 578.5,531.8 576.8,531.8 576.8,530.4 577.5,530.4 577.5,529.0 575.5,529.0 575.5,527.6 576.5,527.6 576.5,526.2 574.9,526.2 574.9,524.8 575.6,524.8 575.6,523.4 573.8,523.4 573.8,522.0 574.7,522.0 574.7,520.6 574.3,520.6 574.3,519.2 573.9,519.2 573.9,517.8 573.5,517.8 573.5,516.4 573.4,516.4 573.4,515.0 573.4,515.0 573.4,513.6 573.3,513.6 573.3,512.2 573.2,512.2 573.2,510.8 573.2,510.8 573.2,509.4 573.1,509.4 573.1,508.0 573.0,508.0 573.0,506.6 573.0,506.6 573.0,505.2 572.9,505.2 572.9,503.8 572.9,503.8 572.9,502.4 572.8,502.4 572.8,501.0 572.7,501.0 572.7,499.6 572.7,499.6 572.7,498.2 572.6,498.2 572.6,496.8 572.5,496.8 572.5,495.4 572.5,495.4 572.5,494.0 572.4,494.0 572.4,492.6Z" fill="#e05a1f"/>
<line x1="571.9" y1="531.6" x2="571.9" y2="555.3" stroke="#111" stroke-width="1"/>
<line x1="567.4" y1="531.6" x2="576.4" y2="531.6" stroke="#333" stroke-width="1.1"/>
<line x1="567.4" y1="555.3" x2="576.4" y2="555.3" stroke="#333" stroke-width="1.1"/>
<line x1="561.9" y1="543.6" x2="581.9" y2="543.6" stroke="#111" stroke-width="1.8"/>
<path d="M601.7,497.9 601.7,499.3 601.6,499.3 601.6,500.7 601.6,500.7 601.6,502.1 601.5,502.1 601.5,503.5 601.5,503.5 601.5,504.9 601.4,504.9 601.4,506.3 601.3,506.3 601.3,507.7 601.3,507.7 601.3,509.1 601.2,509.1 601.2,510.5 601.2,510.5 601.2,511.9 601.1,511.9 601.1,513.3 601.0,513.3 601.0,514.7 601.0,514.7 601.0,516.1 600.9,516.1 600.9,517.5 600.9,517.5 600.9,518.9 600.8,518.9 600.8,520.3 600.7,520.3 600.7,521.7 600.7,521.7 600.7,523.1 600.6,523.1 600.6,524.5 600.3,524.5 600.3,525.9 599.8,525.9 599.8,527.3 599.3,527.3 599.3,528.7 598.8,528.7 598.8,530.1 600.1,530.1 600.1,531.5 597.7,531.5 597.7,532.9 599.2,532.9 599.2,534.3 596.6,534.3 596.6,535.7 598.2,535.7 598.2,537.1 595.5,537.1 595.5,538.5 597.2,538.5 597.2,539.9 594.3,539.9 594.3,541.3 595.8,541.3 595.8,542.7 593.1,542.7 593.1,544.1 594.8,544.1 594.8,545.5 591.9,545.5 591.9,546.9 592.9,546.9 592.9,548.3 591.9,548.3 591.9,549.7 593.6,549.7 593.6,551.1 592.6,551.1 592.6,552.5 595.6,552.5 595.6,553.9 594.0,553.9 594.0,555.3 596.6,555.3 596.6,556.7 595.3,556.7 595.3,558.1 598.3,558.1 598.3,559.5 596.7,559.5 596.7,560.9 598.5,560.9 598.5,562.3 598.1,562.3 598.1,563.7 600.4,563.7 600.4,565.1 599.4,565.1 599.4,566.5 601.4,566.5 601.4,567.9 600.8,567.9 600.8,569.3 601.8,569.3 601.8,570.7 602.6,570.7 602.6,569.3 603.6,569.3 603.6,567.9 603.0,567.9 603.0,566.5 605.0,566.5 605.0,565.1 604.0,565.1 604.0,563.7 606.3,563.7 606.3,562.3 605.9,562.3 605.9,560.9 607.7,560.9 607.7,559.5 606.1,559.5 606.1,558.1 609.1,558.1 609.1,556.7 607.8,556.7 607.8,555.3 610.4,555.3 610.4,553.9 608.8,553.9 608.8,552.5 611.8,552.5 611.8,551.1 610.8,551.1 610.8,549.7 612.5,549.7 612.5,548.3 611.5,548.3 611.5,546.9 612.5,546.9 612.5,545.5 609.6,545.5 609.6,544.1 611.3,544.1 611.3,542.7 608.6,542.7 608.6,541.3 610.1,541.3 610.1,539.9 607.2,539.9 607.2,538.5 608.9,538.5 608.9,537.1 606.2,537.1 606.2,535.7 607.8,535.7 607.8,534.3 605.2,534.3 605.2,532.9 606.7,532.9 606.7,531.5 604.3,531.5 604.3,530.1 605.6,530.1 605.6,528.7 605.1,528.7 605.1,527.3 604.6,527.3 604.6,525.9 604.1,525.9 604.1,524.5 603.8,524.5 603.8,523.1 603.7,523.1 603.7,521.7 603.7,521.7 603.7,520.3 603.6,520.3 603.6,518.9 603.5,518.9 603.5,517.5 603.5,517.5 603.5,516.1 603.4,516.1 603.4,514.7 603.4,514.7 603.4,513.3 603.3,513.3 603.3,511.9 603.2,511.9 603.2,510.5 603.2,510.5 603.2,509.1 603.1,509.1 603.1,507.7 603.1,507.7 603.1,506.3 603.0,506.3 603.0,504.9 602.9,504.9 602.9,503.5 602.9,503.5 602.9,502.1 602.8,502.1 602.8,500.7 602.8,500.7 602.8,499.3 602.7,499.3 602.7,497.9Z" fill="#4a8cc0"/>
<line x1="602.2" y1="536.5" x2="602.2" y2="557.4" stroke="#111" stroke-width="1"/>
<line x1="597.7" y1="536.5" x2="606.7" y2="536.5" stroke="#333" stroke-width="1.1"/>
<line x1="597.7" y1="557.4" x2="606.7" y2="557.4" stroke="#333" stroke-width="1.1"/>
<line x1="592.0" y1="547" x2="612.4000000000001" y2="547" stroke="#111" stroke-width="1.8"/>
<path d="M631.9,498.7 631.9,500.1 631.8,500.1 631.8,501.5 631.8,501.5 631.8,502.9 631.7,502.9 631.7,504.3 631.7,504.3 631.7,505.7 631.6,505.7 631.6,507.1 631.6,507.1 631.6,508.5 631.5,508.5 631.5,509.9 631.5,509.9 631.5,511.3 631.4,511.3 631.4,512.7 631.4,512.7 631.4,514.1 631.3,514.1 631.3,515.5 631.3,515.5 631.3,516.9 631.2,516.9 631.2,518.3 631.1,518.3 631.1,519.7 631.1,519.7 631.1,521.1 631.0,521.1 631.0,522.5 631.0,522.5 631.0,523.9 630.9,523.9 630.9,525.3 630.9,525.3 630.9,526.7 630.8,526.7 630.8,528.1 630.5,528.1 630.5,529.5 630.0,529.5 630.0,530.9 629.4,530.9 629.4,532.3 628.9,532.3 628.9,533.7 630.4,533.7 630.4,535.1 627.6,535.1 627.6,536.5 629.1,536.5 629.1,537.9 626.4,537.9 626.4,539.3 627.4,539.3 627.4,540.7 625.0,540.7 625.0,542.1 625.7,542.1 625.7,543.5 623.7,543.5 623.7,544.9 624.0,544.9 624.0,546.3 622.3,546.3 622.3,547.7 624.1,547.7 624.1,549.1 622.2,549.1 622.2,550.5 623.9,550.5 623.9,551.9 622.9,551.9 622.9,553.3 625.6,553.3 625.6,554.7 624.3,554.7 624.3,556.1 626.5,556.1 626.5,557.5 625.7,557.5 625.7,558.9 628.5,558.9 628.5,560.3 627.1,560.3 627.1,561.7 629.2,561.7 629.2,563.1 628.5,563.1 628.5,564.5 631.3,564.5 631.3,565.9 629.9,565.9 629.9,567.3 632.0,567.3 632.0,568.7 631.3,568.7 631.3,570.1 633.5,570.1 633.5,568.7 632.8,568.7 632.8,567.3 634.9,567.3 634.9,565.9 633.5,565.9 633.5,564.5 636.3,564.5 636.3,563.1 635.6,563.1 635.6,561.7 637.7,561.7 637.7,560.3 636.3,560.3 636.3,558.9 639.1,558.9 639.1,557.5 638.3,557.5 638.3,556.1 640.5,556.1 640.5,554.7 639.2,554.7 639.2,553.3 641.9,553.3 641.9,551.9 640.9,551.9 640.9,550.5 642.6,550.5 642.6,549.1 640.7,549.1 640.7,547.7 642.5,547.7 642.5,546.3 640.8,546.3 640.8,544.9 641.1,544.9 641.1,543.5 639.1,543.5 639.1,542.1 639.8,542.1 639.8,540.7 637.4,540.7 637.4,539.3 638.4,539.3 638.4,537.9 635.7,537.9 635.7,536.5 637.2,536.5 637.2,535.1 634.4,535.1 634.4,533.7 635.9,533.7 635.9,532.3 635.4,532.3 635.4,530.9 634.8,530.9 634.8,529.5 634.3,529.5 634.3,528.1 634.0,528.1 634.0,526.7 633.9,526.7 633.9,525.3 633.9,525.3 633.9,523.9 633.8,523.9 633.8,522.5 633.8,522.5 633.8,521.1 633.7,521.1 633.7,519.7 633.7,519.7 633.7,518.3 633.6,518.3 633.6,516.9 633.5,516.9 633.5,515.5 633.5,515.5 633.5,514.1 633.4,514.1 633.4,512.7 633.4,512.7 633.4,511.3 633.3,511.3 633.3,509.9 633.3,509.9 633.3,508.5 633.2,508.5 633.2,507.1 633.2,507.1 633.2,505.7 633.1,505.7 633.1,504.3 633.1,504.3 633.1,502.9 633.0,502.9 633.0,501.5 633.0,501.5 633.0,500.1 632.9,500.1 632.9,498.7Z" fill="#e05a1f"/>
<line x1="632.4" y1="539.8" x2="632.4" y2="558.2" stroke="#111" stroke-width="1"/>
<line x1="627.9" y1="539.8" x2="636.9" y2="539.8" stroke="#333" stroke-width="1.1"/>
<line x1="627.9" y1="558.2" x2="636.9" y2="558.2" stroke="#333" stroke-width="1.1"/>
<line x1="622.4" y1="549.3" x2="642.4" y2="549.3" stroke="#111" stroke-width="1.8"/>
</svg></body></html>
